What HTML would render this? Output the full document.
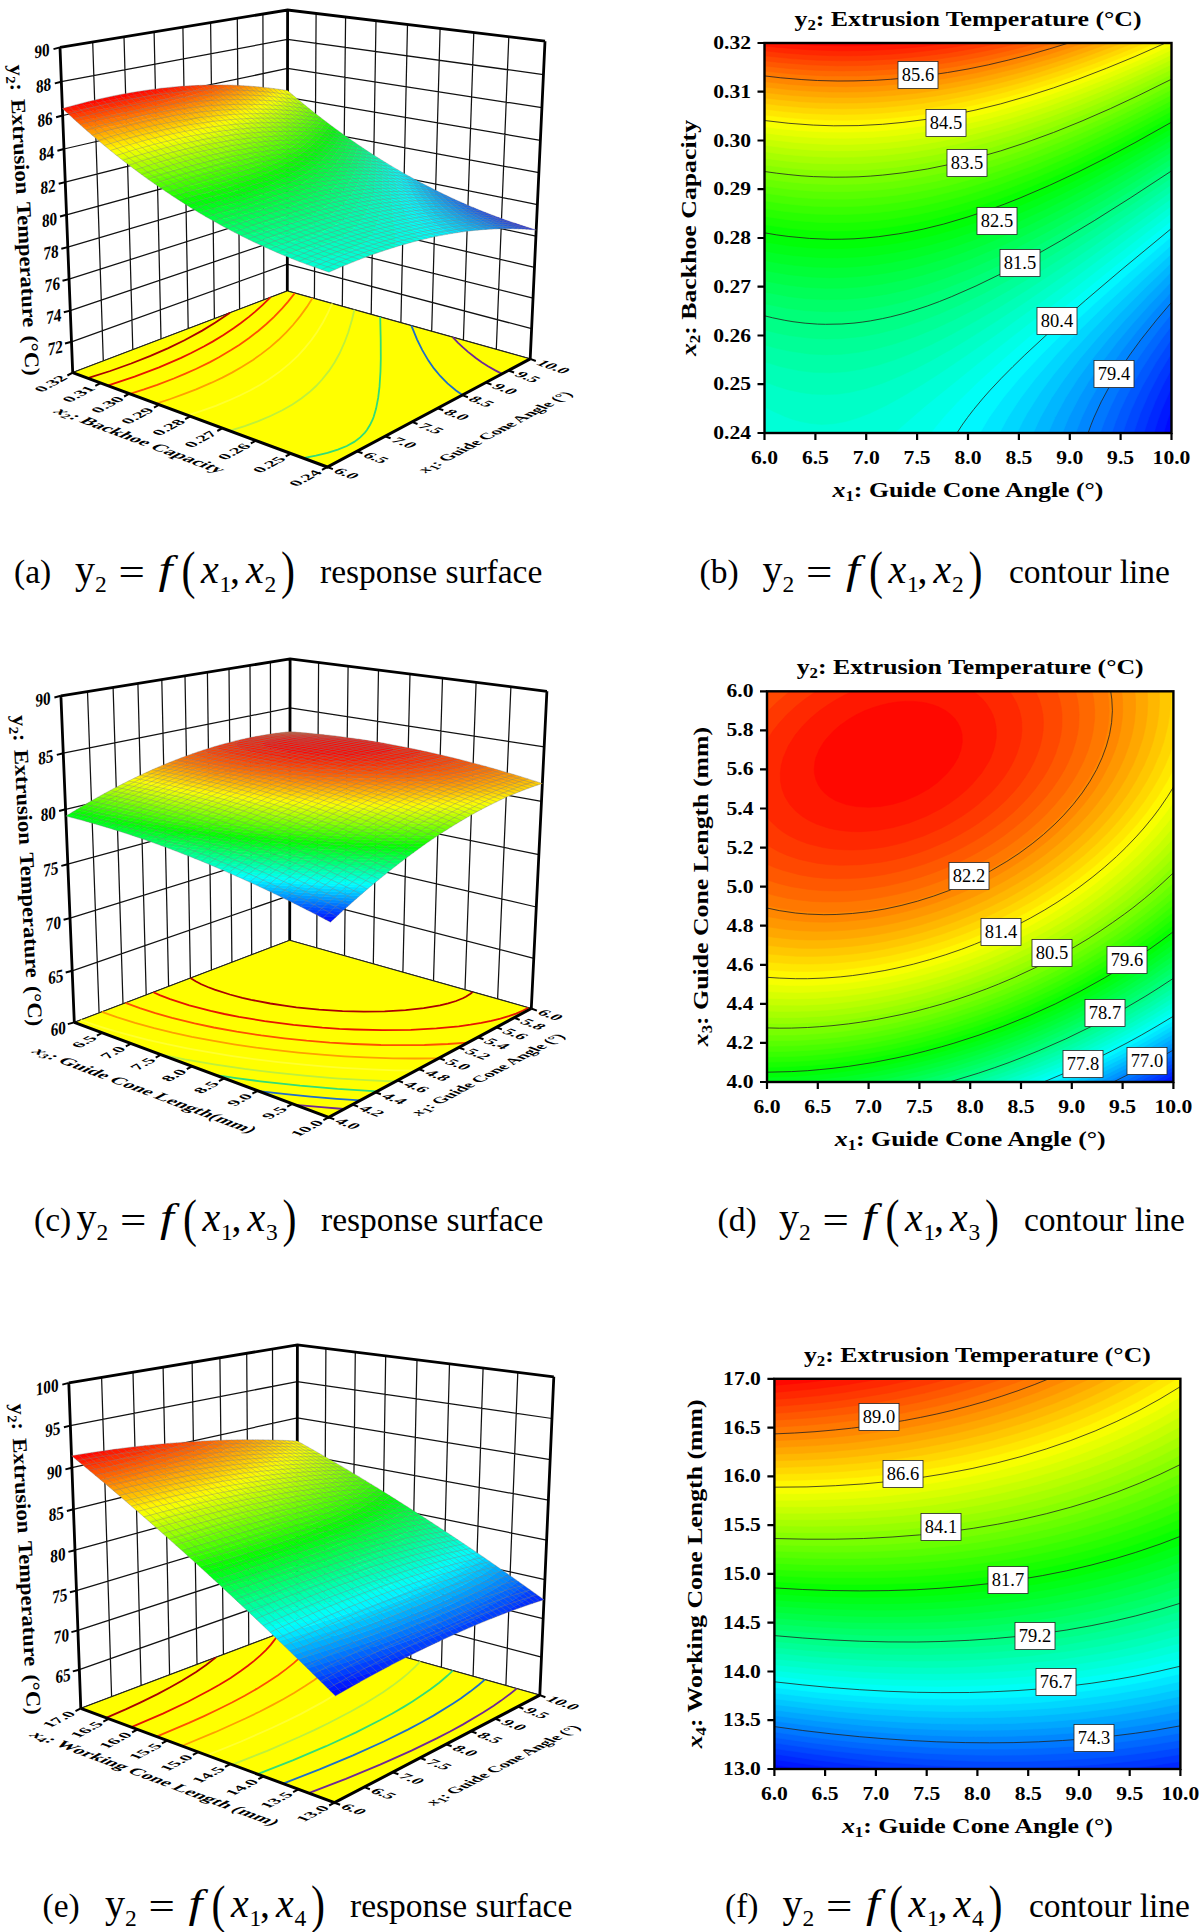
<!DOCTYPE html><html><head><meta charset="utf-8"><title>Figure</title><style>html,body{margin:0;padding:0;background:#fff}svg{display:block}text{font-family:"Liberation Serif","DejaVu Serif",serif;fill:#000}.b{font-weight:bold}.i{font-style:italic}</style></head><body>
<svg width="1200" height="1932" viewBox="0 0 1200 1932">
<rect width="1200" height="1932" fill="#fff"/>
<clipPath id="cpb"><rect x="764.5" y="43" width="407" height="390"/></clipPath><g clip-path="url(#cpb)">
<rect x="764.5" y="43" width="407" height="390" fill="#0000ff"/>
<rect x="764.5" y="43" width="407" height="390" fill="#0008ff"/>
<path d="M764.5 433l399.2 0l3.5-11.7l4.3-12l0-366.3l-407 0l0 390z" fill="#0018ff" stroke="#0018ff" stroke-width="0.6"/>
<path d="M764.5 433l389.5 0l3.6-11.7l4.2-11.7l9.7-22.3l0-344.3l-407 0l0 390z" fill="#0028ff" stroke="#0028ff" stroke-width="0.6"/>
<path d="M764.5 433l379.4 0l5.1-15.6l6.2-15.6l7.2-15.6l9.1-17.1l0-326.1l-407 0l0 390z" fill="#0038ff" stroke="#0038ff" stroke-width="0.6"/>
<path d="M764.5 433l369.1 0l6.7-19.5l8.4-19.5l10.1-19.5l12.7-21.3l0-310.2l-407 0l0 390z" fill="#0048ff" stroke="#0048ff" stroke-width="0.6"/>
<path d="M764.5 433l358.4 0l3.9-11.7l4.6-11.7l5.2-11.7l5.8-11.7l13.4-23.4l15.7-23.8l0-296l-407 0l0 390z" fill="#0058ff" stroke="#0058ff" stroke-width="0.6"/>
<path d="M764.5 433l347.3 0l4-11.7l4.7-11.7l5.4-11.7l8.2-15.6l6.7-11.7l9.9-15.6l10.8-15.6l10-13.5l0-282.9l-407 0l0 390z" fill="#0068ff" stroke="#0068ff" stroke-width="0.6"/>
<path d="M764.5 433l335.7 0l4.2-11.7l6.7-15.6l5.7-11.7l8.7-15.6l9.7-15.6l10.7-15.6l11.5-15.6l14.1-17.8l0-270.8l-407 0l0 390z" fill="#0078ff" stroke="#0078ff" stroke-width="0.6"/>
<path d="M764.5 433l323.7 0l5.9-15.6l7.2-15.6l8.5-15.6l9.5-15.6l10.5-15.6l11.4-15.6l15.5-19.5l14.8-17.5l0-259.4l-407 0l0 390z" fill="#0087ff" stroke="#0087ff" stroke-width="0.6"/>
<path d="M764.5 433l311.1 0l6.2-15.6l7.5-15.6l11.1-19.5l10.1-15.6l11.1-15.6l15.2-19.5l16.4-19.5l18.3-20.4l0-248.7l-407 0l0 390z" fill="#0097ff" stroke="#0097ff" stroke-width="0.6"/>
<path d="M764.5 433l297.8 0l6.4-15.6l10.1-19.5l9.4-15.6l13.3-19.5l14.9-19.5l16.2-19.5l17.4-19.5l21.5-22.8l0-238.5l-407 0l0 390z" fill="#00a7ff" stroke="#00a7ff" stroke-width="0.6"/>
<path d="M764.5 433l283.7 0l6.8-15.6l10.5-19.5l12.6-19.5l14.2-19.5l15.8-19.5l17.1-19.5l21.8-23.4l24.5-24.7l0-228.8l-407 0l0 390z" fill="#00b7ff" stroke="#00b7ff" stroke-width="0.6"/>
<path d="M764.5 433l268.7 0l7.2-15.6l11.1-19.5l13.2-19.5l15-19.5l16.5-19.5l21.3-23.4l26.8-27.3l27.2-26.2l0-219.5l-407 0l0 390z" fill="#00c7ff" stroke="#00c7ff" stroke-width="0.6"/>
<path d="M764.5 433l252.6 0l5.6-11.7l4.3-7.8l12.3-19.5l14.3-19.5l16.1-19.5l21.2-23.4l22.8-23.4l28.2-27.3l29.6-27.3l0-210.6l-407 0l0 390z" fill="#00d7ff" stroke="#00d7ff" stroke-width="0.6"/>
<path d="M764.5 433l234.9 0l8.4-15.6l12.8-19.5l14.9-19.5l20.3-23.4l22.3-23.4l27.9-27.3l29.5-27.3l36-32l0-202l-407 0l0 390z" fill="#00e7ff" stroke="#00e7ff" stroke-width="0.6"/>
<path d="M764.5 433l215.4 0l9.2-15.6l14-19.5l16.2-19.5l21.7-23.4l23.6-23.4l29.3-27.3l35-31.2l42.6-36.5l0-193.6l-407 0l0 390z" fill="#00f7ff" stroke="#00f7ff" stroke-width="0.6"/>
<path d="M764.5 433l193 0l10.5-15.6l15.7-19.5l17.9-19.5l23.5-23.4l29.5-27.3l31-27.3l41.4-35.1l44.5-36.8l0-185.5l-407 0l0 390z" fill="#00fff7" stroke="#00fff7" stroke-width="0.6"/>
<path d="M764.5 433l166.1 0l12.7-15.6l14.4-15.6l20-19.5l25.7-23.4l31.6-27.3l37.4-31.2l48.1-39l51-40.7l0-177.7l-407 0l0 390z" fill="#00ffe7" stroke="#00ffe7" stroke-width="0.6"/>
<path d="M764.5 433l129.7 0l31.5-27.3l53.1-42.9l79.7-62.4l113-87.3l0-170.1l-407 0l0 390z" fill="#00ffd7" stroke="#00ffd7" stroke-width="0.6"/>
<path d="M799.8 421.3l9.5 2l12.2 1.1l12.2-0.7l12.2-2.3l12.2-3.6l12.2-4.8l16.3-7.8l16.3-9l20.3-12.3l16.3-10.4l24.4-16.4l32.6-22.7l77.3-56.1l97.7-72.6l0-162.7l-407 0l0 363.8l8.1 4.2l12.2 5.4l8.2 3l6.8 1.9z" fill="#00ffc7" stroke="#00ffc7" stroke-width="0.6"/>
<path d="M812.1 394l13.5 0.6l12.2-0.6l12.2-1.7l16.2-3.8l16.3-5.3l16.3-6.7l16.3-7.6l16.3-8.5l20.3-11.5l20.4-12.3l24.4-15.5l28.5-18.8l61-42.3l85.5-61.6l0-155.4l-407 0l0 338.6l12.2 4.6l12.2 3.7l12.2 2.6l11 1.5z" fill="#00ffb7" stroke="#00ffb7" stroke-width="0.6"/>
<path d="M799 370.6l14.3 1.7l16.3 0.5l16.3-1.1l16.3-2.7l16.3-4l16.2-5.2l16.3-6.3l20.4-9l20.3-10.3l24.4-13.4l24.5-14.4l24.4-15.2l32.5-21.1l32.6-21.9l40.7-28.1l40.7-28.7l0-148.4l-407 0l0 318.8l16.3 4.9l18.2 3.9z" fill="#00ffa7" stroke="#00ffa7" stroke-width="0.6"/>
<path d="M789.6 351.1l19.7 2.8l16.3 0.8l16.2-0.5l16.3-1.9l16.3-3.1l20.3-5.5l20.4-7l20.3-8.3l20.4-9.5l24.4-12.5l28.5-16l24.4-14.5l28.5-17.8l32.6-21.1l36.6-24.5l40.7-28l0-141.5l-407 0l0 301.9l12.2 3.4l12.9 2.8z" fill="#00ff97" stroke="#00ff97" stroke-width="0.6"/>
<path d="M789.3 335.5l20 2.6l16.3 0.8l16.2-0.4l20.4-2.1l16.3-3l20.3-5.2l20.4-6.6l20.3-7.9l20.4-8.9l24.4-11.9l24.4-12.9l28.5-16.2l32.6-19.6l32.5-20.6l32.6-21.3l36.6-24.6l0-134.7l-407 0l0 286.9l12.2 3.1l12.6 2.5z" fill="#00ff87" stroke="#00ff87" stroke-width="0.6"/>
<path d="M807.9 323.8l17.7 0.9l16.2-0.3l20.4-1.9l16.3-2.7l20.3-4.7l16.3-4.7l20.3-7l20.4-8.2l20.3-9l24.5-12l20.3-10.6l28.5-16l28.5-16.8l28.5-17.5l32.5-20.8l32.6-21.4l0-128.1l-407 0l0 273.2l20.3 4.5l12.3 1.9l10.8 1.2z" fill="#00ff78" stroke="#00ff78" stroke-width="0.6"/>
<path d="M786.9 308.2l18.3 2.4l20.4 1.1l16.2-0.2l20.4-1.7l20.3-3.2l20.4-4.6l20.3-5.9l20.4-7l24.4-9.7l20.4-9l24.4-11.9l28.5-15l28.5-16l32.5-19.2l32.6-20.2l36.6-23.5l0-121.6l-407 0l0 260.7l22.4 4.5z" fill="#00ff68" stroke="#00ff68" stroke-width="0.6"/>
<path d="M788.5 296.5l16.7 2l20.4 1.1l20.3-0.4l20.3-1.8l20.4-3.2l20.4-4.5l20.3-5.7l20.3-6.8l24.5-9.4l20.3-8.8l24.4-11.5l28.5-14.6l28.5-15.6l28.5-16.4l32.6-19.6l36.6-23l0-115.3l-407 0l0 248.9l24 4.6z" fill="#00ff58" stroke="#00ff58" stroke-width="0.6"/>
<path d="M785.3 284.8l19.9 2.4l20.4 1.1l16.2-0.1l20.4-1.4l20.3-2.8l20.4-4l20.3-5.1l24.4-7.6l24.5-9l24.4-10.2l24.4-11.2l24.4-12.1l28.5-15.1l28.5-16l32.6-19.2l36.6-22.5l0-109l-407 0l0 237.9l20.8 3.9z" fill="#00ff48" stroke="#00ff48" stroke-width="0.6"/>
<path d="M811.7 277l17.9 0.7l20.4-0.6l16.2-1.3l20.4-2.8l16.3-3.1l20.3-4.9l20.4-5.9l20.3-6.9l20.4-7.7l24.4-10.3l24.4-11.3l24.4-12.1l24.5-12.9l28.4-15.8l28.5-16.5l32.6-19.7l0-102.9l-407 0l0 227.5l24.4 4.2l22.8 2.3z" fill="#00ff38" stroke="#00ff38" stroke-width="0.6"/>
<path d="M794.4 265.3l18.9 1.7l20.4 0.5l16.3-0.4l20.3-1.7l20.4-2.9l20.3-4l20.4-5l20.3-6.1l20.4-6.9l24.4-9.4l24.4-10.5l24.4-11.3l24.5-12.2l28.4-15l28.5-15.9l28.5-16.6l16.3-9.7l0-96.9l-407 0l0 217.5l16.3 3l13.6 1.8z" fill="#00ff28" stroke="#00ff28" stroke-width="0.6"/>
<path d="M818.3 257.5l19.5 0.3l20.3-0.9l16.3-1.5l20.3-2.9l20.4-4.1l16.3-3.9l20.3-5.8l20.4-6.7l20.3-7.5l20.4-8.2l24.4-10.7l24.4-11.6l24.4-12.3l28.5-15.2l28.5-15.9l28.5-16.6l0-91l-407 0l0 208l12.2 2.2l16.3 2.3l25.3 2z" fill="#00ff18" stroke="#00ff18" stroke-width="0.6"/>
<path d="M789.3 245.8l20 1.9l16.3 0.8l16.2 0l20.4-1.1l20.3-2.1l16.3-2.5l16.3-3.2l20.3-4.8l20.4-5.7l20.3-6.6l20.4-7.4l20.3-8.1l20.4-8.8l24.4-11.2l24.4-12.1l24.4-12.6l28.5-15.6l32.6-18.5l0-85.2l-407 0l0 198.9l24.8 3.9z" fill="#00ff08" stroke="#00ff08" stroke-width="0.6"/>
<path d="M799.6 238l17.8 1.2l16.3 0.4l16.3-0.3l20.3-1.4l16.3-1.9l20.4-3.3l20.3-4.2l16.3-4.1l20.3-5.9l20.4-6.7l20.3-7.4l20.4-8.2l20.3-8.7l20.4-9.3l24.4-11.9l24.4-12.5l28.5-15.3l28.5-16l0-79.5l-407 0l0 190.1l16.3 2.7l18.8 2.2z" fill="#08ff00" stroke="#08ff00" stroke-width="0.6"/>
<path d="M809.8 230.2l19.8 0.8l16.3-0.1l16.3-0.9l16.3-1.4l20.3-2.8l16.3-2.9l16.3-3.5l20.3-5.2l16.3-4.7l20.4-6.7l20.3-7.3l20.3-8.1l20.4-8.6l20.4-9.2l24.4-11.7l24.4-12.4l28.5-15.2l24.4-13.5l0-73.8l-407 0l0 181.7l24.4 3.6l20.9 1.9z" fill="#18ff00" stroke="#18ff00" stroke-width="0.6"/>
<path d="M820.1 222.4l17.7 0.3l16.2-0.4l16.3-1.1l16.3-1.7l16.3-2.4l16.3-2.9l20.3-4.5l16.3-4.3l16.3-4.7l20.3-6.6l20.4-7.3l20.3-8l20.4-8.5l20.3-9.1l44.8-21.8l24.4-12.7l28.5-15.5l0-68.2l-407 0l0 173.4l28.5 4.1l27.1 1.9z" fill="#28ff00" stroke="#28ff00" stroke-width="0.6"/>
<path d="M830.9 214.6l15-0.1l16.3-0.7l16.3-1.3l16.2-2l16.3-2.6l16.3-3.1l16.3-3.7l20.3-5.3l20.4-6.2l16.3-5.4l36.6-13.7l40.7-17.5l44.8-21.5l48.8-25.7l0-62.8l-407 0l0 165.5l16.3 2.5l16.3 1.8l16.2 1.2l17.6 0.6z" fill="#38ff00" stroke="#38ff00" stroke-width="0.6"/>
<path d="M833.3 206.8l16.7-0.2l16.2-0.8l16.3-1.5l16.3-2l16.3-2.6l16.3-3.2l32.5-7.9l32.6-9.9l36.6-13.2l36.7-15.1l40.7-18.8l32.5-16.2l28.5-15l0-57.4l-407 0l0 157.8l16.3 2.4l16.3 1.8l16.2 1.2l20 0.6z" fill="#48ff00" stroke="#48ff00" stroke-width="0.6"/>
<path d="M823.4 199l14.4 0.2l16.2-0.3l28.5-2.1l16.3-1.9l16.3-2.6l16.3-3l16.2-3.6l32.6-8.7l32.6-10.6l36.6-13.7l36.6-15.6l40.7-19.2l44.8-22.9l0-52l-407 0l0 150.2l28.5 3.8l16.3 1.3l14.1 0.7z" fill="#58ff00" stroke="#58ff00" stroke-width="0.6"/>
<path d="M814 191.2l15.6 0.5l16.3 0l28.5-1.4l16.3-1.6l16.3-2.2l28.4-5.1l28.5-6.7l32.6-9.4l32.5-11.1l36.7-14.4l24.4-10.5l28.5-13.1l24.4-11.9l28.5-14.5l0-46.8l-407 0l0 142.9l24.4 3.3l25.1 2z" fill="#68ff00" stroke="#68ff00" stroke-width="0.6"/>
<path d="M804.7 183.4l29 1.2l28.5-0.7l28.5-2.3l28.5-4.1l32.5-6.6l28.5-7.3l32.6-10l32.5-11.7l28.5-11.4l32.6-14.2l32.5-15.4l32.6-16.3l0-41.6l-407 0l0 135.8l20.4 2.8l19.8 1.8z" fill="#78ff00" stroke="#78ff00" stroke-width="0.6"/>
<path d="M795.4 175.6l26.1 1.7l28.5 0.1l28.5-1.6l28.5-3.2l28.4-4.9l28.5-6.3l32.6-9l32.5-10.6l32.6-12.2l36.6-15.3l36.7-16.8l36.6-18l0-36.5l-407 0l0 128.8l16.3 2.3l14.6 1.5z" fill="#87ff00" stroke="#87ff00" stroke-width="0.6"/>
<path d="M786.2 167.8l27.1 2.2l28.5 0.6l24.4-0.7l28.5-2.5l28.5-4l28.5-5.6l28.5-7l32.6-9.7l36.6-12.7l40.7-16.2l40.7-18.1l40.7-19.7l0-31.4l-407 0l0 122l21.7 2.8z" fill="#97ff00" stroke="#97ff00" stroke-width="0.6"/>
<path d="M835 163.9l27.2-0.5l24.4-1.8l24.4-2.9l24.4-4l24.5-5.1l28.5-7.3l28.4-8.5l28.5-9.7l32.6-12.4l28.5-11.9l32.5-14.7l32.6-15.7l0-26.4l-407 0l0 115.3l20.3 2.6l16.3 1.6l16.3 1l17.6 0.4z" fill="#a7ff00" stroke="#a7ff00" stroke-width="0.6"/>
<path d="M804.3 156.1l25.3 1.1l24.4-0.1l28.5-1.6l24.5-2.7l24.4-3.7l28.5-5.7l24.4-6.1l28.5-8.1l36.6-12.3l36.6-14l40.7-17.4l44.8-21.1l0-21.4l-407 0l0 108.7l20.3 2.7l19.5 1.7z" fill="#b7ff00" stroke="#b7ff00" stroke-width="0.6"/>
<path d="M788.6 148.3l24.7 1.9l24.5 0.7l24.4-0.5l24.4-1.7l24.4-2.7l28.5-4.6l28.5-6l24.4-6.2l20.4-5.9l20.3-6.5l20.4-7l20.3-7.6l24.4-9.7l20.4-8.6l24.4-10.9l24.4-11.5l4.1-2l0-16.5l-407 0l0 102.3l24.1 3z" fill="#c7ff00" stroke="#c7ff00" stroke-width="0.6"/>
<path d="M829 144.4l21 0l24.4-1l20.3-1.7l24.5-3.1l20.3-3.3l24.4-5l24.5-5.9l24.4-6.8l36.6-11.9l36.6-13.6l36.7-15.1l36.6-16.5l12.2-5.8l0-11.7l-407 0l0 96l32.6 3.7l31.9 1.7z" fill="#d7ff00" stroke="#d7ff00" stroke-width="0.6"/>
<path d="M798.1 136.6l23.4 1.4l24.4 0.3l20.3-0.6l24.5-1.7l20.3-2.3l24.4-3.7l24.5-4.7l24.4-5.6l28.5-7.8l28.5-8.9l32.5-11.5l32.6-12.7l32.5-13.9l32.6-15l0-6.9l-407 0l0 89.9l16.3 2l17.3 1.7z" fill="#e7ff00" stroke="#e7ff00" stroke-width="0.6"/>
<path d="M780.4 128.8l20.7 1.9l24.5 1.3l24.4 0.1l24.4-0.9l20.3-1.7l24.5-2.9l24.4-3.9l24.4-5l24.4-5.8l28.5-8l24.4-7.7l28.5-10l32.6-12.5l36.6-15.5l28.5-13l0-2.2l-407 0l0 83.8l15.9 2z" fill="#f7ff00" stroke="#f7ff00" stroke-width="0.6"/>
<path d="M803.8 124.9l21.8 1.1l20.3 0.2l20.3-0.6l20.4-1.3l20.4-2l20.3-2.7l24.4-4.2l20.4-4.2l20.3-4.9l24.4-6.6l24.5-7.5l24.4-8.2l24.4-9l24.4-9.6l24.4-10.3l27.2-12.1l-401.6 0l0 77.8l20.3 2.5l19 1.6z" fill="#fff700" stroke="#fff700" stroke-width="0.6"/>
<path d="M782.1 117.1l23.1 2l20.4 1l20.3 0.2l24.4-0.8l20.4-1.4l24.4-2.6l24.4-3.6l20.4-3.8l20.3-4.4l24.4-6.1l24.4-6.9l24.5-7.8l24.4-8.5l24.4-9.1l28.5-11.6l24.9-10.7l-391.2 0l0 72l17.6 2.1z" fill="#ffe700" stroke="#ffe700" stroke-width="0.6"/>
<path d="M804.1 113.2l17.4 0.9l20.3 0.4l20.4-0.4l20.3-1.1l20.4-1.8l20.3-2.5l20.4-3.1l20.3-3.8l20.4-4.5l20.3-5.1l20.4-5.6l24.4-7.5l20.4-6.8l24.4-8.9l24.4-9.5l26.3-10.9l-380.4 0l0 66.2l20.3 2.4l19.3 1.6z" fill="#ffd700" stroke="#ffd700" stroke-width="0.6"/>
<path d="M780.2 105.4l20.9 1.9l20.4 1.1l20.3 0.4l20.4-0.4l20.3-1l20.4-1.8l20.3-2.4l24.4-3.8l20.4-3.9l24.4-5.5l20.4-5.2l24.4-7l24.4-7.8l24.4-8.5l24.4-9.2l23.3-9.3l-369.2 0l0 60.5l15.7 1.9z" fill="#ffc700" stroke="#ffc700" stroke-width="0.6"/>
<path d="M799.2 101.5l18.2 1.1l20.4 0.5l20.3-0.2l20.4-0.9l20.3-1.5l16.3-1.8l20.3-2.8l20.4-3.4l20.3-4.1l20.4-4.7l20.3-5.2l20.4-5.8l40.7-13.2l44.2-16.5l-357.6 0l0 54.9l16.3 1.9l18.4 1.7z" fill="#ffb700" stroke="#ffb700" stroke-width="0.6"/>
<path d="M775.3 93.7l17.7 1.8l20.3 1.3l20.4 0.7l20.3 0l20.4-0.8l20.3-1.4l20.4-2l20.3-2.8l20.4-3.4l20.3-4l20.4-4.6l24.4-6.3l24.4-7l20.4-6.5l20.3-6.9l23.9-8.8l-345.4 0l0 49.4l10.8 1.3z" fill="#ffa700" stroke="#ffa700" stroke-width="0.6"/>
<path d="M790.8 89.8l18.5 1.3l20.3 0.8l16.3 0.2l20.3-0.4l16.3-0.9l20.4-1.6l16.3-1.8l20.3-2.8l20.4-3.5l20.3-4l36.6-8.8l40.7-11.8l39.7-13.5l-332.7 0l0 43.9l26.3 2.9z" fill="#ff9700" stroke="#ff9700" stroke-width="0.6"/>
<path d="M812.4 85.9l33.5 0.8l32.6-1l32.5-2.7l32.6-4.3l32.5-5.9l36.7-8.5l36.6-10.2l34.4-11.1l-319.3 0l0 38.6l24.4 2.7l23.5 1.6z" fill="#ff8700" stroke="#ff8700" stroke-width="0.6"/>
<path d="M780.3 78.1l33 2.5l16.3 0.6l20.4 0.2l32.5-1.2l16.3-1.2l20.4-2.1l36.6-5.4l36.6-7.3l36.6-9.1l40.6-12.1l-305.1 0l0 33.3l15.8 1.8z" fill="#ff7800" stroke="#ff7800" stroke-width="0.6"/>
<path d="M795.2 74.2l30.4 1.7l32.5 0.1l32.6-1.6l32.5-3.2l32.6-4.8l32.6-6.3l32.5-7.7l33.5-9.4l-289.9 0l0 28.1l30.7 3.1z" fill="#ff6800" stroke="#ff6800" stroke-width="0.6"/>
<path d="M816.1 70.3l25.7 0.6l28.5-0.5l24.4-1.4l28.5-2.9l28.5-4l28.5-5.2l28.5-6.3l29.3-7.6l-273.5 0l0 22.9l24.4 2.6l27.2 1.8z" fill="#ff5800" stroke="#ff5800" stroke-width="0.6"/>
<path d="M779.6 62.5l29.7 2.3l28.5 1l28.4-0.3l32.6-1.9l28.5-3l32.6-4.8l28.5-5.5l31.7-7.3l-255.6 0l0 17.8l15.1 1.7z" fill="#ff4800" stroke="#ff4800" stroke-width="0.6"/>
<path d="M792.2 58.6l25.2 1.6l24.4 0.6l24.4-0.4l28.5-1.5l24.5-2.3l28.4-3.7l24.5-4.2l28-5.7l-235.6 0l0 12.8l27.7 2.8z" fill="#ff3800" stroke="#ff3800" stroke-width="0.6"/>
<path d="M808 54.7l21.6 0.9l20.4 0.2l20.3-0.5l20.4-1.1l20.3-1.6l24.4-2.9l20.4-3l21.3-3.7l-212.6 0l0 7.8l20.3 2.2l23.2 1.7z" fill="#ff2800" stroke="#ff2800" stroke-width="0.6"/>
<path d="M839.5 50.8l26.7-0.3l28.5-1.4l28.5-2.7l25.8-3.4l-184.5 0l0 2.9l12.2 1.3l32.6 2.6l30.2 1z" fill="#ff1800" stroke="#ff1800" stroke-width="0.6"/>
<path d="M783.2 43l30.1 2.2l32.6 0.8l32.6-0.8l31-2.2l-126.3 0z" fill="#ff0800" stroke="#ff0800" stroke-width="0.6"/>
<path d="M1088.1 433l2.8-7.8l3.1-7.8l7.2-15.6l8.4-15.6l9.6-15.6l10.5-15.6l11.4-15.6l15.5-19.5l14.9-17.6" fill="none" stroke="#222" stroke-width="0.8"/>
<path d="M957 433l5-7.8l5.6-7.8l6-7.8l9.7-11.7l6.9-7.8l11-11.7l11.6-11.7l12-11.7l29.5-27.3l31.1-27.3l36.7-31.2l49.4-40.8" fill="none" stroke="#222" stroke-width="0.8"/>
<path d="M764.5 315.8l8.1 2l12.2 2.5l8.2 1.4l12.2 1.5l12.2 0.9l8.2 0.2l16.2-0.3l12.2-0.9l8.2-1l8.1-1.2l12.2-2.3l8.2-1.8l12.2-3.1l12.2-3.7l12.2-4l12.2-4.5l12.2-4.9l24.4-10.7l24.5-11.9l28.4-15.2l32.6-18.5l32.6-19.6l36.6-23.1l40.7-26.7" fill="none" stroke="#222" stroke-width="0.8"/>
<path d="M764.5 232.8l12.2 2.1l12.2 1.6l20.4 1.9l20.3 0.9l12.2-0.1l12.2-0.4l12.2-0.9l12.3-1.2l20.3-2.9l12.2-2.2l12.2-2.5l20.4-5l24.4-7.2l24.4-8.3l12.2-4.5l16.3-6.5l28.5-12.2l28.5-13.3l28.5-14.3l28.5-15.1l36.6-20.5" fill="none" stroke="#222" stroke-width="0.8"/>
<path d="M764.5 171.5l12.2 1.7l12.2 1.4l12.2 1.2l12.2 0.8l20.4 0.6l12.2-0.1l12.2-0.3l12.2-0.7l12.2-1l20.4-2.3l24.4-3.8l24.4-5l24.4-6.1l24.5-7l24.4-8l28.5-10.4l28.5-11.5l28.4-12.4l28.5-13.3l32.6-16.1" fill="none" stroke="#222" stroke-width="0.8"/>
<path d="M764.5 120.5l24.4 2.8l24.4 1.8l20.4 0.7l24.4-0.2l24.4-1.3l20.4-1.9l24.4-3.2l24.4-4.1l24.4-5.2l24.5-6l28.4-8.2l24.5-7.8l24.4-8.6l28.5-11l28.5-11.7l30.6-13.6" fill="none" stroke="#222" stroke-width="0.8"/>
<path d="M764.5 75.9l16.3 1.9l20.3 1.7l16.3 1l20.4 0.5l16.2-0.1l20.4-0.6l16.3-1l20.3-1.9l16.3-1.9l20.3-3l20.4-3.5l20.4-4.2l20.3-4.8l20.3-5.2l20.4-5.9l19.2-5.9" fill="none" stroke="#222" stroke-width="0.8"/>
</g>
<rect x="898" y="61.5" width="40" height="27" fill="#fff" stroke="#222" stroke-width="0.8"/>
<text x="918" y="81.2" font-size="18.5" text-anchor="middle">85.6</text>
<rect x="926" y="109.5" width="40" height="27" fill="#fff" stroke="#222" stroke-width="0.8"/>
<text x="946" y="129.2" font-size="18.5" text-anchor="middle">84.5</text>
<rect x="947" y="149.5" width="40" height="27" fill="#fff" stroke="#222" stroke-width="0.8"/>
<text x="967" y="169.2" font-size="18.5" text-anchor="middle">83.5</text>
<rect x="977" y="207.5" width="40" height="27" fill="#fff" stroke="#222" stroke-width="0.8"/>
<text x="997" y="227.2" font-size="18.5" text-anchor="middle">82.5</text>
<rect x="1000" y="249.5" width="40" height="27" fill="#fff" stroke="#222" stroke-width="0.8"/>
<text x="1020" y="269.2" font-size="18.5" text-anchor="middle">81.5</text>
<rect x="1037" y="307.5" width="40" height="27" fill="#fff" stroke="#222" stroke-width="0.8"/>
<text x="1057" y="327.2" font-size="18.5" text-anchor="middle">80.4</text>
<rect x="1094" y="360.5" width="40" height="27" fill="#fff" stroke="#222" stroke-width="0.8"/>
<text x="1114" y="380.2" font-size="18.5" text-anchor="middle">79.4</text>
<rect x="764.5" y="43" width="407" height="390" fill="none" stroke="#000" stroke-width="2.4"/>
<text class="b" transform="translate(764.5 463.5) scale(1.2 1)" font-size="18" text-anchor="middle">6.0</text>
<text class="b" transform="translate(815.4 463.5) scale(1.2 1)" font-size="18" text-anchor="middle">6.5</text>
<text class="b" transform="translate(866.2 463.5) scale(1.2 1)" font-size="18" text-anchor="middle">7.0</text>
<text class="b" transform="translate(917.1 463.5) scale(1.2 1)" font-size="18" text-anchor="middle">7.5</text>
<text class="b" transform="translate(968 463.5) scale(1.2 1)" font-size="18" text-anchor="middle">8.0</text>
<text class="b" transform="translate(1018.9 463.5) scale(1.2 1)" font-size="18" text-anchor="middle">8.5</text>
<text class="b" transform="translate(1069.8 463.5) scale(1.2 1)" font-size="18" text-anchor="middle">9.0</text>
<text class="b" transform="translate(1120.6 463.5) scale(1.2 1)" font-size="18" text-anchor="middle">9.5</text>
<text class="b" transform="translate(1171.5 463.5) scale(1.2 1)" font-size="18" text-anchor="middle">10.0</text>
<text class="b" transform="translate(751 439) scale(1.2 1)" font-size="18" text-anchor="end">0.24</text>
<text class="b" transform="translate(751 390.2) scale(1.2 1)" font-size="18" text-anchor="end">0.25</text>
<text class="b" transform="translate(751 341.5) scale(1.2 1)" font-size="18" text-anchor="end">0.26</text>
<text class="b" transform="translate(751 292.7) scale(1.2 1)" font-size="18" text-anchor="end">0.27</text>
<text class="b" transform="translate(751 244) scale(1.2 1)" font-size="18" text-anchor="end">0.28</text>
<text class="b" transform="translate(751 195.2) scale(1.2 1)" font-size="18" text-anchor="end">0.29</text>
<text class="b" transform="translate(751 146.5) scale(1.2 1)" font-size="18" text-anchor="end">0.30</text>
<text class="b" transform="translate(751 97.7) scale(1.2 1)" font-size="18" text-anchor="end">0.31</text>
<text class="b" transform="translate(751 49) scale(1.2 1)" font-size="18" text-anchor="end">0.32</text>
<path d="M764.5 433v7M815.4 433v7M866.2 433v7M917.1 433v7M968 433v7M1018.9 433v7M1069.8 433v7M1120.6 433v7M1171.5 433v7M764.5 433h-7M764.5 384.2h-7M764.5 335.5h-7M764.5 286.7h-7M764.5 238h-7M764.5 189.2h-7M764.5 140.5h-7M764.5 91.7h-7M764.5 43h-7" stroke="#000" stroke-width="2.2" fill="none"/>
<text class="b" transform="translate(968 26) scale(1.2 1)" font-size="21.5" text-anchor="middle">y<tspan font-size="14" dy="4">2</tspan><tspan dy="-4">: Extrusion Temperature (°C)</tspan></text>
<text class="b" transform="translate(968 496.5) scale(1.2 1)" font-size="21.5" text-anchor="middle"><tspan class="i">x</tspan><tspan font-size="14" dy="4">1</tspan><tspan dy="-4">: Guide Cone Angle (°)</tspan></text>
<text class="b" transform="translate(696 238) rotate(-90) scale(1.2 1)" font-size="21.5" text-anchor="middle"><tspan class="i">x</tspan><tspan font-size="14" dy="4">2</tspan><tspan dy="-4">: Backhoe Capacity</tspan></text>
<clipPath id="cpd"><rect x="767" y="691.3" width="406.4" height="390.7"/></clipPath><g clip-path="url(#cpd)">
<rect x="767" y="691.3" width="406.4" height="390.7" fill="#0000ff"/>
<rect x="767" y="691.3" width="406.4" height="390.7" fill="#0008ff"/>
<path d="M767 1082l400.6 0l5.8-3.2l0-387.5l-406.4 0l0 390.7z" fill="#0018ff" stroke="#0018ff" stroke-width="0.6"/>
<path d="M767 1082l393.5 0l12.9-7l0-383.7l-406.4 0l0 390.7z" fill="#0028ff" stroke="#0028ff" stroke-width="0.6"/>
<path d="M767 1082l386.3 0l20.1-10.9l0-379.8l-406.4 0l0 390.7z" fill="#0038ff" stroke="#0038ff" stroke-width="0.6"/>
<path d="M767 1082l379 0l27.4-14.9l0-375.8l-406.4 0l0 390.7z" fill="#0048ff" stroke="#0048ff" stroke-width="0.6"/>
<path d="M767 1082l371.5 0l34.9-18.8l0-371.9l-406.4 0l0 390.7z" fill="#0058ff" stroke="#0058ff" stroke-width="0.6"/>
<path d="M767 1082l363.9 0l22.2-11.6l20.3-11.3l0-367.8l-406.4 0l0 390.7z" fill="#0068ff" stroke="#0068ff" stroke-width="0.6"/>
<path d="M767 1082l356.1 0l25.9-13.4l24.4-13.5l0-363.8l-406.4 0l0 390.7z" fill="#0078ff" stroke="#0078ff" stroke-width="0.6"/>
<path d="M767 1082l348.1 0l29.9-15.2l28.4-15.8l0-359.7l-406.4 0l0 390.7z" fill="#0087ff" stroke="#0087ff" stroke-width="0.6"/>
<path d="M767 1082l340 0l33.9-17.1l32.5-18.1l0-355.5l-406.4 0l0 390.7z" fill="#0097ff" stroke="#0097ff" stroke-width="0.6"/>
<path d="M767 1082l331.6 0l38.2-19l36.6-20.4l0-351.3l-406.4 0l0 390.7z" fill="#00a7ff" stroke="#00a7ff" stroke-width="0.6"/>
<path d="M767 1082l323.1 0l22.3-10.6l20.4-10.4l20.3-11l20.3-11.7l0-347l-406.4 0l0 390.7z" fill="#00b7ff" stroke="#00b7ff" stroke-width="0.6"/>
<path d="M767 1082l314.3 0l25.1-11.7l22.3-11.3l22.6-12.2l22.1-12.8l0-342.7l-406.4 0l0 390.7z" fill="#00c7ff" stroke="#00c7ff" stroke-width="0.6"/>
<path d="M767 1082l305.3 0l25.6-11.7l26.7-13.3l24.4-13.2l24.4-14.2l0-338.3l-406.4 0l0 390.7z" fill="#00d7ff" stroke="#00d7ff" stroke-width="0.6"/>
<path d="M767 1082l296 0l29.1-13.1l28.5-14l28.4-15.4l24.4-14.3l0-333.9l-406.4 0l0 390.7z" fill="#00e7ff" stroke="#00e7ff" stroke-width="0.6"/>
<path d="M767 1082l286.4 0l30.6-13.4l28.8-13.9l29.4-15.7l31.2-18.3l0-329.4l-406.4 0l0 390.7z" fill="#00f7ff" stroke="#00f7ff" stroke-width="0.6"/>
<path d="M767 1082l276.5 0l36.3-15.6l32.3-15.7l29.2-15.6l32.1-18.9l0-324.9l-406.4 0l0 390.7z" fill="#00fff7" stroke="#00fff7" stroke-width="0.6"/>
<path d="M767 1082l266.2 0l37.3-15.6l33.8-16l36.1-19.2l33-19.6l0-320.3l-406.4 0l0 390.7z" fill="#00ffe7" stroke="#00ffe7" stroke-width="0.6"/>
<path d="M767 1082l255.5 0l19.9-7.8l18.6-7.8l18.9-8.6l20.3-9.7l17.7-9.1l18.9-10.3l16.3-9.4l20.3-12.4l0-315.6l-406.4 0l0 390.7z" fill="#00ffd7" stroke="#00ffd7" stroke-width="0.6"/>
<path d="M767 1082l244.4 0l19.8-7.5l20.3-8.3l20.3-8.9l22.1-10.5l18.5-9.3l20.4-11l20.3-11.8l20.3-12.6l0-310.8l-406.4 0l0 390.7z" fill="#00ffc7" stroke="#00ffc7" stroke-width="0.6"/>
<path d="M767 1082l232.7 0l23.3-8.6l24.4-9.7l20.7-9l24-11.4l20.3-10.3l20.4-11.1l20.3-11.9l20.3-12.7l0-306l-406.4 0l0 390.7z" fill="#00ffb7" stroke="#00ffb7" stroke-width="0.6"/>
<path d="M767 1082l220.5 0l23.3-8.2l24.4-9.4l24.4-10.3l24.4-11.3l23.1-11.6l21.7-11.7l20.2-11.8l24.4-15.3l0-301.1l-406.4 0l0 390.7z" fill="#00ffa7" stroke="#00ffa7" stroke-width="0.6"/>
<path d="M767 1082l207.5 0l28.2-9.5l26.5-10l26.3-11l24.4-11.2l24.4-12.2l23.1-12.5l21.6-12.7l24.4-15.5l0-296.1l-406.4 0l0 390.7z" fill="#00ff97" stroke="#00ff97" stroke-width="0.6"/>
<path d="M767 1082l193.7 0l29.8-9.6l27.5-9.9l29-11.8l24.8-11.1l25.1-12.3l27.7-14.9l24.4-14.4l24.4-15.7l0-291l-406.4 0l0 390.7z" fill="#00ff87" stroke="#00ff87" stroke-width="0.6"/>
<path d="M767 1082l178.9 0l28.4-8.5l32-11l28.9-11.3l28.5-12.4l28.4-13.7l28.5-15.3l28.4-16.8l24.4-15.9l0-285.8l-406.4 0l0 390.7z" fill="#00ff78" stroke="#00ff78" stroke-width="0.6"/>
<path d="M767 1082l162.8 0l7.9-2.1l32.5-9.5l32.5-11l32.2-12.6l26.8-11.7l30.4-14.8l28.5-15.3l27.9-16.8l24.9-16.4l0-280.5l-406.4 0l0 390.7z" fill="#00ff68" stroke="#00ff68" stroke-width="0.6"/>
<path d="M767 1082l145 0l33.8-8.7l32.5-9.9l28.5-10l32.5-13l28.4-12.8l24.4-12.1l28.5-15.5l25.9-15.7l26.9-17.9l0-275.1l-406.4 0l0 390.7z" fill="#00ff58" stroke="#00ff58" stroke-width="0.6"/>
<path d="M767 1082l124.8 0l33.7-7.7l28.9-7.9l28-8.9l29.6-10.7l28.8-11.7l26.9-12.2l29.9-15.1l27-15.2l25.9-16.1l22.9-15.6l0-269.6l-406.4 0l0 390.7z" fill="#00ff48" stroke="#00ff48" stroke-width="0.6"/>
<path d="M767 1082l100.8 0l25.2-4.7l24.4-5.5l24.4-6.3l23.3-6.9l25.4-8.5l29.5-11.1l27.4-11.5l25.3-11.9l27.5-14.3l24.4-13.9l24.4-15.3l24.4-16.8l0-264l-406.4 0l0 390.7z" fill="#00ff38" stroke="#00ff38" stroke-width="0.6"/>
<path d="M767 1082l69.7 0l19.7-2.7l29.3-5.1l31.7-6.9l28.4-7.6l28.5-8.7l24.3-8.5l28.5-11.1l27.2-11.9l24.2-11.7l25.8-13.8l23.1-13.6l24.4-15.6l21.6-15.2l0-258.3l-406.4 0l0 390.7z" fill="#00ff28" stroke="#00ff28" stroke-width="0.6"/>
<path d="M767 1082l24.4-0.7l28.4-2.1l24.4-2.8l28.5-4.4l28.4-5.6l28.5-6.8l28.4-8.1l24.4-7.9l24.4-8.9l27.8-11.3l25-11.4l24.2-12l24.6-13.6l22.9-13.8l21.8-14.3l20.3-14.6l0-252.4l-406.4 0l0 390.7z" fill="#00ff18" stroke="#00ff18" stroke-width="0.6"/>
<path d="M767 1074.2l0 3l28.4-0.9l32.6-2.7l32.5-4.3l28.4-5l28.5-6.4l28.4-7.5l28.5-8.8l28.4-10.2l24.4-9.7l28.4-12.8l24.4-12.1l24.4-13.4l24.5-14.7l23.5-15.6l21.1-15.4l0-246.4l-406.4 0l0 382.9z" fill="#00ff08" stroke="#00ff08" stroke-width="0.6"/>
<path d="M767 1070.3l0 1.9l16.3-0.3l20.3-1l28.4-2.5l32.5-4.5l28.5-5.2l28.4-6.5l28.5-7.8l28.4-9.1l24.4-8.8l26.9-10.9l25.8-11.7l24.5-12.4l24.4-13.5l24.4-14.9l20.8-13.9l23.9-17.6l0-240.3l-406.4 0l0 379z" fill="#08ff00" stroke="#08ff00" stroke-width="0.6"/>
<path d="M767 1066.4l0 0.8l12.2-0.1l32.5-1.7l28.5-2.8l28.4-4.2l28.4-5.4l26.4-6.2l28.2-7.8l26.7-8.6l28.5-10.5l24.4-10.1l28.4-13.2l23.8-12.3l20.9-11.8l25-15.5l22.7-15.7l21.4-16.1l0-233.9l-406.4 0l0 375.1z" fill="#18ff00" stroke="#18ff00" stroke-width="0.6"/>
<path d="M767 1058.6l0 3.5l24.4-0.5l16.2-0.8l20.4-1.8l32.5-4.2l28.4-5l28.5-6.4l28.4-7.6l28.5-9l28.4-10.4l24.4-10l28.4-13.1l25-12.9l23.8-13.6l24.4-15.4l24.4-17l20.3-15.7l0-227.4l-406.4 0l0 367.3z" fill="#28ff00" stroke="#28ff00" stroke-width="0.6"/>
<path d="M767 1054.7l0 2.2l16.3-0.1l20.3-0.9l28.4-2.3l32.5-4.4l28.5-5.2l28.4-6.6l28.5-7.9l28.4-9.2l24.4-9l28.5-12l24.3-11.4l28.5-15l20.6-12l24.3-15.6l22.1-15.7l22.4-17.6l0-220.7l-406.4 0l0 363.4z" fill="#38ff00" stroke="#38ff00" stroke-width="0.6"/>
<path d="M767 1050.7l0 0.9l16.3-0.1l32.5-1.6l28.4-2.9l28.5-4.2l24.3-4.8l28.8-6.8l28.1-8l28.5-9.6l25.6-9.7l27.1-11.8l24.5-11.8l24.4-13.2l23.6-14l23.7-15.7l21.4-15.6l20.7-16.7l0-213.8l-406.4 0l0 359.4z" fill="#48ff00" stroke="#48ff00" stroke-width="0.6"/>
<path d="M767 1042.9l0 3.3l28.4-0.4l32.6-2.2l16.2-1.8l19.9-2.8l28.9-5.3l28.4-6.6l28.5-7.9l28.4-9.4l26-9.8l27.3-11.8l24.2-11.7l28.2-15.2l26.3-16l22.5-15.3l21.2-16l18.9-15.6l0.5-0.5l0-206.6l-406.4 0l0 351.6z" fill="#58ff00" stroke="#58ff00" stroke-width="0.6"/>
<path d="M767 1039l0 1.7l20.3 0l20.3-0.8l28.5-2.4l32.5-4.5l28.4-5.4l28.5-6.8l28.4-8.2l24.4-8.2l28.5-11l24.4-10.6l24.3-11.9l24.4-13.3l20.6-12.3l23.5-15.7l21.2-15.6l19.2-15.6l9-7.9l0-199.2l-406.4 0l0 347.7z" fill="#68ff00" stroke="#68ff00" stroke-width="0.6"/>
<path d="M770.4 1035.1l25-0.2l24.4-1.3l24.4-2.5l28.5-4.1l24.3-4.8l28.5-6.8l26.5-7.6l26.3-8.9l24.4-9.4l24.4-10.6l24.4-11.8l24.4-13.3l20.7-12.5l23.5-15.6l21.1-15.6l19.1-15.6l13.1-11.7l0-191.5l-406.4 0l0 343.7l3.4 0.1z" fill="#78ff00" stroke="#78ff00" stroke-width="0.6"/>
<path d="M767 1027.3l0 2l16.3 0.2l20.3-0.5l28.4-2l28.5-3.6l24.4-4.1l28.4-6.3l28.5-7.7l24.3-7.7l24.4-8.9l24.4-10.1l24.4-11.4l24.4-12.7l22.6-13.2l22.1-14.2l18.4-13.1l20-15.6l13.7-11.8l12.9-11.9l0-183.4l-406.4 0l0 336z" fill="#87ff00" stroke="#87ff00" stroke-width="0.6"/>
<path d="M767.2 1023.4l24.2 0.2l24.4-1l24.4-2.1l24.3-3.3l24.4-4.3l24.4-5.5l27.6-7.4l24.4-7.9l25.2-9.2l24.4-10.2l24.4-11.6l20.3-10.6l20.3-11.8l20.4-13l22.2-15.6l18.4-14.4l16.2-14l16.3-15.4l0-175l-406.4 0l0.2 332.1z" fill="#97ff00" stroke="#97ff00" stroke-width="0.6"/>
<path d="M767 1015.6l0 1.7l16.3 0.4l16.2-0.2l28.5-1.6l28.4-3.2l24.4-4l24.4-5.1l24.4-6.2l24.3-7.3l24.4-8.5l22.8-9l26-11.7l20.3-10.2l23.6-13.3l18.9-11.7l18.5-12.6l20.3-15.2l22.5-19.1l12.5-11.7l9.7-9.7l0-166.1l-406.4 0l0 324.3z" fill="#a7ff00" stroke="#a7ff00" stroke-width="0.6"/>
<path d="M767 1007.8l0 3.3l16.3 0.5l28.4-0.6l16.3-1l16.2-1.6l24.4-3.4l26.8-5l26-6.2l24.4-7l24.4-8.2l24.4-9.4l20.3-8.9l23-11.1l21.6-11.8l20.4-12.2l20.3-13.6l20.4-15l16.2-13.3l12.2-10.9l13.6-13.1l10.8-11.3l0-156.7l-406.4 0l0 316.5z" fill="#b7ff00" stroke="#b7ff00" stroke-width="0.6"/>
<path d="M767 1003.9l0 0.9l8.1 0.3l28.5 0.1l24.4-1.3l24.3-2.6l24.4-3.7l24.4-4.9l20.3-4.9l24.4-7.1l23.9-8.1l20.8-8l20.3-8.8l21.9-10.5l21.7-11.8l19.6-11.7l18.1-11.9l20.3-14.8l16.3-13.1l16.6-14.9l15.8-15.6l12.3-13.6l0-146.6l-406.4 0l0 312.6z" fill="#c7ff00" stroke="#c7ff00" stroke-width="0.6"/>
<path d="M767 996l0 2.2l24.4 0.8l24.4-0.6l28.4-2.3l24.4-3.3l24.4-4.5l24.4-5.7l21.8-6.1l22.9-7.5l21.7-8.1l23-9.8l20.3-9.7l20.3-10.9l20.3-12l18.9-12.3l16.2-11.7l19.6-15.7l18.5-16.5l18.2-18.6l14.3-16.6l0-135.8l-406.4 0l0 304.7z" fill="#d7ff00" stroke="#d7ff00" stroke-width="0.6"/>
<path d="M779.7 992.1l19.8 0.3l20.3-0.6l20.4-1.6l20.3-2.5l20.3-3.3l20.3-4.1l24.4-6.2l20.3-6l20.3-7l20.8-8l19.9-8.7l22.1-10.9l18.5-10.1l16.3-9.7l17.3-11.4l19.2-14l21.1-17.3l19.6-18.3l16.2-17.3l9.5-11.3l6.8-8.8l0-124l-406.4 0l0 300.2l12.7 0.6z" fill="#e7ff00" stroke="#e7ff00" stroke-width="0.6"/>
<path d="M767 984.3l20.3 1.2l20.3 0.1l20.4-1l20.3-1.8l20.3-2.8l20.3-3.6l20.3-4.5l20.4-5.4l20.3-6.3l20.3-7.3l20.3-8.2l20.3-9.2l20.4-10.4l19.6-11.1l16.9-10.7l16.3-11.2l12.5-9.4l14.4-11.7l13.2-11.7l12-11.7l11-11.7l10-11.8l9.1-11.7l7.2-10.3l0-110.8l-406.4 0l0 293z" fill="#f7ff00" stroke="#f7ff00" stroke-width="0.6"/>
<path d="M767 976.5l0 0.8l8.1 0.6l24.4 0.8l20.3-0.4l24.4-1.8l20.3-2.6l20.4-3.4l20.3-4.4l20.3-5.2l16.3-4.9l20.3-6.9l20.3-8l20.3-9l20.3-10.1l16.3-8.9l17.8-10.8l17.4-11.7l15.8-11.8l14.4-11.7l13.1-11.7l15-14.9l12.2-13.6l11.5-14.5l8.3-11.7l8.6-13.6l0-95.8l-406.4 0l0 285.2z" fill="#fff700" stroke="#fff700" stroke-width="0.6"/>
<path d="M767 968.7l0 1.1l12.2 1l16.2 0.7l20.4-0.1l20.3-1.2l20.3-2.1l20.3-3l20.3-4l20.4-4.9l20.3-5.9l16.2-5.4l19.9-7.5l18.3-7.8l18.7-8.9l20-10.6l16.6-9.9l14.9-9.6l16.3-11.8l14.9-11.7l14.9-13l14.6-14.3l13.8-15.3l9.7-12.1l11.1-15.6l9.5-15.6l6.3-12.2l0-77.7l-406.4 0l0 277.4z" fill="#ffe700" stroke="#ffe700" stroke-width="0.6"/>
<path d="M767 960.9l0 1.1l24.4 1.8l20.3 0.3l20.3-0.8l20.3-1.8l16.3-2.2l20.3-3.6l20.3-4.6l20.4-5.5l16.2-5.2l19.1-6.9l19-7.8l17-7.8l18.1-9.3l16.2-9.2l16.3-10.3l14.9-10.3l15.3-11.7l13.9-11.7l12.8-11.9l12.2-12.6l12.5-14.6l11.7-15.6l7.6-11.7l6.8-11.7l5.8-11.8l5-11.7l3.4-9.6l0-52.9l-406.4 0l0 269.6z" fill="#ffd700" stroke="#ffd700" stroke-width="0.6"/>
<path d="M767 953.1l0 0.7l4.1 0.5l24.3 1.9l16.3 0.2l20.3-0.6l20.3-1.8l16.3-2.1l16.3-2.8l20.3-4.4l16.2-4.2l20.4-6.3l16.2-5.7l16.8-6.7l17.6-7.8l15.7-7.8l14.9-8.2l18.7-11.4l13.8-9.3l13.9-10.2l14.4-11.7l13-11.7l11.7-11.7l10.5-11.8l9.7-12l10.8-15.3l7.1-11.7l6.5-12.3l6.6-15.1l4-11.7l4-15.6l1.9-11.8l1-11.7l-0.1-11.7l-403.5 0l0 261.8z" fill="#ffc700" stroke="#ffc700" stroke-width="0.6"/>
<path d="M767 945.3l16.3 1.8l16.2 1.1l16.3 0.2l16.2-0.5l20.3-1.6l16.3-2.1l16.3-2.8l18.5-4l18-4.7l16.3-4.9l17-6l19.5-7.8l16.3-7.4l16.3-8.2l14-7.8l14.4-8.9l15.8-10.7l12.7-9.5l12.2-10l13-11.7l11.6-11.8l10.5-11.7l9.3-11.7l8.4-11.9l8.1-13.4l7.1-13.8l5.1-11.7l4-11.7l3.9-15.6l1.8-11.8l0.8-11.7l-0.3-11.7l-392.2 0l0 254z" fill="#ffb700" stroke="#ffb700" stroke-width="0.6"/>
<path d="M775 937.4l16.4 1.8l16.2 0.8l16.3 0l16.3-0.8l16.2-1.5l16.3-2.2l16.2-2.9l16.3-3.6l16.2-4.3l16.3-5.1l16.2-5.8l16.3-6.5l16.3-7.4l16.2-8.3l15.7-8.9l12.8-7.9l12.2-8.3l14.7-11.1l9.6-8l12.8-11.5l11.6-11.8l10.3-11.7l9.2-11.7l8.1-11.7l7-11.7l6.1-11.8l4.9-11.7l5.2-15.6l2.7-11.7l1.6-11.8l0.6-11.7l-0.5-11.7l-380.3 0l0 244.9l8 1.2z" fill="#ffa700" stroke="#ffa700" stroke-width="0.6"/>
<path d="M786.9 929.6l12.6 1.1l16.3 0.6l16.2-0.2l16.3-1l16.2-1.8l16.3-2.5l16.2-3.3l16.3-4l15.4-4.5l13.1-4.3l16.2-6.2l16.3-6.9l12.6-6l15.8-8.4l12.5-7.3l16-10.3l12.8-9.2l14.6-11.7l9.1-8.2l11.7-11.4l8.7-9.4l8.4-10.1l8.6-11.7l7.5-11.7l6.5-11.8l5.4-11.7l4.3-11.7l3.3-11.7l2.2-11.7l1.2-11.8l0-11.7l-0.7-7.8l-367.8 0l0 235.4l19.9 2.9z" fill="#ff9700" stroke="#ff9700" stroke-width="0.6"/>
<path d="M808.5 921.8l15.4 0.4l12.2-0.3l12.2-0.8l16.2-1.7l16.3-2.5l14.7-2.9l16-3.9l14-4l12.2-4.1l16.2-6l12.9-5.4l16.5-7.9l14.6-7.8l12.9-7.6l12.3-8l11-7.8l13.3-10.5l10.3-9l8.2-7.9l10-10.5l7.7-9l8.9-11.7l7.7-11.7l4.4-7.9l5.8-11.7l4.7-11.7l2.6-7.8l2.8-11.7l1.7-11.8l0.5-7.8l-0.2-11.7l-0.9-7.8l-354.6 0l0 225.2l20.3 3.4l21.2 1.9z" fill="#ff8700" stroke="#ff8700" stroke-width="0.6"/>
<path d="M791.2 910.1l12.4 1.4l16.2 0.8l12.2 0.1l16.3-0.8l15.8-1.5l12.6-1.8l12.2-2.3l16.6-3.7l14.2-3.9l13.9-4.5l16.3-6l12.2-5.2l16.2-7.7l12.2-6.5l15.6-9.2l11.7-7.8l10.7-7.8l10.8-8.7l12.2-10.9l8.1-8.1l8.1-8.9l8.4-10.3l8.3-11.7l7.1-11.8l4.7-9.1l4.4-10.4l4-11.7l2.7-11.7l1.2-7.8l0.7-11.8l-0.6-11.7l-1.2-7.8l-340.4 0l0 214.1l12.2 2.7l12 2z" fill="#ff7800" stroke="#ff7800" stroke-width="0.6"/>
<path d="M788 898.4l11.5 1.7l12.2 1.3l12.2 0.6l16.3-0.1l12.1-0.7l16.3-1.7l12.2-1.9l16.2-3.3l15-3.7l13.5-4.1l12.2-4.3l16.2-6.4l12.2-5.6l13.8-7l13.6-7.8l13.3-8.5l10-7.1l10.3-8.1l12.2-10.7l8.7-8.6l7.5-8.3l9.2-11.2l7.1-10.2l5.7-9.4l6-11.7l4.6-11.4l3.5-12l1.6-7.8l1.4-11.8l0.1-7.8l-1-11.7l-1.6-7.8l-325.1 0l0 202l8.1 2.3l12.9 2.8z" fill="#ff6800" stroke="#ff6800" stroke-width="0.6"/>
<path d="M821.7 890.6l14.4 0.3l12.2-0.3l12.2-0.9l12.2-1.5l12.2-2l12.1-2.6l12.2-3.1l12.2-3.6l12.2-4.2l12.2-4.8l12.2-5.4l12.2-6l9.1-5l12.8-7.8l11.5-7.8l10.3-7.9l9.3-7.8l8.4-7.8l7.5-7.8l6.9-7.8l6.1-7.8l7.5-11l5-8.6l3.9-7.8l3.3-7.8l3.8-11.7l1.8-7.8l1.2-7.8l0.5-11.8l-0.5-7.8l-1.2-7.8l-1.9-7.8l-308.5 0l0 188.5l12.2 3.9l12.2 3l16.2 2.6l14.1 1.3z" fill="#ff5800" stroke="#ff5800" stroke-width="0.6"/>
<path d="M800 874.9l11.7 2l12.2 1.3l12.2 0.6l12.2-0.2l12.2-0.7l12.2-1.4l12.2-2l16-3.5l12.4-3.4l12.2-3.9l12.2-4.6l12.2-5.3l12.7-6.2l11.7-6.5l8.4-5.2l11.4-7.9l10.2-7.8l9.1-7.8l8.1-7.8l7.2-7.8l6.5-7.8l8.2-11.5l4.8-8.1l4-7.8l3.3-7.9l3.8-11.6l1.6-7.8l1-7.8l0.1-11.8l-0.8-7.8l-1.7-7.8l-2.7-7.8l-288 0l-1.8 1.6l0 171.3l8.1 3.5l8.2 2.8l16.7 4.4z" fill="#ff4800" stroke="#ff4800" stroke-width="0.6"/>
<path d="M816.9 863.2l11.1 1.4l12.2 0.7l20.3-0.6l20.3-2.4l12.2-2.4l12.2-3l12.2-3.7l12.2-4.4l20.3-8.9l8.1-4.3l12.2-7.1l8.1-5.3l9.4-6.9l9.5-7.8l8.4-7.8l7.3-7.8l6.1-7.2l6.1-8.4l4.9-7.9l4.1-7.8l3.3-7.8l2.7-7.8l1.8-7.8l1.2-7.8l0.3-7.8l-0.5-7.9l-1.5-7.8l-2.4-7.8l-3.6-7.8l-245.2 0l-2.9 2.3l-11.1 9.4l-9.2 9.1l0 132.9l11.4 6.5l8.9 3.9l12.2 4.1l17.4 3.7z" fill="#ff3800" stroke="#ff3800" stroke-width="0.6"/>
<path d="M823.3 847.6l8.7 1.3l12.2 0.9l8.1 0.2l12.2-0.5l12.2-1.3l8.2-1.3l12.1-2.6l8.2-2.2l18.5-6.2l18.1-8l8.1-4.3l12-7.3l8.3-5.7l8.1-6.3l12.5-11.4l7.1-7.8l6.1-7.8l5.1-7.9l4.3-7.8l3.4-7.8l2.6-7.8l1.7-7.8l0.8-7.8l-0.2-7.8l-0.4-4l-1.7-7.8l-3-7.8l-4.4-7.8l-2.8-3.9l-193.1 0l-11.3 7.8l-9.6 7.6l-8.6 8l-7.2 7.9l-6.3 7.8l-6.3 9.5l0 77.2l4.1 4.7l6.7 6.2l5.2 4l6.4 3.9l7.9 3.9l10.3 3.9l15.7 3.9z" fill="#ff2800" stroke="#ff2800" stroke-width="0.6"/>
<path d="M828.1 828l8 1.8l8.1 1.1l8.1 0.7l8.2 0.1l16.2-1.2l16.3-2.9l16.2-4.6l17-6.7l15.6-8.1l8.1-5.1l8.6-6.3l7.6-6.5l5.4-5.2l10-11.8l7.3-11.7l1.9-3.9l2.9-7.8l1.1-3.9l1.4-7.8l0.2-7.8l-0.4-3.9l-1.3-6.7l-1.8-5.1l-2.3-4.8l-4.6-6.9l-3.4-3.9l-4.2-3.8l-5.3-4l-120.3 0l-8.5 4l-8.1 4.4l-8.1 5.1l-8.6 6l-9.3 7.8l-7.8 7.9l-6.9 8.3l-7.1 11.2l-5 11.7l-2.1 7.8l-0.9 7.8l0.2 7.9l1.5 7.8l3 7.8l4.8 7.8l5.6 6.2l6.7 5.5l6.2 3.9l8.1 3.9l11.7 3.9z" fill="#ff1800" stroke="#ff1800" stroke-width="0.6"/>
<path d="M846.1 804.6l10.3 2l12.2 0.7l12.2-0.8l12.2-2.3l12.2-3.6l12.2-5.3l11.3-6.3l9-6.6l9.6-9.1l6.2-7.8l4.5-7.8l2.9-7.8l1.4-7.8l-0.3-7.8l-0.9-3.9l-1.4-3.9l-2.1-3.9l-2.8-4l-3.8-3.9l-5.2-4l-7.2-3.8l-5-1.9l-7.4-2l-4.8-0.8l-8.1-0.8l-8.1 0l-8.2 0.6l-8.1 1.3l-8.1 1.9l-8.1 2.5l-8.2 3.1l-8.2 3.9l-8 4.8l-8.1 5.7l-6.1 5.2l-7.3 7.8l-3 3.9l-4.7 7.8l-3.2 7.8l-0.9 3.9l-0.8 7.8l0.2 3.9l1.4 5.9l2.5 5.9l2.6 3.9l3.5 3.9l4.7 3.9l6.6 3.9l10.4 3.9z" fill="#ff0800" stroke="#ff0800" stroke-width="0.6"/>
<path d="M1113.3 1082l15.4-7.7l15.3-7.9l14.4-7.8l15-8.6" fill="none" stroke="#222" stroke-width="0.8"/>
<path d="M1043.5 1082l18.7-7.8l17.6-7.8l16.4-7.8l15.9-7.9l15-7.8l14.2-7.8l15.8-9.1l16.3-9.8" fill="none" stroke="#222" stroke-width="0.8"/>
<path d="M949.4 1082l28.9-8.8l16.3-5.5l14.5-5.2l13.9-5.4l15.8-6.4l26.7-11.7l26.6-12.9l12.8-6.6l15.7-8.6l25.3-14.9l12.4-7.8l15.1-9.9" fill="none" stroke="#222" stroke-width="0.8"/>
<path d="M767 1072.2l24.4-0.6l16.2-0.9l12.2-1.1l12.2-1.2l16.3-2l24.4-3.8l24.3-4.8l14.2-3.1l14.3-3.6l16-4.3l12.4-3.6l25.1-8.1l23.7-8.6l26.9-10.9l25.8-11.7l24.5-12.4l24.4-13.5l12.2-7.3l12.2-7.6l20.8-13.9l11.7-8.4l12.2-9.2" fill="none" stroke="#222" stroke-width="0.8"/>
<path d="M767 1027.9l12.2 0.3l12.2-0.1l16.2-0.6l12.2-0.8l12.2-1l16.3-1.8l12.2-1.7l16.2-2.7l24.4-4.9l12.6-2.9l15.9-4.2l12.9-3.6l15.5-4.9l12.2-4.1l16.3-6l12.1-4.8l16.3-6.9l24.4-11.4l12.2-6.2l12.2-6.5l12.2-7l12.2-7.3l12.1-7.8l12.2-8.3l12.2-8.7l8.2-6.1l11.9-9.5l9.3-7.8l8.8-7.9l10.6-9.9" fill="none" stroke="#222" stroke-width="0.8"/>
<path d="M767 977.3l12.2 0.8l16.2 0.6l12.2 0l16.3-0.6l16.3-1.2l12.1-1.3l16.3-2.3l16.3-2.8l12.1-2.5l16.3-3.8l16.3-4.5l16.2-5l16-5.5l12.5-4.8l16.2-6.7l12.2-5.6l13.2-6.4l14.8-7.8l13.7-7.8l12.7-7.8l11.8-7.8l11.1-7.9l12.1-9.2l12.2-10l12.2-10.8l9.3-9l11-11.5l7.2-8.1l9.1-11.1l6.3-8.4l8-11.7l6-9.7" fill="none" stroke="#222" stroke-width="0.8"/>
<path d="M767 908l12.2 2.6l16.2 2.4l12.2 1.1l16.3 0.6l12.2-0.2l16.2-1l16.3-1.8l16.3-2.7l16.2-3.5l16.3-4.3l16.2-5.1l15.2-5.5l17.3-7.4l12.2-5.8l12.2-6.4l16.3-9.6l12.2-8l13.2-9.7l11.2-9.1l11.5-10.5l8.8-8.9l9.4-10.6l9.1-11.7l7.8-11.7l6.7-11.8l5.4-11.7l4.3-11.7l3.2-11.7l2-11.7l0.8-11.8l-0.6-11.7l-1.1-7.8" fill="none" stroke="#222" stroke-width="0.8"/>
</g>
<rect x="949" y="862.5" width="40" height="27" fill="#fff" stroke="#222" stroke-width="0.8"/>
<text x="969" y="882.2" font-size="18.5" text-anchor="middle">82.2</text>
<rect x="981" y="918.5" width="40" height="27" fill="#fff" stroke="#222" stroke-width="0.8"/>
<text x="1001" y="938.2" font-size="18.5" text-anchor="middle">81.4</text>
<rect x="1032" y="939.5" width="40" height="27" fill="#fff" stroke="#222" stroke-width="0.8"/>
<text x="1052" y="959.2" font-size="18.5" text-anchor="middle">80.5</text>
<rect x="1107" y="946.5" width="40" height="27" fill="#fff" stroke="#222" stroke-width="0.8"/>
<text x="1127" y="966.2" font-size="18.5" text-anchor="middle">79.6</text>
<rect x="1085" y="999.5" width="40" height="27" fill="#fff" stroke="#222" stroke-width="0.8"/>
<text x="1105" y="1019.2" font-size="18.5" text-anchor="middle">78.7</text>
<rect x="1063" y="1050.5" width="40" height="27" fill="#fff" stroke="#222" stroke-width="0.8"/>
<text x="1083" y="1070.2" font-size="18.5" text-anchor="middle">77.8</text>
<rect x="1127" y="1047.5" width="40" height="27" fill="#fff" stroke="#222" stroke-width="0.8"/>
<text x="1147" y="1067.2" font-size="18.5" text-anchor="middle">77.0</text>
<rect x="767" y="691.3" width="406.4" height="390.7" fill="none" stroke="#000" stroke-width="2.4"/>
<text class="b" transform="translate(767 1112.5) scale(1.2 1)" font-size="18" text-anchor="middle">6.0</text>
<text class="b" transform="translate(817.8 1112.5) scale(1.2 1)" font-size="18" text-anchor="middle">6.5</text>
<text class="b" transform="translate(868.6 1112.5) scale(1.2 1)" font-size="18" text-anchor="middle">7.0</text>
<text class="b" transform="translate(919.4 1112.5) scale(1.2 1)" font-size="18" text-anchor="middle">7.5</text>
<text class="b" transform="translate(970.2 1112.5) scale(1.2 1)" font-size="18" text-anchor="middle">8.0</text>
<text class="b" transform="translate(1021 1112.5) scale(1.2 1)" font-size="18" text-anchor="middle">8.5</text>
<text class="b" transform="translate(1071.8 1112.5) scale(1.2 1)" font-size="18" text-anchor="middle">9.0</text>
<text class="b" transform="translate(1122.6 1112.5) scale(1.2 1)" font-size="18" text-anchor="middle">9.5</text>
<text class="b" transform="translate(1173.4 1112.5) scale(1.2 1)" font-size="18" text-anchor="middle">10.0</text>
<text class="b" transform="translate(753.5 1088) scale(1.2 1)" font-size="18" text-anchor="end">4.0</text>
<text class="b" transform="translate(753.5 1048.9) scale(1.2 1)" font-size="18" text-anchor="end">4.2</text>
<text class="b" transform="translate(753.5 1009.9) scale(1.2 1)" font-size="18" text-anchor="end">4.4</text>
<text class="b" transform="translate(753.5 970.8) scale(1.2 1)" font-size="18" text-anchor="end">4.6</text>
<text class="b" transform="translate(753.5 931.7) scale(1.2 1)" font-size="18" text-anchor="end">4.8</text>
<text class="b" transform="translate(753.5 892.6) scale(1.2 1)" font-size="18" text-anchor="end">5.0</text>
<text class="b" transform="translate(753.5 853.6) scale(1.2 1)" font-size="18" text-anchor="end">5.2</text>
<text class="b" transform="translate(753.5 814.5) scale(1.2 1)" font-size="18" text-anchor="end">5.4</text>
<text class="b" transform="translate(753.5 775.4) scale(1.2 1)" font-size="18" text-anchor="end">5.6</text>
<text class="b" transform="translate(753.5 736.4) scale(1.2 1)" font-size="18" text-anchor="end">5.8</text>
<text class="b" transform="translate(753.5 697.3) scale(1.2 1)" font-size="18" text-anchor="end">6.0</text>
<path d="M767 1082v7M817.8 1082v7M868.6 1082v7M919.4 1082v7M970.2 1082v7M1021 1082v7M1071.8 1082v7M1122.6 1082v7M1173.4 1082v7M767 1082h-7M767 1042.9h-7M767 1003.9h-7M767 964.8h-7M767 925.7h-7M767 886.6h-7M767 847.6h-7M767 808.5h-7M767 769.4h-7M767 730.4h-7M767 691.3h-7" stroke="#000" stroke-width="2.2" fill="none"/>
<text class="b" transform="translate(970.2 674.3) scale(1.2 1)" font-size="21.5" text-anchor="middle">y<tspan font-size="14" dy="4">2</tspan><tspan dy="-4">: Extrusion Temperature (°C)</tspan></text>
<text class="b" transform="translate(970.2 1145.5) scale(1.2 1)" font-size="21.5" text-anchor="middle"><tspan class="i">x</tspan><tspan font-size="14" dy="4">1</tspan><tspan dy="-4">: Guide Cone Angle (°)</tspan></text>
<text class="b" transform="translate(708 886.6) rotate(-90) scale(1.2 1)" font-size="21.5" text-anchor="middle"><tspan class="i">x</tspan><tspan font-size="14" dy="4">3</tspan><tspan dy="-4">: Guide Cone Length (mm)</tspan></text>
<clipPath id="cpf"><rect x="774.4" y="1378.8" width="406" height="390.2"/></clipPath><g clip-path="url(#cpf)">
<rect x="774.4" y="1378.8" width="406" height="390.2" fill="#0000ff"/>
<rect x="774.4" y="1378.8" width="406" height="390.2" fill="#0008ff"/>
<path d="M776.1 1765.1l25.4 3.9l378.9 0l0-390.2l-406 0l0 386l1.7 0.3z" fill="#0018ff" stroke="#0018ff" stroke-width="0.6"/>
<path d="M812.7 1765.1l30.1 3.9l334.9 0l2.7-0.4l0-389.8l-406 0l0 380.6l38.3 5.7z" fill="#0028ff" stroke="#0028ff" stroke-width="0.6"/>
<path d="M857.9 1765.1l40.6 3.9l223.6 0l29.9-3.3l28.4-4.1l0-382.8l-406 0l0 375.2l40.6 5.9l42.9 5.2z" fill="#0038ff" stroke="#0038ff" stroke-width="0.6"/>
<path d="M925.2 1765.1l36 1.8l32.4 0.8l32.5 0l32.5-0.9l32.5-1.9l28.4-2.4l32.5-3.7l28.4-4.3l0-375.7l-406 0l0 369.8l40.6 5.7l36.5 4.4l36.6 3.6l37.1 2.8z" fill="#0048ff" stroke="#0048ff" stroke-width="0.6"/>
<path d="M973.8 1761.2l28 0.4l28.4-0.3l28.4-1l24.4-1.4l24.3-1.9l24.4-2.6l24.3-3.2l24.4-3.8l0-368.6l-406 0l0 364.3l52.8 7.2l48.7 5.2l48.7 3.6l49.2 2.1z" fill="#0058ff" stroke="#0058ff" stroke-width="0.6"/>
<path d="M927.9 1753.4l33.3 1.4l32.4 0.5l32.5-0.3l32.5-1.2l32.5-2.1l28.4-2.7l32.5-4.2l28.4-4.6l0-361.4l-406 0l0 358.8l40.6 5.6l36.5 4.2l36.6 3.3l39.8 2.7z" fill="#0068ff" stroke="#0068ff" stroke-width="0.6"/>
<path d="M897.5 1745.6l39.3 2.2l36.5 1.1l36.6 0.1l36.5-1.1l36.6-2.2l32.4-3.1l32.5-4.2l32.5-5.4l0-354.2l-406 0l0 353.3l32.5 4.5l28.4 3.3l32.5 3.3l29.7 2.4z" fill="#0078ff" stroke="#0078ff" stroke-width="0.6"/>
<path d="M933.9 1741.7l31.3 0.9l32.5 0.2l32.5-0.7l32.5-1.6l32.4-2.6l28.5-3.1l28.4-4l28.4-5l0-347l-406 0l0 347.8l40.6 5.3l40.6 4.4l40.6 3.3l37.7 2.1z" fill="#0087ff" stroke="#0087ff" stroke-width="0.6"/>
<path d="M899.1 1733.9l37.7 1.8l36.5 0.9l36.6-0.3l36.5-1.4l36.6-2.6l32.4-3.4l32.5-4.6l32.5-5.8l0-339.7l-406 0l0 342.3l32.5 4.2l32.5 3.7l28.4 2.6l31.3 2.3z" fill="#0097ff" stroke="#0097ff" stroke-width="0.6"/>
<path d="M948 1730l29.4 0.3l32.5-0.4l32.5-1.3l28.4-1.9l28.4-2.8l28.4-3.6l28.4-4.5l24.4-4.6l0-332.4l-406 0l0 336.7l44.7 5.6l44.6 4.3l44.7 3.1l39.6 1.5z" fill="#00a7ff" stroke="#00a7ff" stroke-width="0.6"/>
<path d="M902.8 1722.2l38.1 1.5l36.5 0.4l36.5-0.7l36.6-1.9l32.5-2.7l32.4-3.8l32.5-5l32.5-6.2l0-325l-406 0l0 331.2l32.5 4l32.5 3.4l32.4 2.8l31 2z" fill="#00b7ff" stroke="#00b7ff" stroke-width="0.6"/>
<path d="M872.8 1714.4l43.7 2.4l40.6 1l40.6-0.4l36.5-1.5l40.6-3.1l36.6-4.2l36.5-5.8l32.5-6.4l0-317.6l-406 0l0 325.6l48.7 5.7l49.7 4.3z" fill="#00c7ff" stroke="#00c7ff" stroke-width="0.6"/>
<path d="M910.6 1710.5l38.4 1l36.5-0.2l36.6-1.3l32.4-2.1l32.5-3.2l32.5-4.3l32.4-5.5l28.5-6l0-310.1l-406 0l0 320l36.5 4.3l32.5 3.1l32.5 2.4l34.7 1.9z" fill="#00d7ff" stroke="#00d7ff" stroke-width="0.6"/>
<path d="M875.5 1702.7l41 1.9l40.6 0.6l40.6-0.6l40.6-2.1l36.5-3.3l36.6-4.7l36.5-6.2l32.5-6.9l0-302.6l-406 0l0 314.3l52.8 5.8l48.3 3.8z" fill="#00e7ff" stroke="#00e7ff" stroke-width="0.6"/>
<path d="M930.5 1698.8l34.7 0.1l32.5-0.8l32.5-1.7l32.5-2.8l32.4-3.8l28.5-4.3l28.4-5.3l28.4-6.4l0-295l-406 0l0 308.7l40.6 4.4l40.6 3.5l36.5 2.1l38.4 1.3z" fill="#00f7ff" stroke="#00f7ff" stroke-width="0.6"/>
<path d="M881 1691l39.6 1.4l40.6 0.2l40.6-1.2l36.5-2.3l36.5-3.7l36.6-5.1l36.5-6.7l32.5-7.4l0-287.4l-406 0l0 303l52.8 5.5l53.8 3.7z" fill="#00fff7" stroke="#00fff7" stroke-width="0.6"/>
<path d="M850.5 1683.2l45.7 2.3l44.7 0.9l44.6-0.8l40.6-2.3l40.6-3.9l40.6-5.6l36.6-6.8l36.5-8.5l0-279.7l-406 0l0 297.3l36.5 3.8l39.6 3.3z" fill="#00ffe7" stroke="#00ffe7" stroke-width="0.6"/>
<path d="M892 1679.3l40.7 0.7l40.6-0.5l36.6-1.8l36.5-3l36.6-4.4l32.4-5.1l32.5-6.5l32.5-7.9l0-272l-406 0l0 291.6l32.5 3.3l28.4 2.4l28.4 1.9l28.3 1.3z" fill="#00ffd7" stroke="#00ffd7" stroke-width="0.6"/>
<path d="M854.9 1671.5l45.4 1.9l44.6 0.3l40.6-1.1l40.6-2.7l40.6-4.3l40.6-6.1l36.6-7.3l36.5-9.1l0-264.2l-406 0l0 285.8l40.6 4l39.9 2.8z" fill="#00ffc7" stroke="#00ffc7" stroke-width="0.6"/>
<path d="M827.2 1663.6l48.7 2.8l48.7 1l24.4-0.2l24.3-0.7l44.7-2.8l24.4-2.3l20.3-2.4l40.6-6.2l20.3-3.9l20.3-4.4l36.5-9.3l0-256.4l-406 0l0 280.1l52.8 4.7z" fill="#00ffb7" stroke="#00ffb7" stroke-width="0.6"/>
<path d="M863.1 1659.7l45.3 1.3l40.6-0.3l40.6-1.7l40.6-3.2l40.6-5l36.5-6.1l36.6-7.8l36.5-9.6l0-248.5l-406 0l0 274.3l44.7 4l44 2.6z" fill="#00ffa7" stroke="#00ffa7" stroke-width="0.6"/>
<path d="M830.9 1651.9l49.1 2.3l48.7 0.4l44.6-1.3l44.7-3.2l24.4-2.6l20.3-2.6l40.6-6.8l20.3-4.1l20.3-4.7l36.5-10l0-240.5l-406 0l0 268.5l28.4 2.6l28.1 2z" fill="#00ff97" stroke="#00ff97" stroke-width="0.6"/>
<path d="M881.8 1648l42.8 0.3l40.6-1.2l40.6-2.7l36.6-3.9l36.5-5.3l35.2-6.7l33.8-7.9l32.5-9.3l0-232.5l-406 0l0 262.6l52.8 4.3l28.4 1.5l26.2 0.8z" fill="#00ff87" stroke="#00ff87" stroke-width="0.6"/>
<path d="M837.8 1640.2l46.2 1.6l48.7-0.1l44.7-1.9l44.7-3.9l40.6-5.3l20.3-3.4l20.3-3.9l20.3-4.4l20.3-5l17.5-4.9l19-5.8l0-224.4l-406 0l0 256.8l32.5 2.7l30.9 1.9z" fill="#00ff78" stroke="#00ff78" stroke-width="0.6"/>
<path d="M808.6 1632.4l51.1 2.6l28.4 0.6l24.3 0l24.4-0.5l24.4-1.1l24.3-1.5l24.4-2.2l24.3-2.8l20.3-2.8l23.8-4l20.9-4l20.3-4.5l20.3-5.1l20.3-5.7l20.3-6.3l0-216.3l-406 0l0 250.9l34.2 2.7z" fill="#00ff68" stroke="#00ff68" stroke-width="0.6"/>
<path d="M851.2 1628.5l45 0.8l44.7-0.9l44.6-2.7l40.6-4.2l40.6-6.1l20.3-3.7l20.3-4.3l36.6-9.2l16.3-4.8l20.2-6.5l0-208.1l-406 0l0 245l40.6 3l36.2 1.7z" fill="#00ff58" stroke="#00ff58" stroke-width="0.6"/>
<path d="M814.7 1620.7l28.7 1.4l24.4 0.6l48.7-0.1l24.4-0.8l24.3-1.4l24.4-1.9l20.3-2.1l24.3-3.1l20.3-3.1l24.4-4.4l20.3-4.2l20.3-4.8l20.3-5.4l20.3-6l20.3-6.8l0-199.8l-406 0l0 239.1l40.3 2.8z" fill="#00ff48" stroke="#00ff48" stroke-width="0.6"/>
<path d="M787.5 1612.9l27.5 1.7l28.4 1.3l28.4 0.6l28.5-0.1l28.4-0.7l24.3-1.2l24.4-1.8l24.4-2.4l24.3-3l24.4-3.7l24.3-4.4l20.3-4.3l22.6-5.4l22.1-6l20.3-6.3l20.3-6.9l0-191.5l-406 0l0 233.1l13.1 1z" fill="#00ff38" stroke="#00ff38" stroke-width="0.6"/>
<path d="M826 1609l49.9 1.1l24.4-0.2l24.3-0.7l24.4-1.2l24.3-1.8l24.4-2.4l20.3-2.5l24.4-3.6l20.3-3.6l20.3-4.1l20.3-4.6l20.3-5.3l20.3-5.9l20.3-6.5l16.2-5.8l0-183.1l-406 0l0 227.1l51.6 3.1z" fill="#00ff28" stroke="#00ff28" stroke-width="0.6"/>
<path d="M793.3 1601.2l25.8 1.3l28.4 1l28.4 0.2l24.4-0.3l28.4-1l24.3-1.4l24.4-2.1l24.4-2.6l24.3-3.3l24.4-4.1l24.3-4.7l20.3-4.6l22.4-5.7l22.3-6.5l20.3-6.6l20.3-7.4l0-174.6l-406 0l0 221.1l18.9 1.3z" fill="#00ff18" stroke="#00ff18" stroke-width="0.6"/>
<path d="M864.3 1597.3l44.1-0.7l44.6-2.4l40.6-4l40.6-5.8l20.3-3.6l20.3-4.2l36.6-8.9l19-5.5l17.5-5.6l32.5-11.7l0-166.1l-406 0l0 215.1l44.7 2.5l45.2 0.9z" fill="#00ff08" stroke="#00ff08" stroke-width="0.6"/>
<path d="M803.5 1589.5l27.7 1l24.4 0.4l28.4-0.2l24.4-0.7l24.3-1.2l24.4-1.8l24.4-2.4l24.3-3.1l24.4-3.7l24.3-4.5l24.4-5.2l20.3-5.1l20.3-5.6l20.3-6.3l20.3-7l20.3-7.8l0-157.5l-406 0l0 209.1l29.1 1.6z" fill="#08ff00" stroke="#08ff00" stroke-width="0.6"/>
<path d="M774.4 1581.7l28.4 1.6l28.4 0.9l28.5 0.3l28.4-0.4l28.4-1.1l24.4-1.6l28.4-2.5l24.3-2.9l24.4-3.5l24.4-4.3l24.3-5l24.4-5.9l24.3-6.7l20.3-6.4l24.4-8.6l20.3-8l0-148.8l-406 0l0 202.9z" fill="#18ff00" stroke="#18ff00" stroke-width="0.6"/>
<path d="M827.3 1577.8l48.6 0l24.4-0.7l24.3-1.3l24.4-1.9l24.3-2.5l24.4-3.1l20.3-3.2l24.4-4.4l20.3-4.3l20.3-4.8l20.3-5.5l20.3-6.2l20.3-6.8l16.2-6l20.3-8.3l0-140l-406 0l0 196.9l28.4 1.4l24.5 0.7z" fill="#28ff00" stroke="#28ff00" stroke-width="0.6"/>
<path d="M783 1570l27.9 1.1l28.5 0.5l28.4-0.2l28.4-0.8l28.4-1.6l24.4-2l24.3-2.7l24.4-3.2l24.4-4l24.3-4.8l24.4-5.5l24.3-6.4l24.4-7.4l20.3-6.9l20.3-7.6l20.3-8.5l0-131.2l-406 0l0 190.7l8.6 0.5z" fill="#38ff00" stroke="#38ff00" stroke-width="0.6"/>
<path d="M774.4 1562.2l0 1.2l40.6 1.5l36.5 0.2l32.5-0.7l28.4-1.4l28.5-2.2l28.4-3.1l24.3-3.3l24.4-4l24.4-4.8l24.3-5.6l24.4-6.5l21.4-6.4l23.2-7.9l24.4-9.4l20.3-8.7l0-122.3l-406 0l0 183.4z" fill="#48ff00" stroke="#48ff00" stroke-width="0.6"/>
<path d="M803.7 1558.3l27.5 0.4l28.5-0.2l28.4-0.9l24.3-1.4l24.4-2l24.4-2.6l24.3-3.3l24.4-3.9l24.3-4.7l20.3-4.5l24.4-6.3l20.3-5.8l20.3-6.6l20.3-7.3l20.3-8.2l20.3-8.9l0-113.3l-406 0l0 178.4l29.3 1.1z" fill="#58ff00" stroke="#58ff00" stroke-width="0.6"/>
<path d="M774.4 1550.5l0 0.5l12.2 0.5l36.5 0.7l28.4-0.1l28.5-0.9l28.4-1.6l24.3-2l24.4-2.6l24.4-3.3l24.3-4l20.3-3.9l24.4-5.4l20.4-5.2l24.2-7.1l20.3-6.6l20.3-7.4l20.3-8.2l24.4-10.9l0-104.2l-406 0l0 171.7z" fill="#68ff00" stroke="#68ff00" stroke-width="0.6"/>
<path d="M774.4 1542.7l0 2l16.2 0.6l36.6 0.5l36.5-0.6l28.4-1.3l24.4-1.8l28.4-2.8l24.4-3.1l24.3-3.8l20.3-3.7l24.4-5.2l20.3-5l20.3-5.6l20.3-6.3l20.3-7l20.3-7.7l20.3-8.6l20.3-9.5l0-95l-406 0l0 163.9z" fill="#78ff00" stroke="#78ff00" stroke-width="0.6"/>
<path d="M783.8 1538.8l47.4 0.5l24.4-0.5l24.4-1l24.3-1.6l24.4-2.2l24.3-2.8l20.3-2.9l24.4-4.1l20.3-3.9l20.3-4.6l20.3-5.1l20.3-5.8l20.3-6.5l18.1-6.3l18.4-7.2l24.4-10.5l20.3-9.8l0-85.7l-406 0l0 159.7l9.4 0.3z" fill="#87ff00" stroke="#87ff00" stroke-width="0.6"/>
<path d="M774.4 1531l0 1.2l24.4 0.5l32.4 0l28.5-0.7l24.3-1.3l24.4-1.8l24.3-2.4l20.3-2.5l24.4-3.7l20.3-3.6l20.3-4.1l20.3-4.7l20.3-5.3l20.3-6l16.2-5.3l20.1-7.1l16.5-6.5l16.2-6.9l16.3-7.5l16.2-8.2l0-76.3l-406 0l0 152.2z" fill="#97ff00" stroke="#97ff00" stroke-width="0.6"/>
<path d="M774.4 1523.2l0 2.6l36.5 0.5l32.5-0.5l24.4-0.9l24.3-1.6l24.4-2.1l24.4-2.8l40.6-6.2l20.3-3.8l20.3-4.4l20.3-5l20.3-5.7l17.2-5.2l19.3-6.6l20.3-7.6l22-9.3l18.6-8.6l20.3-10.3l0-66.9l-406 0l0 144.4z" fill="#a7ff00" stroke="#a7ff00" stroke-width="0.6"/>
<path d="M774.4 1519.3l12.2 0.4l28.4 0.1l44.7-1.3l40.6-2.8l40.6-4.5l40.6-6.5l36.5-7.6l34.9-9l34.1-10.8l24.4-8.9l24.3-10.2l24.4-11.4l20.3-10.7l0-57.3l-406 0l0 140.5z" fill="#b7ff00" stroke="#b7ff00" stroke-width="0.6"/>
<path d="M774.4 1511.5l0 1.6l8.1 0.1l32.5 0l28.4-0.7l44.7-2.7l40.6-4.3l36.5-5.4l36.6-7.1l36.3-8.8l32.7-9.8l28.4-10l28.4-11.6l28.4-13.3l24.4-13.1l0-47.6l-406 0l0 132.7z" fill="#c7ff00" stroke="#c7ff00" stroke-width="0.6"/>
<path d="M774.4 1503.7l0 3l24.4 0.1l24.3-0.4l44.7-2l24.3-2l20.3-2.1l36.6-4.9l36.5-6.6l36.6-8.4l32.4-9.1l32.5-11l32.5-12.9l16.2-7.3l16.3-8l28.4-15.5l0-37.8l-406 0l0 124.9z" fill="#d7ff00" stroke="#d7ff00" stroke-width="0.6"/>
<path d="M774.4 1499.8l0 0.4l28.4 0l40.6-1.2l36.6-2.5l36.5-3.9l32.5-4.6l32.5-6l32.4-7.5l28.5-7.8l19.1-6l17.4-6l20.3-7.7l16.2-6.8l16.3-7.4l16.2-8l16.3-8.7l16.2-9.4l0-27.9l-406 0l0 121z" fill="#e7ff00" stroke="#e7ff00" stroke-width="0.6"/>
<path d="M774.4 1492l0 1.8l24.4-0.1l24.3-0.6l40.6-2.3l36.6-3.4l32.4-4.3l32.5-5.5l32.5-7l28.4-7.3l20.3-6l16.3-5.4l32.4-12.1l16.3-6.8l16-7.4l28.6-14.6l24.4-14.3l0-17.9l-406 0l0 113.2z" fill="#f7ff00" stroke="#f7ff00" stroke-width="0.6"/>
<path d="M774.4 1484.2l0 3l24.4-0.2l44.6-1.7l40.6-3.3l32.5-3.9l28.4-4.4l32.5-6.3l28.4-6.7l32.5-9.2l28.4-9.5l28.4-11l24.4-10.9l16.2-7.9l16.3-8.7l15.8-9.1l12.6-7.8l0-7.8l-406 0l0 105.4z" fill="#fff700" stroke="#fff700" stroke-width="0.6"/>
<path d="M774.4 1480.3l0 0.4l16.2-0.2l36.6-1.2l32.5-2.1l28.4-2.7l28.4-3.7l28.4-4.6l27.6-5.5l25.2-5.9l24.4-6.6l24.3-7.6l24.4-8.7l20.3-8.1l22.1-9.9l22.5-11.2l20.3-11.3l20.7-12.6l-402.3 0l0 101.5z" fill="#ffe700" stroke="#ffe700" stroke-width="0.6"/>
<path d="M774.4 1472.4l0 1.7l36.5-0.8l32.5-1.8l33.3-3l27.6-3.3l28.4-4.4l28.5-5.4l24.3-5.5l24.4-6.4l24.3-7.3l24.4-8.4l20.3-7.9l20.3-8.7l20.3-9.7l20.3-10.6l20.7-12.1l-386.1 0l0 93.6z" fill="#ffd700" stroke="#ffd700" stroke-width="0.6"/>
<path d="M774.4 1464.6l0 2.9l12.2-0.2l40.6-1.7l36.5-2.9l28.4-3.2l28.5-4.1l24.3-4.4l27.5-5.9l21.2-5.2l24.4-7l22.6-7.3l22.1-8l20.3-8.3l20.3-9.2l20.3-10.1l20.2-11.2l-369.4 0l0 85.8z" fill="#ffc700" stroke="#ffc700" stroke-width="0.6"/>
<path d="M774.4 1460.7l20.3-0.4l28.4-1.3l24.4-1.8l24.3-2.5l24.4-3l24.4-3.8l24.3-4.6l20.3-4.4l22.3-5.5l22.4-6.3l20.3-6.4l20.3-7.2l20.3-8l20.3-8.9l16.2-7.8l19.2-10l-352.1 0l0 81.9z" fill="#ffb700" stroke="#ffb700" stroke-width="0.6"/>
<path d="M774.4 1452.9l0 1.3l28.4-1l28.4-1.7l28.5-2.6l24.3-2.9l24.4-3.6l24.3-4.3l20.3-4.2l20.3-4.8l20.3-5.5l20.3-6l20.3-6.9l20.3-7.5l16.3-6.7l20.3-9.1l17.3-8.6l-334 0l0 74.1z" fill="#ffa700" stroke="#ffa700" stroke-width="0.6"/>
<path d="M774.4 1445.1l0 2.4l4.1-0.2l36.5-1.7l32.5-2.6l24.3-2.7l24.4-3.4l24.4-4.2l20.3-4l20.3-4.6l20.3-5.2l17.3-5l19.2-6.1l16.2-5.7l20.3-7.8l18.2-7.7l16.8-7.8l-315.1 0l0 66.3z" fill="#ff9700" stroke="#ff9700" stroke-width="0.6"/>
<path d="M774.4 1437.3l0 3.4l28.4-1.3l28.4-2l24.4-2.5l24.4-3.1l24.3-3.8l20.3-3.7l20.3-4.3l20.3-4.9l18.8-5.1l17.8-5.3l19-6.4l17.5-6.4l31.4-13.1l-295.3 0l0 58.5z" fill="#ff8700" stroke="#ff8700" stroke-width="0.6"/>
<path d="M774.4 1433.4l0 0.5l28.4-1.4l24.4-1.8l20.3-2.1l36.5-4.8l36.6-6.4l32.4-7.2l32.5-8.9l32.5-10.6l30.8-11.9l-274.4 0l0 54.6z" fill="#ff7800" stroke="#ff7800" stroke-width="0.6"/>
<path d="M774.4 1425.6l0 1.5l4.1-0.2l28.4-1.7l24.3-2.1l36.6-4.3l36.5-6l32.5-6.7l30.6-7.8l30.3-9.2l29-10.3l-252.3 0l0 46.8z" fill="#ff6800" stroke="#ff6800" stroke-width="0.6"/>
<path d="M774.4 1417.8l0 2.4l37.2-2.4l39.9-4.2l36.6-5.5l30.7-5.9l30.2-7.1l28.4-8l25.5-8.3l-228.5 0l0 39z" fill="#ff5800" stroke="#ff5800" stroke-width="0.6"/>
<path d="M774.4 1410l0 3.3l12.2-0.7l40.6-3.4l40.6-5.3l28.4-4.9l28.4-5.9l25.9-6.5l26.8-7.8l-202.9 0l0 31.2z" fill="#ff4800" stroke="#ff4800" stroke-width="0.6"/>
<path d="M774.4 1406.1l0 0.3l12.2-0.8l28.4-2.4l24.4-2.7l24.3-3.5l24.4-4.1l20.3-4.1l20.3-4.7l20.4-5.3l-174.7 0l0 27.3z" fill="#ff3800" stroke="#ff3800" stroke-width="0.6"/>
<path d="M774.4 1398.3l0 1.1l20.3-1.5l24.4-2.3l24.3-3l36.6-5.9l37.5-7.9l-143.1 0l0 19.5z" fill="#ff2800" stroke="#ff2800" stroke-width="0.6"/>
<path d="M774.4 1390.5l0 1.9l40.6-3.6l32.5-4.3l33.4-5.7l-106.5 0l0 11.7z" fill="#ff1800" stroke="#ff1800" stroke-width="0.6"/>
<path d="M774.4 1382.7l0 2.7l32.5-3l28.5-3.6l-61 0l0 3.9z" fill="#ff0800" stroke="#ff0800" stroke-width="0.6"/>
<path d="M774.4 1726.6l28.4 3.9l28.4 3.3l28.5 2.9l24.3 2l28.4 1.9l24.4 1.2l28.4 0.8l24.4 0.2l24.3-0.2l24.4-0.8l24.4-1.3l24.3-1.8l24.4-2.5l24.3-3l21.1-3.2l23.6-4.2" fill="none" stroke="#222" stroke-width="0.8"/>
<path d="M774.4 1681.8l28.4 3.1l28.4 2.7l28.5 2.1l28.4 1.6l28.4 1l24.4 0.3l28.4-0.1l24.3-0.8l24.4-1.2l24.4-1.8l24.3-2.4l24.4-3l24.3-3.7l20.3-3.6l22.3-4.6l22.4-5.2" fill="none" stroke="#222" stroke-width="0.8"/>
<path d="M774.4 1635.6l28.4 2.4l28.4 1.9l28.5 1.3l28.4 0.7l28.4 0.1l24.4-0.5l28.4-1.2l24.3-1.7l24.4-2.2l24.4-2.9l24.3-3.5l24.4-4.3l24.3-5l20.3-4.8l24.4-6.5l20.3-6.2" fill="none" stroke="#222" stroke-width="0.8"/>
<path d="M774.4 1587.9l28.4 1.6l28.4 1l28.5 0.4l28.4-0.3l28.4-0.9l24.4-1.5l28.4-2.4l24.3-2.7l24.4-3.4l24.4-4.1l24.3-4.8l24.4-5.7l24.3-6.5l20.3-6.2l24.4-8.3l20.3-7.8" fill="none" stroke="#222" stroke-width="0.8"/>
<path d="M774.4 1538.5l32.5 0.7l28.4 0l28.4-0.7l28.4-1.5l27.5-2.1l25.3-2.7l28.4-3.9l24.4-4.1l24.4-4.8l24.3-5.7l24.4-6.5l24.1-7.4l22.4-7.8l22.5-8.9l20.3-8.8l20.3-9.8" fill="none" stroke="#222" stroke-width="0.8"/>
<path d="M774.4 1487.2l32.5-0.3l28.4-1.2l28.4-1.8l28.4-2.7l28.5-3.6l24.3-3.9l27.2-5.2l25.6-5.8l24.4-6.4l24.3-7.4l24.4-8.4l24.3-9.5l21-9.3l11.5-5.5l12.2-6.1l20.3-11.2l20.3-12.3" fill="none" stroke="#222" stroke-width="0.8"/>
<path d="M774.4 1433.9l20.3-0.9l20.3-1.3l20.3-1.8l16.2-1.7l20.2-2.6l16.4-2.4l16.2-2.7l16.3-3.1l16.2-3.4l16.2-3.8l16.3-4.3l16.2-4.6l16.3-5.1l16.2-5.5l16.2-6l14.6-5.9" fill="none" stroke="#222" stroke-width="0.8"/>
</g>
<rect x="859" y="1403.5" width="40" height="27" fill="#fff" stroke="#222" stroke-width="0.8"/>
<text x="879" y="1423.2" font-size="18.5" text-anchor="middle">89.0</text>
<rect x="883" y="1460.5" width="40" height="27" fill="#fff" stroke="#222" stroke-width="0.8"/>
<text x="903" y="1480.2" font-size="18.5" text-anchor="middle">86.6</text>
<rect x="921" y="1513.5" width="40" height="27" fill="#fff" stroke="#222" stroke-width="0.8"/>
<text x="941" y="1533.2" font-size="18.5" text-anchor="middle">84.1</text>
<rect x="988" y="1566.5" width="40" height="27" fill="#fff" stroke="#222" stroke-width="0.8"/>
<text x="1008" y="1586.2" font-size="18.5" text-anchor="middle">81.7</text>
<rect x="1015" y="1622.5" width="40" height="27" fill="#fff" stroke="#222" stroke-width="0.8"/>
<text x="1035" y="1642.2" font-size="18.5" text-anchor="middle">79.2</text>
<rect x="1036" y="1668.5" width="40" height="27" fill="#fff" stroke="#222" stroke-width="0.8"/>
<text x="1056" y="1688.2" font-size="18.5" text-anchor="middle">76.7</text>
<rect x="1074" y="1724.5" width="40" height="27" fill="#fff" stroke="#222" stroke-width="0.8"/>
<text x="1094" y="1744.2" font-size="18.5" text-anchor="middle">74.3</text>
<rect x="774.4" y="1378.8" width="406" height="390.2" fill="none" stroke="#000" stroke-width="2.4"/>
<text class="b" transform="translate(774.4 1799.5) scale(1.2 1)" font-size="18" text-anchor="middle">6.0</text>
<text class="b" transform="translate(825.1 1799.5) scale(1.2 1)" font-size="18" text-anchor="middle">6.5</text>
<text class="b" transform="translate(875.9 1799.5) scale(1.2 1)" font-size="18" text-anchor="middle">7.0</text>
<text class="b" transform="translate(926.7 1799.5) scale(1.2 1)" font-size="18" text-anchor="middle">7.5</text>
<text class="b" transform="translate(977.4 1799.5) scale(1.2 1)" font-size="18" text-anchor="middle">8.0</text>
<text class="b" transform="translate(1028.2 1799.5) scale(1.2 1)" font-size="18" text-anchor="middle">8.5</text>
<text class="b" transform="translate(1078.9 1799.5) scale(1.2 1)" font-size="18" text-anchor="middle">9.0</text>
<text class="b" transform="translate(1129.7 1799.5) scale(1.2 1)" font-size="18" text-anchor="middle">9.5</text>
<text class="b" transform="translate(1180.4 1799.5) scale(1.2 1)" font-size="18" text-anchor="middle">10.0</text>
<text class="b" transform="translate(760.9 1775) scale(1.2 1)" font-size="18" text-anchor="end">13.0</text>
<text class="b" transform="translate(760.9 1726.2) scale(1.2 1)" font-size="18" text-anchor="end">13.5</text>
<text class="b" transform="translate(760.9 1677.5) scale(1.2 1)" font-size="18" text-anchor="end">14.0</text>
<text class="b" transform="translate(760.9 1628.7) scale(1.2 1)" font-size="18" text-anchor="end">14.5</text>
<text class="b" transform="translate(760.9 1579.9) scale(1.2 1)" font-size="18" text-anchor="end">15.0</text>
<text class="b" transform="translate(760.9 1531.1) scale(1.2 1)" font-size="18" text-anchor="end">15.5</text>
<text class="b" transform="translate(760.9 1482.3) scale(1.2 1)" font-size="18" text-anchor="end">16.0</text>
<text class="b" transform="translate(760.9 1433.6) scale(1.2 1)" font-size="18" text-anchor="end">16.5</text>
<text class="b" transform="translate(760.9 1384.8) scale(1.2 1)" font-size="18" text-anchor="end">17.0</text>
<path d="M774.4 1769v7M825.1 1769v7M875.9 1769v7M926.7 1769v7M977.4 1769v7M1028.2 1769v7M1078.9 1769v7M1129.7 1769v7M1180.4 1769v7M774.4 1769h-7M774.4 1720.2h-7M774.4 1671.5h-7M774.4 1622.7h-7M774.4 1573.9h-7M774.4 1525.1h-7M774.4 1476.3h-7M774.4 1427.6h-7M774.4 1378.8h-7" stroke="#000" stroke-width="2.2" fill="none"/>
<text class="b" transform="translate(977.4 1361.8) scale(1.2 1)" font-size="21.5" text-anchor="middle">y<tspan font-size="14" dy="4">2</tspan><tspan dy="-4">: Extrusion Temperature (°C)</tspan></text>
<text class="b" transform="translate(977.4 1832.5) scale(1.2 1)" font-size="21.5" text-anchor="middle"><tspan class="i">x</tspan><tspan font-size="14" dy="4">1</tspan><tspan dy="-4">: Guide Cone Angle (°)</tspan></text>
<text class="b" transform="translate(702 1573.9) rotate(-90) scale(1.2 1)" font-size="21.5" text-anchor="middle"><tspan class="i">x</tspan><tspan font-size="14" dy="4">4</tspan><tspan dy="-4">: Working Cone Length (mm)</tspan></text>
<path d="M103.3 361L92.7 42M132.8 349.8L124 36.8M161 339L154.1 31.9M188.2 328.7L182.9 27.2M214.4 318.7L210.6 22.6M239.6 309.1L237.3 18.3M263.9 299.9L262.9 14.1M314.4 298.6L316.1 13.5M342.3 306.4L345.6 17M371.2 314.4L376 20.7M400.9 322.8L407.5 24.5M431.7 331.3L440.1 28.5M463.4 340.2L473.8 32.5M496.3 349.4L508.8 36.7M71.5 341.8L287.3 264.1L531.6 328.7M70.3 310.6L287.3 237L533 298.2M69 279.1L287.4 209.6L534.5 267.4M67.8 247.1L287.4 182L535.9 236.2M66.5 214.8L287.4 154.1L537.4 204.6M65.2 182.1L287.4 125.8L538.9 172.7M63.9 149L287.5 97.3L540.4 140.3M62.6 115.5L287.5 68.5L541.9 107.7M61.3 81.7L287.5 39.4L543.4 74.6M72.7 372.6L287.3 291L530.2 358.9" fill="none" stroke="#111" stroke-width="1.25"/>
<path d="M72.7 372.6L327.3 467L530.2 358.9L287.3 291Z" fill="#ffff00"/>
<path d="M72.7 372.6L287.3 291L530.2 358.9" fill="none" stroke="#222" stroke-width="1"/>
<path d="M502 373.9l-7.2-3.8l-6.8-3.9l-6.3-4l-5.9-4.2l-8.1-6.4l-5-4.4l-4.6-4.4l-5.2-5.5" fill="none" stroke="#6e2896" stroke-width="1.8"/>
<path d="M462.5 395l-6.5-4.5l-8.5-7.1l-7.3-7.4l-6.3-7.6l-5.5-7.8l-6.1-10.5l-5.2-10.5l-5.7-13.9" fill="none" stroke="#1e6ec8" stroke-width="1.8"/>
<path d="M303.2 458.1l12.7-2.5l11.6-2.8l10.3-3.2l9-3.6l7.4-4.1l6-4.5l4.7-4.8l2-2.6l3.2-5.2l2.6-5.3l1-2.7l2.4-8.2l2.1-10.9l1.3-10.8l1-15.7l0.3-12.6l-0.1-19.3l-0.5-22.4" fill="none" stroke="#32dc78" stroke-width="1.8"/>
<path d="M229.6 430.8l15.1-4.7l13.7-5l12.6-5.3l11.3-5.5l10.1-5.8l8.9-6l7.9-6.2l6.9-6.3l6-6.5l6.9-8.6l5.7-8.7l4.8-8.7l4.9-10.8l3.9-10.5l3.7-12.4l2.4-10" fill="none" stroke="#bef03c" stroke-width="1.8"/>
<path d="M187.8 415.3l14.4-4.7l13.5-4.8l12.5-5.1l11.6-5.2l10.7-5.3l9.8-5.5l9-5.7l10.8-7.6l9.4-7.8l8.3-7.8l7.2-7.9l6.4-7.9l5.5-7.8l6-9.7l5-9.6l4.3-9.4" fill="none" stroke="#ffff30" stroke-width="1.8"/>
<path d="M156.2 403.6l14.1-4.6l13.3-4.8l12.5-4.8l15.5-6.7l10.8-5.1l10-5.2l9.3-5.3l11.3-7.2l7.8-5.5l9.4-7.3l8.4-7.3l7.6-7.4l6.8-7.4l7.4-9.1l6.5-9l5.7-8.9" fill="none" stroke="#ffa000" stroke-width="1.8"/>
<path d="M130.1 393.9l13.9-4.5l13.2-4.6l16.6-6.3l11.6-4.9l11-4.9l13.6-6.6l9.4-5.1l11.7-6.9l8.1-5.2l9.9-6.9l9.1-7l8.2-7l7.4-6.9l8.4-8.7l5.9-6.8l6.7-8.5" fill="none" stroke="#ff5000" stroke-width="1.8"/>
<path d="M107.7 385.6l26.9-8.9l24.5-9.3l22-9.5l10.1-4.9l12.6-6.5l8.8-4.9l10.9-6.7l10.1-6.7l7-5l8.6-6.6l6-5l7.5-6.7l7.7-7.5" fill="none" stroke="#e61400" stroke-width="1.8"/>
<path d="M87.8 378.2l22.5-7.2l20.9-7.5l19.3-7.6l17.8-7.8l16.2-7.9l17.7-9.6l13.2-8l14.6-9.8" fill="none" stroke="#aa0000" stroke-width="1.8"/>
<path d="M60 47.4L287.6 10L545 41.1M72.7 372.6L60 47.4M287.3 291L287.6 10M530.2 358.9L545 41.1" fill="none" stroke="#000" stroke-width="2.8" stroke-linejoin="miter"/>
<path d="M72.7 372.6L327.3 467L530.2 358.9" fill="none" stroke="#000" stroke-width="3" stroke-linejoin="miter"/>
<clipPath id="sca"><path d="M62.4 108.5l17.7 16.2l15 13.1l15.3 12.7l15.4 12.2l15.7 11.8l15.9 11.3l16.2 10.9l16.4 10.5l16.8 10l17 9.5l17.3 9.1l17.6 8.5l18 8.1l18.3 7.5l18.7 7l15.3 5.3l12.4-5.4l15.2-6.2l14.8-5.6l14.4-5l11.3-3.6l13.8-3.9l13.5-3.5l13.2-2.9l12.8-2.4l12.5-1.9l12.2-1.4l12-1l11.6-0.6l13.6-0.1l11 0.3l12.9 1l-14-4.4l-17.3-5.8l-16.9-6.3l-16.7-6.8l-16.4-7.2l-16.1-7.7l-15.9-8l-15.6-8.5l-15.3-8.9l-15.2-9.4l-14.9-9.7l-14.7-10.1l-14.5-10.5l-14.4-10.9l-14.1-11.2l-16.7-14.1l-14.5-2.1l-12.3-1.4l-12.6-1l-12.9-0.7l-15.7-0.4l-13.5 0.2l-13.7 0.5l-14 0.9l-14.2 1.4l-14.6 1.8l-14.8 2.3l-12.1 2.1l-15.4 3.1l-15.7 3.6l-16.1 4.1l-13 3.6z"/></clipPath>
<g stroke-width="0.6" stroke-linejoin="round" fill-rule="evenodd" clip-path="url(#sca)"><path d="M530.4 229.1l1.3 0.5l4.5 0.4l-22.3-7.1l16.5 6.2z" fill="#0009ff" stroke="#0009ff"/><path d="M523.8 228.1l3.2 1.2l4.7 0.3l-34-12.4l12.6 5.7l13.5 5.2z" fill="#001bff" stroke="#001bff"/><path d="M516.5 227l5.5 2l5 0.3l-14.1-5.3l-15.2-6.8l-13.2-5.1l15.9 8.2l16.1 6.7z" fill="#002eff" stroke="#002eff"/><path d="M508.7 225.7l8.2 3.1l5.1 0.2l-8.5-3.2l-10.6-4.4l-9.6-4.5l-8.8-4.8l-11.4-4.7l8.8 5.5l8.8 4.8l9.8 4.6l8.2 3.4z" fill="#0040ff" stroke="#0040ff"/><path d="M507.9 227.4l3.5 1.3l5.5 0.1l-11.2-4.3l-10.2-4.5l-11.5-5.9l-10.9-6.7l-10.2-4.3l10.1 7l10.3 6.1l11.9 5.9l12.7 5.3z" fill="#0052ff" stroke="#0052ff"/><path d="M498 225.7l7.7 3l5.7 0l-11.1-4.4l-12.4-5.7l-13-7.3l-12-8.2l-9.3-4.2l10.6 8.3l9.6 6.3l11 6.1l13.2 6.1z" fill="#0064ff" stroke="#0064ff"/><path d="M494.5 226.8l5 2l6.2-0.1l-13.6-5.6l-14.1-7.1l-12-7.5l-7-5.2l-5.4-4.4l-8.5-4l10.5 9.3l6.9 5.2l5.7 3.9l13.1 7.4l13.2 6.1z" fill="#0076ff" stroke="#0076ff"/><path d="M489.4 227.6l3.6 1.4l6.5-0.2l-15.8-6.9l-13.4-7.3l-5.9-3.9l-7.2-5.2l-6.3-5.2l-5.8-5.4l-7.9-3.8l5.7 6.1l5.8 5.4l6.4 5.3l5.4 4l8 5.1l6.6 3.8l14.3 6.8z" fill="#0089ff" stroke="#0089ff"/><path d="M482.5 228l3.4 1.4l7.1-0.4l-8.1-3.4l-7.5-3.6l-13-7.5l-7.5-5.3l-6.7-5.3l-7.3-6.7l-5.7-6.1l-7.4-3.8l5.4 6.7l5.1 5.5l5.8 5.6l6.5 5.4l7.4 5.3l6.2 3.9l6.8 3.8l9.5 4.5z" fill="#009bff" stroke="#009bff"/><path d="M473.8 228l4.5 2.1l7.6-0.7l-7.9-3.5l-7.3-3.6l-6.6-3.9l-7.9-5.2l-7-5.4l-7.5-6.9l-6.5-6.9l-5.4-6.7l-7-3.6l5 7.1l5.6 7.1l5.2 5.6l6 5.7l6.8 5.5l7.7 5.4l6.6 3.8l8.1 4.1z" fill="#00adff" stroke="#00adff"/><path d="M468.8 230.4l1.1 0.5l8.4-0.8l-7.8-3.7l-9.2-5l-6.2-4l-7.3-5.5l-6.3-5.5l-6.8-7.1l-5.9-7.1l-6-8.5l-6.6-3.5l5.2 8.8l5 7.2l5.9 7.3l7 7.2l6.5 5.7l7.7 5.5l6.5 4l8.8 4.5z" fill="#00bfff" stroke="#00bfff"/><path d="M455.4 229.5l5.1 2.7l9.4-1.3l-7.6-3.7l-8.8-5.3l-5.9-4.1l-6.8-5.6l-7.2-7.2l-6.1-7.3l-6.1-8.7l-5.2-8.8l-6.3-3.5l4.3 9l5.1 8.9l5.1 7.5l4.8 6l5.5 6l6.5 5.8l7.7 5.6l6.5 4z" fill="#00d1ff" stroke="#00d1ff"/><path d="M448.5 233.1l1.2 0.7l10.8-1.6l-7.3-3.9l-6.3-4.1l-7.4-5.7l-6.3-5.9l-6.5-7.5l-6.4-9l-5.3-9l-5.1-10.4l-6-3.4l4.1 10.5l4.9 10.7l4.4 7.8l5.2 7.8l5.1 6.2l6 6.1l7.3 5.9l7.6 4.8z" fill="#00e4ff" stroke="#00e4ff"/><path d="M436.1 235.7l0.8 0.6l12.8-2.5l-6.8-4.1l-5.8-4.3l-6.6-6l-5.6-6.2l-5.7-7.8l-5.5-9.4l-5.1-10.7l-4.7-12l-5.8-3.3l3.5 12l3.9 10.9l4 9.7l4.3 8.2l5.2 8.3l5.3 6.4l4.8 4.8l7 5.4z" fill="#00f6ff" stroke="#00f6ff"/><path d="M419.9 239.1l0.8 0.8l16.2-3.6l-6-4.5l-5-4.7l-4.3-4.8l-4.8-6.5l-5.7-9.9l-4.4-9.8l-4.6-12.6l-4-13.5l-5.6-3.3l3.1 15l3.1 13l2.9 10.2l3 8.8l3 7.1l3.7 7.1l3.4 5.3l5.2 5.9z" fill="#00fff6" stroke="#00fff6"/><path d="M328.1 271.9l0.9 0.3l0.9-0.4l-1.8 0.1zM395.6 246l0 0.9l25.1-7l-3.2-3.3l-4-5.2l-3.2-5.3l-3.5-7.1l-3.5-8.9l-3.7-12l-3.3-13.2l-3.8-18.2l-5.3-3.2l5.8 52.8l2.6 29.7z" fill="#00ffe4" stroke="#00ffe4"/><path d="M299.5 261.6l28.6 10.3l1.8-0.1l17.6-7.6l15-5.9l17.6-6.4l15.5-5l-0.4-7.8l-1.5-16.5l-6.5-59.1l-5.2-3.2l0.4 15.6l-0.1 12.9l-0.8 12.3l-1.3 9.9l-2 8.7l-2 5.8l-2.9 5.8l-4 5.8l-4.1 4.1l-5.4 4l-6.7 3.7l-8.5 3.4l-6.6 2l-11.3 2.8l-12.9 2.4l-14.3 2.1z" fill="#00ffd1" stroke="#00ffd1"/><path d="M280.6 254l18.9 7.6l14.3-2.1l16.9-3.3l10.7-2.9l6.2-2.1l5.5-2.3l4.6-2.4l4.1-2.6l4.9-4l4.8-5.7l3.4-5.8l2.9-7.3l2.2-8.7l1.4-9.9l0.8-11l0.2-14.3l-0.4-16.9l-5-3.1l-0.7 12.8l-1.4 12.3l-2.1 11.7l-2.3 8l-2.7 6.7l-3.5 6.9l-4.9 6.7l-5.1 5.3l-6.5 5.2l-6.1 3.6l-7.1 3.5l-8.3 3.3l-9.6 3.1l-10.9 2.8l-12 2.6l-13.2 2.3z" fill="#00ffbf" stroke="#00ffbf"/><path d="M265.6 247.5l15 6.5l17.3-3.2l18.8-4.5l12.5-4.1l5.4-2.3l7.1-3.5l4.2-2.4l5.3-3.8l7.1-6.5l4.2-5.4l4-6.8l3.5-8.2l2.8-9.3l2.1-11.7l1.4-12.3l0.7-12.8l-4.9-3.1l-1.4 11.3l-1.8 9.5l-2.7 9.9l-2.8 7.6l-4.5 9l-4.3 6.4l-5.5 6.5l-5.6 5l-6.7 4.9l-6.1 3.6l-9.4 4.6l-8.2 3.2l-9.3 3l-10.3 2.9l-15.3 3.5l-12.6 2.5z" fill="#00ffad" stroke="#00ffad"/><path d="M252.8 241.5l12.8 6l20.5-4.2l17.7-4.7l14.9-5.1l12-5.7l9.6-6l7.5-6.3l5.8-6.4l4.5-6.4l4.2-7.8l3.5-8.8l2.5-8.7l2.2-10.8l1.6-12.5l-4.7-3.1l-2 10l-2.5 9.2l-3.4 9.5l-3.5 7.4l-4.5 7.4l-4.8 6.2l-5.9 6.1l-7.3 6.1l-7.2 4.7l-6.1 3.5l-7 3.3l-10.6 4.3l-9 3l-13.5 3.8l-11.1 2.7l-16.2 3.3z" fill="#00ff9b" stroke="#00ff9b"/><path d="M241.6 236l11.2 5.5l20-4.2l17.6-4.6l15-5l12.5-5.5l6.5-3.4l5.6-3.5l8.1-6l6.4-6.2l5.2-6.2l4.9-7.4l4.3-8.5l3.7-9.6l2.6-9.3l2.2-11.1l-4.5-3l-2.7 9.7l-3.2 9.1l-3.1 6.9l-4.6 8.2l-5.1 7.2l-5.2 6l-6.4 5.9l-7.7 5.9l-7.4 4.6l-8.5 4.4l-9.8 4.3l-8.3 3.1l-12.3 3.9l-10.1 2.8l-14.9 3.5l-12 2.5z" fill="#00ff89" stroke="#00ff89"/><path d="M231.4 230.8l10.2 5.2l19.6-4.2l17.4-4.6l17.9-5.9l12.5-5.4l6.5-3.3l5.8-3.4l6.8-4.6l7.2-5.9l6.9-7.2l5.5-7.2l5-8.3l3.8-8.1l3.7-10.2l2.7-9.7l-4.5-3l-3.2 9.6l-3.3 7.6l-4.2 7.9l-5.3 8l-5.8 7l-5.8 5.8l-7 5.7l-8.2 5.7l-7.8 4.4l-8.9 4.4l-10 4.1l-8.4 3l-12.4 3.9l-10.1 2.7l-26.6 6z" fill="#00ff76" stroke="#00ff76"/><path d="M222.2 225.9l9.2 4.9l23.1-5.1l16.8-4.6l17.6-5.9l12.4-5.2l12.4-6.6l8.6-5.6l7.2-5.8l7.1-6.9l4.9-5.8l4.8-6.9l4.5-7.9l3.9-8.9l3.7-10.6l-4.3-3l-3.4 8.3l-4.2 8.6l-4.8 7.7l-5 6.7l-6.1 6.8l-7.5 6.7l-7.4 5.6l-6.9 4.4l-7.8 4.3l-8.9 4.3l-7.4 3.1l-10.8 4l-12.1 3.8l-13.3 3.6l-26.3 6z" fill="#00ff64" stroke="#00ff64"/><path d="M213.6 221.1l8.6 4.8l19.1-4.2l20.5-5.4l14.9-4.8l15.4-6.1l12.9-6.4l9.1-5.5l7.6-5.6l7.7-6.7l6.4-6.8l5.9-7.8l4.8-7.7l4.2-8.6l3.4-8.3l-4.3-2.9l-4.3 9.2l-4.3 7.4l-5.2 7.5l-5.5 6.5l-6.6 6.6l-6.6 5.5l-7.6 5.4l-8.8 5.4l-8.2 4.2l-9.1 4.1l-18.5 7l-22 6.4l-14.2 3.5l-15.3 3.3z" fill="#00ff52" stroke="#00ff52"/><path d="M205.5 216.5l8.1 4.6l22.6-5l16.8-4.5l17.8-5.7l15.2-6l12.9-6.2l9.2-5.4l7.8-5.4l6.7-5.5l6.9-6.6l5.6-6.5l5.4-7.6l5-8.4l4.3-9.2l-4.1-2.9l-4.2 8l-4.6 7.2l-5.6 7.3l-5.7 6.4l-6.9 6.4l-6.7 5.4l-7.7 5.3l-9 5.3l-8.1 4.1l-9.1 4l-10 4l-11.1 3.8l-12.2 3.7l-13.3 3.6l-26 5.8z" fill="#00ff40" stroke="#00ff40"/><path d="M198 212l7.5 4.5l22.5-5l19.9-5.3l14.8-4.7l15.4-5.9l13.3-6.1l9.4-5.2l8.3-5.3l7.1-5.3l7.2-6.5l6.1-6.3l5.9-7.4l5.5-8.3l4.8-9l-4-2.9l-5.3 8.9l-5.1 7.1l-5.2 6.1l-6.2 6.3l-7.2 6.2l-7.1 5.3l-8 5.2l-9.3 5.1l-8.3 4l-9.3 4l-10.2 3.9l-11.2 3.7l-12.2 3.6l-13.3 3.6l-25.8 5.7z" fill="#00ff2e" stroke="#00ff2e"/><path d="M190.8 207.7l7.2 4.3l22.3-4.9l20-5.2l17.5-5.6l15.3-5.8l13.2-6l9.5-5.1l8.3-5.2l8.6-6.3l7.2-6.2l6.2-6.3l5.2-6.1l5.1-7.1l5.3-8.9l-4-2.9l-5 7.8l-5.3 6.9l-5.4 6l-7.5 7.2l-7.6 6.1l-7.4 5.1l-8.3 5.1l-9.6 5l-8.5 4l-9.4 3.8l-10.3 3.8l-11.3 3.7l-22.1 6.2l-29.2 6.6z" fill="#00ff1b" stroke="#00ff1b"/><path d="M184 203.5l6.8 4.2l22.3-4.9l19.9-5.2l17.7-5.4l15.4-5.7l13.5-5.9l9.8-5l8.5-5.1l9-6.1l6.4-5.1l6.7-6.1l7.4-8.1l5.3-6.9l5-7.8l-3.8-2.8l-4.7 6.7l-6.4 7.7l-6.7 6.9l-6.9 6l-7.9 6l-7.6 5l-8.7 5l-9.7 4.9l-18.3 7.7l-21.7 7.4l-22.2 6l-29.1 6.6z" fill="#00ff09" stroke="#00ff09"/><path d="M177.6 199.3l6.4 4.2l22.2-4.9l19.9-5.1l17.8-5.4l15.6-5.5l13.7-5.8l10-4.9l10.5-6l7.6-5l7.9-6l6.9-6l6.7-6.9l6.4-7.7l4.7-6.7l-3.8-2.8l-5.7 7.5l-6 6.7l-6 5.8l-8.3 6.8l-6.8 4.9l-9.3 5.9l-8.9 4.9l-9.9 4.8l-18.5 7.5l-22 7.3l-22.2 6l-28.9 6.4z" fill="#09ff00" stroke="#09ff00"/><path d="M171.4 195.3l6.2 4l22-4.8l19.9-5l17.9-5.3l15.8-5.5l13.8-5.6l10.2-4.8l10.8-5.9l9.3-5.9l6.8-4.9l8.3-6.8l6-5.8l6-6.7l5.7-7.5l-3.7-2.8l-5.2 6.4l-6.2 6.6l-6.1 5.7l-8.4 6.7l-6.9 4.8l-9.3 5.8l-8.9 4.8l-10 4.7l-18.3 7.4l-21.7 7.2l-25.2 6.8l-28.8 6.4z" fill="#1bff00" stroke="#1bff00"/><path d="M165.4 191.3l6 4l21.9-4.8l20-5l17.9-5.2l18.4-6.3l13.7-5.6l10.2-4.7l10.8-5.7l9.3-5.8l6.9-4.8l8.4-6.7l6.1-5.7l6.2-6.6l5.2-6.4l-3.6-2.8l-5.5 6.4l-5.5 5.5l-6.3 5.6l-8.4 6.5l-6.9 4.8l-9.5 5.6l-10.7 5.7l-10.2 4.6l-18.6 7.3l-21.8 7.1l-25.2 6.7l-28.8 6.3z" fill="#2eff00" stroke="#2eff00"/><path d="M159.7 187.4l5.7 3.9l18.4-3.9l20.3-4.9l18.2-5.1l16.4-5.3l16.8-6.3l12.5-5.6l9.3-4.7l8.3-4.7l8.8-5.7l7.7-5.6l7.7-6.6l7.5-7.3l5.5-6.4l-3.6-2.7l-6.7 7.1l-5.8 5.4l-6.6 5.5l-9 6.5l-8.8 5.6l-8.3 4.6l-9.3 4.6l-10.3 4.6l-18.8 7.2l-21.9 6.9l-25.3 6.6l-28.7 6.3z" fill="#40ff00" stroke="#40ff00"/><path d="M154.1 183.5l5.6 3.9l21.8-4.7l19.9-4.8l18.1-5.1l16.1-5.2l16.6-6.3l10.6-4.5l11.2-5.6l8.3-4.6l8.8-5.6l9-6.5l6.6-5.5l5.8-5.4l6.7-7.1l-3.5-2.7l-6 6.1l-7 6.2l-6.9 5.4l-7.8 5.5l-7.3 4.5l-9.8 5.5l-11.2 5.4l-10.5 4.5l-19 7.1l-22.1 6.8l-25.3 6.5l-28.7 6.2z" fill="#52ff00" stroke="#52ff00"/><path d="M148.8 179.8l5.3 3.7l18.3-3.8l20.3-4.8l21.2-5.8l16.3-5.1l16.8-6.2l10.6-4.4l11.5-5.5l8.5-4.5l9-5.5l8-5.5l8.1-6.3l7-6.2l6-6.1l-3.4-2.8l-6.3 6.1l-8.3 7l-7.2 5.3l-8.2 5.4l-9.3 5.4l-8.7 4.4l-9.6 4.5l-10.6 4.4l-19.2 7l-22.1 6.7l-25.4 6.4l-28.6 6.2z" fill="#64ff00" stroke="#64ff00"/><path d="M143.6 176l5.2 3.8l18.2-3.8l20.3-4.8l21.3-5.7l18.9-5.9l14.4-5.2l10.8-4.4l9.8-4.5l10.5-5.3l9.3-5.4l8.2-5.4l7.2-5.3l8.3-7l6.3-6.1l-3.4-2.7l-6.5 6l-7.4 6l-7.3 5.3l-8.2 5.2l-7.7 4.4l-10.3 5.3l-11.6 5.3l-10.7 4.3l-19.3 6.9l-22.3 6.6l-25.4 6.4l-28.6 6z" fill="#76ff00" stroke="#76ff00"/><path d="M138.6 172.3l5 3.7l18.2-3.7l20.3-4.7l21.3-5.6l16.5-5l17.1-6l10.9-4.3l11.8-5.3l8.8-4.4l9.5-5.3l8.4-5.3l8.6-6.1l7.4-6l6.5-6l-3.3-2.6l-7.7 6.7l-6.7 5.1l-7.5 5.1l-8.4 5.2l-9.5 5.2l-10.6 5.2l-9.9 4.3l-10.8 4.3l-19.6 6.7l-22.4 6.6l-25.4 6.2l-28.5 6z" fill="#89ff00" stroke="#89ff00"/><path d="M133.7 168.7l4.9 3.6l18.2-3.7l20.2-4.6l21.4-5.6l16.5-4.9l17.3-5.9l11-4.2l10.1-4.3l10.8-5.2l9.7-5.2l8.6-5.2l8.8-6l6.7-5.1l7.7-6.7l-3.3-2.7l-7.9 6.6l-8.1 5.9l-7.8 5l-8.8 5.1l-9.8 5.2l-9.1 4.2l-21 8.5l-19.7 6.6l-22.4 6.5l-25.5 6.2l-28.5 5.9z" fill="#9bff00" stroke="#9bff00"/><path d="M129 165.1l4.7 3.6l18.2-3.7l20.2-4.5l21.5-5.5l16.5-4.9l17.4-5.8l11.2-4.2l12.1-5.1l9.1-4.2l9.8-5.2l8.8-5.1l7.8-5l8.1-5.9l7.9-6.6l-3.2-2.7l-7.1 5.7l-8.1 5.8l-7.8 5l-8.8 5l-9.8 5.1l-11 5l-21.2 8.3l-19.8 6.5l-22.6 6.4l-25.5 6.1l-28.4 5.9z" fill="#adff00" stroke="#adff00"/><path d="M124.4 161.6l4.6 3.5l14.6-2.9l23.7-5.2l18.6-4.7l19.6-5.6l17.5-5.7l13.4-4.9l10.1-4.2l11-5l9.8-5.1l8.8-5l7.8-5l8.1-5.8l7.1-5.7l-3.2-2.6l-7.2 5.6l-8.3 5.7l-8 4.9l-9 5l-10 4.9l-9.2 4.2l-12.1 4.9l-11.2 4.1l-20 6.4l-22.6 6.3l-25.5 6l-28.4 5.9z" fill="#bfff00" stroke="#bfff00"/><path d="M119.9 158l4.5 3.6l14.5-2.9l20.5-4.4l21.9-5.4l19.6-5.5l17.6-5.6l21.8-8.2l11.4-4.9l10.1-5l9.1-5l9.5-5.7l8.3-5.7l7.2-5.6l-3.1-2.6l-7.4 5.5l-8.5 5.6l-8.2 4.8l-9.1 4.9l-8.4 4.1l-11 4.9l-10.2 4l-13.4 4.9l-20.1 6.3l-22.7 6.2l-25.6 6l-28.3 5.7z" fill="#d1ff00" stroke="#d1ff00"/><path d="M115.5 154.6l4.4 3.4l14.5-2.8l23.8-5.1l18.6-4.6l19.7-5.4l17.7-5.5l13.7-4.8l10.3-4.1l19.8-9l9.3-4.8l9.6-5.7l8.5-5.6l7.4-5.5l-3-2.6l-7.7 5.4l-8.6 5.5l-8.3 4.8l-9.3 4.8l-10.3 4.8l-11.4 4.8l-21.8 8l-20.2 6.3l-22.8 6.1l-25.6 5.9l-28.3 5.7z" fill="#e4ff00" stroke="#e4ff00"/><path d="M111.2 151.1l4.3 3.5l14.5-2.9l20.5-4.3l21.9-5.2l19.8-5.3l17.8-5.5l11.5-4l12.7-4.8l11.4-4.8l10.3-4.8l9.3-4.8l8.3-4.8l8.6-5.5l7.7-5.4l-2.3-2l-1.4-0.2l-14.7 9.6l-9.8 5.5l-9.4 4.7l-19.9 8.7l-21.7 7.9l-22.6 6.9l-22.9 6l-25.6 5.9l-28.3 5.6z" fill="#f6ff00" stroke="#f6ff00"/><path d="M107 147.7l4.2 3.4l10.9-2.1l24.1-5l21.9-5.1l19.9-5.3l17.9-5.4l22.3-7.8l11.8-4.7l10.6-4.8l9.5-4.7l8.7-4.7l8.9-5.5l8.4-5.7l-5.5-0.8l-7.3 4.6l-9.3 5.4l-17 8.5l-20.6 8.6l-22.1 7.7l-20.4 6.1l-23 6l-25.6 5.7l-28.3 5.6z" fill="#fff600" stroke="#fff600"/><path d="M102.9 144.3l4.1 3.4l7.3-1.4l24.4-4.9l22.2-5l20.2-5.2l18.3-5.3l25-8.5l20.9-8.6l9.8-4.7l8.9-4.6l9.3-5.4l7.3-4.6l-5.8-0.9l-15.5 8.9l-17.6 8.4l-21.1 8.5l-22.7 7.6l-20.8 6l-23.3 5.8l-26 5.7l-24.9 4.8z" fill="#ffe400" stroke="#ffe400"/><path d="M98.9 141l4 3.3l3.7-0.7l24.6-4.8l22.6-5l20.5-5.1l18.6-5.2l23.4-7.6l21.8-8.4l10.4-4.6l9.3-4.6l9.8-5.3l7.2-4.4l-6.1-0.7l-17.2 9.1l-18.8 8.4l-20.1 7.5l-21.1 6.8l-21.2 5.8l-20.6 5.1l-22.5 4.9l-28.3 5.5z" fill="#ffd100" stroke="#ffd100"/><path d="M94.9 137.6l4 3.4l24.9-4.8l22.8-4.9l20.9-5l19-5.2l23.9-7.4l22.3-8.3l18.8-8.4l17.2-9.1l-6.5-0.7l-17.2 8.6l-17.6 7.4l-20.7 7.5l-21.5 6.6l-21.6 5.8l-20.9 5l-22.9 4.8l-24.9 4.7z" fill="#ffbf00" stroke="#ffbf00"/><path d="M91.1 134.3l3.8 3.3l21.5-4l23.2-4.8l21.2-5l19.2-5l24.4-7.4l21-7.4l19.6-8.2l17.2-8.6l-6.9-0.7l-16.9 8l-18.4 7.3l-21.5 7.4l-22.2 6.5l-19.4 5l-21.2 4.9l-19.7 4.1l-24.9 4.6z" fill="#ffad00" stroke="#ffad00"/><path d="M87.3 131.1l3.8 3.2l41.4-8l18.6-4.2l19.8-5l22.9-6.5l22.1-7.3l20.8-8.1l18.6-8.7l-7.3-0.6l-16.4 7.3l-19.1 7.2l-19.9 6.5l-22.7 6.5l-19.6 4.9l-18.4 4.1l-19.7 4.1l-24.9 4.6z" fill="#ff9b00" stroke="#ff9b00"/><path d="M83.6 127.8l3.7 3.3l41.4-8l35.8-8.3l23.3-6.4l22.6-7.2l19.5-7.3l18.1-8l-7.9-0.4l-17.2 7l-18.1 6.5l-18.1 5.7l-23.1 6.3l-20 4.9l-18.6 4l-41.4 7.9z" fill="#ff8900" stroke="#ff8900"/><path d="M80 124.6l3.6 3.2l38.2-7.2l33.4-7.5l24.1-6.3l23.4-7.1l18.3-6.4l19.1-7.8l-8.6-0.4l-15.7 6.1l-18.7 6.3l-18.8 5.6l-23.8 6.3l-36.4 8.1l-38.1 7.1z" fill="#ff7600" stroke="#ff7600"/><path d="M76.4 121.4l3.6 3.2l34.8-6.5l31.1-6.7l24.8-6.2l21.9-6.3l21.3-7l17.6-6.8l-9.5-0.2l-15.4 5.6l-15.1 4.9l-16.7 4.8l-15.6 4.1l-19.8 4.7l-18.4 4l-44.6 8.4z" fill="#ff6400" stroke="#ff6400"/><path d="M72.9 118.2l3.5 3.2l31.5-5.8l28.5-5.9l22.8-5.4l23-6.2l20.2-6.2l19.6-7l-10.7 0.1l-14.3 4.7l-13.5 4.2l-14.6 4l-18.6 4.8l-36 7.9l-41.4 7.6z" fill="#ff5200" stroke="#ff5200"/><path d="M69.4 115.1l3.5 3.1l28.2-5l25.7-5.2l23.5-5.3l21.1-5.4l21.3-6.2l18.6-6.1l-12.3 0.3l-28.4 8.4l-29.4 7.3l-33.7 7.2l-38.1 6.9z" fill="#ff4000" stroke="#ff4000"/><path d="M66 111.9l3.4 3.2l41.4-7.6l24.6-5.2l22.3-5.3l22.6-6l18.7-5.7l-15 0.8l-26.9 7.3l-28 6.6l-28.2 5.7l-34.9 6.2z" fill="#ff2e00" stroke="#ff2e00"/><path d="M62.7 108.8l3.3 3.1l31.5-5.6l22.5-4.4l23.5-5.2l21.3-5.2l19.2-5.4l-19.9 1.8l-23.9 5.9l-23.5 5.1l-25.9 5l-28.1 4.9z" fill="#ff1b00" stroke="#ff1b00"/><path d="M62.4 108.5l0.3 0.3l17.8-3l33.1-6.3l26.6-5.7l23.9-5.9l-26.4 3.6l-24.3 4.4l-25.1 5.6l-25.9 7z" fill="#ff0900" stroke="#ff0900"/></g>
<path d="M62.4 108.5L75.4 104.9L88.3 101.5L100.9 98.6L113.4 95.9L125.6 93.5L137.7 91.5L149.5 89.7L161.2 88.2L172.7 87L184 86.1L195.1 85.5L206 85.1L216.8 84.9L227.4 85L237.8 85.4L248.1 86L258.2 86.8L268.1 87.8L277.9 89.1L287.5 90.5M62.4 108.5L74.2 119.4L86.1 130L98.2 140.4L110.4 150.5L122.7 160.3L135.2 169.8L147.8 179.1L160.6 188L173.6 196.7L186.7 205.1L200 213.3L213.5 221.1L227.2 228.6L241.1 235.8L255.2 242.7L269.5 249.2L284 255.5L298.7 261.4L313.7 266.9L329 272.2M68.2 114L81.3 110.3L94.1 106.9L106.8 103.9L119.2 101.2L131.4 98.8L143.5 96.7L155.3 94.9L167 93.4L178.4 92.1L189.7 91.2L200.8 90.5L211.7 90L222.5 89.9L233.1 89.9L243.5 90.3L253.7 90.8L263.8 91.6L273.7 92.6L283.4 93.8L293 95.3M68.9 106.6L80.7 117.5L92.6 128L104.7 138.4L116.9 148.4L129.2 158.2L141.7 167.7L154.3 176.9L167.1 185.8L180 194.5L193.1 202.8L206.4 210.9L219.9 218.6L233.6 226.1L247.4 233.3L261.5 240.1L275.8 246.6L290.3 252.8L305 258.7L320 264.2L335.2 269.4M74.2 119.4L87.2 115.6L100 112.2L112.7 109.2L125.1 106.4L137.3 104L149.3 101.8L161.1 100L172.8 98.4L184.2 97.2L195.5 96.2L206.6 95.4L217.5 95L228.2 94.8L238.8 94.8L249.1 95.1L259.4 95.6L269.4 96.3L279.3 97.3L289 98.5L298.6 99.9M75.4 104.9L87.2 115.6L99.1 126.2L111.2 136.4L123.3 146.4L135.6 156.2L148.1 165.6L160.7 174.8L173.5 183.7L186.4 192.3L199.5 200.6L212.8 208.6L226.3 216.3L239.9 223.7L253.8 230.8L267.8 237.6L282.1 244.1L296.5 250.3L311.3 256.1L326.2 261.6L341.4 266.8M80.1 124.7L93.1 120.9L106 117.5L118.6 114.4L131 111.6L143.2 109.1L155.2 106.9L167 105L178.6 103.4L190 102.1L201.3 101.1L212.4 100.3L223.2 99.8L233.9 99.6L244.5 99.6L254.8 99.8L265 100.3L275.1 101L284.9 102L294.7 103.2L304.2 104.6M81.9 103.2L93.6 113.9L105.5 124.4L117.6 134.6L129.7 144.5L142 154.2L154.5 163.6L167.1 172.7L179.8 181.6L192.8 190.1L205.8 198.4L219.1 206.4L232.5 214.1L246.2 221.5L260 228.5L274 235.3L288.3 241.7L302.7 247.8L317.4 253.6L332.3 259.1L347.5 264.2M86.1 130L99.1 126.2L111.9 122.7L124.5 119.5L136.9 116.7L149.1 114.1L161.1 111.9L172.9 110L184.5 108.4L195.9 107L207.1 105.9L218.2 105.1L229 104.6L239.7 104.3L250.2 104.3L260.6 104.5L270.8 105L280.8 105.7L290.6 106.6L300.3 107.7L309.8 109.1M88.3 101.5L100 112.2L111.9 122.7L123.9 132.9L136.1 142.8L148.4 152.4L160.8 161.7L173.4 170.8L186.1 179.6L199 188.1L212.1 196.4L225.3 204.3L238.8 211.9L252.4 219.3L266.2 226.3L280.2 233L294.4 239.4L308.9 245.5L323.5 251.3L338.4 256.7L353.6 261.8M92.1 135.2L105.1 131.3L117.9 127.8L130.5 124.6L142.9 121.7L155 119.1L167 116.9L178.8 114.9L190.4 113.2L201.8 111.8L213 110.7L224 109.9L234.9 109.3L245.5 109L256 109L266.4 109.2L276.5 109.6L286.5 110.3L296.3 111.1L306 112.3L315.5 113.6M94.6 100L106.4 110.7L118.2 121.1L130.2 131.2L142.4 141L154.6 150.6L167.1 159.9L179.6 169L192.4 177.7L205.2 186.2L218.3 194.4L231.5 202.3L244.9 209.9L258.5 217.2L272.3 224.2L286.3 230.9L300.5 237.2L314.9 243.3L329.6 249L344.4 254.4L359.6 259.4M98.2 140.4L111.2 136.4L123.9 132.9L136.5 129.6L148.9 126.7L161 124.1L173 121.7L184.7 119.7L196.3 118L207.7 116.6L218.9 115.5L229.9 114.6L240.7 114L251.4 113.7L261.8 113.6L272.1 113.7L282.3 114.1L292.3 114.8L302.1 115.6L311.7 116.7L321.2 118M100.9 98.6L112.7 109.2L124.5 119.5L136.5 129.6L148.6 139.4L160.9 149L173.3 158.2L185.8 167.2L198.5 175.9L211.4 184.4L224.5 192.5L237.7 200.4L251 207.9L264.6 215.2L278.4 222.1L292.4 228.8L306.5 235.1L320.9 241.1L335.6 246.8L350.4 252.1L365.5 257.2M104.2 145.4L117.2 141.5L130 137.8L142.5 134.5L154.9 131.6L167 128.9L179 126.6L190.7 124.5L202.3 122.8L213.6 121.3L224.8 120.1L235.8 119.2L246.6 118.6L257.2 118.2L267.7 118.1L278 118.2L288.1 118.6L298 119.2L307.8 120.1L317.5 121.1L326.9 122.4M107.2 97.2L118.9 107.8L130.7 118.1L142.7 128.1L154.8 137.9L167.1 147.4L179.4 156.6L192 165.5L204.7 174.2L217.5 182.6L230.5 190.7L243.7 198.5L257.1 206L270.7 213.3L284.4 220.2L298.4 226.8L312.5 233.1L326.9 239.1L341.5 244.7L356.3 250L371.4 255M110.4 150.5L123.3 146.4L136.1 142.8L148.6 139.4L161 136.4L173.1 133.7L185 131.3L196.7 129.2L208.3 127.4L219.6 126L230.8 124.7L241.7 123.8L252.5 123.1L263.1 122.7L273.6 122.6L283.8 122.7L293.9 123L303.9 123.6L313.6 124.4L323.2 125.5L332.7 126.7M113.4 95.9L125.1 106.4L136.9 116.7L148.9 126.7L161 136.4L173.2 145.9L185.6 155L198.1 163.9L210.8 172.6L223.6 180.9L236.6 189L249.8 196.8L263.1 204.3L276.6 211.4L290.4 218.3L304.3 224.9L318.4 231.1L332.8 237.1L347.4 242.7L362.2 248L377.2 252.9M116.5 155.4L129.5 151.3L142.2 147.6L154.7 144.2L167 141.2L179.2 138.4L191.1 136L202.8 133.9L214.3 132.1L225.6 130.5L236.8 129.3L247.7 128.3L258.5 127.6L269.1 127.2L279.5 127L289.7 127.1L299.8 127.4L309.7 127.9L319.4 128.7L329 129.7L338.5 131M119.5 94.7L131.2 105.2L143 115.4L155 125.3L167 135L179.3 144.4L191.6 153.6L204.1 162.4L216.8 171L229.6 179.3L242.6 187.4L255.7 195.1L269.1 202.6L282.6 209.7L296.3 216.5L310.2 223.1L324.3 229.3L338.6 235.2L353.2 240.8L367.9 246L383 251M122.7 160.3L135.6 156.2L148.4 152.4L160.9 149L173.2 145.9L185.3 143.1L197.2 140.6L208.9 138.5L220.4 136.6L231.7 135L242.8 133.7L253.7 132.7L264.5 132L275 131.5L285.4 131.3L295.7 131.4L305.7 131.7L315.6 132.2L325.3 133L334.9 133.9L344.3 135.1M125.6 93.5L137.3 104L149.1 114.1L161 124.1L173.1 133.7L185.3 143.1L197.6 152.2L210.1 161L222.7 169.6L235.5 177.8L248.5 185.8L261.6 193.5L275 200.9L288.5 208L302.1 214.9L316 221.4L330.1 227.6L344.4 233.4L358.9 239L373.7 244.2L388.7 249.1M128.9 165.1L141.9 160.9L154.6 157.1L167.1 153.6L179.3 150.5L191.4 147.7L203.3 145.2L215 143L226.5 141.1L237.8 139.5L248.9 138.2L259.8 137.1L270.5 136.4L281 135.9L291.4 135.6L301.6 135.6L311.6 135.9L321.5 136.4L331.2 137.1L340.7 138.1L350.1 139.3M131.7 92.5L143.3 102.9L155.1 113L167 122.9L179.1 132.5L191.2 141.8L203.6 150.9L216 159.7L228.7 168.2L241.4 176.4L254.4 184.4L267.5 192L280.8 199.4L294.3 206.5L307.9 213.3L321.8 219.7L335.9 225.9L350.1 231.7L364.6 237.2L379.4 242.4L394.3 247.3M135.2 169.8L148.1 165.6L160.8 161.7L173.3 158.2L185.6 155L197.6 152.2L209.5 149.6L221.1 147.4L232.6 145.5L243.9 143.8L254.9 142.5L265.8 141.4L276.5 140.6L287.1 140.1L297.4 139.8L307.6 139.8L317.6 140.1L327.5 140.5L337.1 141.2L346.6 142.2L356 143.3M137.7 91.5L149.3 101.8L161.1 111.9L173 121.7L185 131.3L197.2 140.6L209.5 149.6L221.9 158.4L234.5 166.9L247.3 175.1L260.2 183L273.3 190.6L286.6 198L300 205L313.7 211.7L327.5 218.2L341.6 224.3L355.8 230.1L370.3 235.6L385 240.8L399.9 245.6M141.5 174.5L154.4 170.2L167.1 166.3L179.5 162.8L191.8 159.5L203.8 156.6L215.7 154L227.3 151.8L238.8 149.8L250 148.1L261.1 146.8L272 145.7L282.6 144.8L293.1 144.3L303.5 144L313.6 143.9L323.6 144.1L333.4 144.6L343.1 145.3L352.6 146.2L361.9 147.3M143.6 90.6L155.2 100.9L167 110.9L178.9 120.7L190.9 130.2L203 139.5L215.3 148.5L227.8 157.2L240.4 165.6L253.1 173.8L266 181.7L279.1 189.3L292.3 196.6L305.8 203.6L319.4 210.3L333.2 216.7L347.2 222.8L361.4 228.6L375.9 234.1L390.6 239.2L405.5 244M147.8 179.1L160.7 174.8L173.4 170.8L185.8 167.2L198.1 163.9L210.1 161L221.9 158.4L233.6 156.1L245 154.1L256.2 152.4L267.2 151L278.1 149.8L288.8 149L299.3 148.4L309.6 148.1L319.7 148L329.7 148.2L339.5 148.6L349.1 149.3L358.5 150.2L367.8 151.3M149.5 89.7L161.1 100L172.9 110L184.7 119.7L196.7 129.2L208.9 138.5L221.1 147.4L233.6 156.1L246.1 164.5L258.8 172.6L271.7 180.5L284.8 188L298 195.3L311.4 202.3L325 209L338.8 215.3L352.8 221.4L367 227.2L381.4 232.6L396.1 237.7L410.9 242.5M154.2 183.6L167.1 179.2L179.7 175.3L192.2 171.6L204.4 168.3L216.4 165.3L228.2 162.7L239.8 160.3L251.2 158.3L262.4 156.5L273.5 155.1L284.3 153.9L294.9 153.1L305.4 152.4L315.7 152.1L325.8 152L335.7 152.1L345.5 152.5L355.1 153.2L364.5 154L373.8 155.1M155.4 88.9L167 99.2L178.7 109.1L190.5 118.9L202.5 128.3L214.6 137.5L226.9 146.4L239.3 155L251.8 163.4L264.5 171.5L277.4 179.3L290.4 186.9L303.7 194.1L317 201L330.6 207.7L344.4 214L358.4 220.1L372.5 225.8L386.9 231.2L401.5 236.3L416.4 241M160.6 188L173.5 183.7L186.1 179.6L198.5 175.9L210.8 172.6L222.7 169.6L234.5 166.9L246.1 164.5L257.5 162.4L268.7 160.7L279.7 159.2L290.5 158L301.1 157.1L311.6 156.4L321.8 156L331.9 155.9L341.8 156L351.6 156.4L361.2 157L370.6 157.9L379.8 158.9M161.2 88.2L172.8 98.4L184.5 108.4L196.3 118L208.3 127.4L220.4 136.6L232.6 145.5L245 154.1L257.5 162.4L270.2 170.5L283 178.3L296.1 185.8L309.2 193L322.6 199.9L336.2 206.5L349.9 212.8L363.8 218.8L378 224.5L392.4 229.9L406.9 235L421.8 239.7M167.1 192.4L179.9 188L192.6 183.9L205 180.2L217.1 176.8L229.1 173.7L240.9 171L252.5 168.6L263.8 166.5L275 164.7L286 163.2L296.8 161.9L307.4 161L317.8 160.3L328 159.9L338.1 159.8L348 159.9L357.7 160.2L367.3 160.8L376.7 161.6L385.9 162.7M167 87.6L178.5 97.8L190.2 107.7L202 117.3L214 126.7L226 135.8L238.3 144.6L250.6 153.2L263.1 161.5L275.8 169.5L288.6 177.3L301.6 184.7L314.8 191.9L328.1 198.8L341.6 205.4L355.4 211.7L369.3 217.7L383.4 223.3L397.7 228.7L412.3 233.7L427.1 238.4M173.6 196.7L186.4 192.3L199 188.1L211.4 184.4L223.6 180.9L235.5 177.8L247.3 175.1L258.8 172.6L270.2 170.5L281.3 168.6L292.3 167.1L303.1 165.8L313.7 164.9L324 164.2L334.3 163.7L344.3 163.6L354.2 163.6L363.9 164L373.4 164.5L382.8 165.3L392 166.4M172.7 87L184.2 97.2L195.9 107L207.7 116.6L219.6 126L231.7 135L243.9 143.8L256.2 152.4L268.7 160.7L281.3 168.6L294.1 176.4L307.1 183.8L320.3 190.9L333.6 197.8L347.1 204.4L360.8 210.6L374.7 216.6L388.8 222.2L403.1 227.5L417.6 232.6L432.4 237.2M180.1 201L192.9 196.4L205.5 192.3L217.9 188.5L230.1 185L242 181.9L253.7 179.1L265.3 176.6L276.6 174.4L287.7 172.5L298.7 171L309.4 169.7L320 168.7L330.3 168L340.5 167.5L350.6 167.3L360.4 167.3L370.1 167.6L379.6 168.2L388.9 169L398.1 170M178.3 86.5L189.9 96.6L201.5 106.4L213.3 116L225.2 125.3L237.3 134.4L249.4 143.1L261.8 151.6L274.2 159.9L286.8 167.8L299.6 175.5L312.6 182.9L325.7 190L339 196.9L352.5 203.4L366.1 209.6L380 215.6L394.1 221.2L408.4 226.5L422.9 231.5L437.6 236.1M186.7 205.1L199.5 200.6L212.1 196.4L224.5 192.5L236.6 189L248.5 185.8L260.2 183L271.7 180.5L283 178.3L294.1 176.4L305.1 174.8L315.8 173.4L326.3 172.4L336.7 171.7L346.8 171.2L356.8 170.9L366.7 171L376.3 171.3L385.8 171.8L395.1 172.5L404.2 173.5M184 86.1L195.5 96.2L207.1 105.9L218.9 115.5L230.8 124.7L242.8 133.7L254.9 142.5L267.2 151L279.7 159.2L292.3 167.1L305.1 174.8L318 182.1L331.1 189.2L344.4 196L357.8 202.5L371.5 208.7L385.3 214.6L399.3 220.2L413.6 225.5L428.1 230.5L442.7 235.1M193.4 209.2L206.1 204.6L218.7 200.4L231 196.5L243.2 192.9L255.1 189.7L266.8 186.8L278.2 184.3L289.5 182L300.6 180.1L311.5 178.5L322.2 177.1L332.7 176.1L343 175.3L353.2 174.8L363.2 174.5L373 174.5L382.6 174.8L392 175.3L401.3 176L410.4 177M189.6 85.8L201 95.8L212.7 105.5L224.4 115L236.3 124.2L248.3 133.2L260.4 141.9L272.7 150.4L285.1 158.5L297.7 166.4L310.4 174.1L323.4 181.4L336.4 188.5L349.7 195.2L363.1 201.7L376.7 207.9L390.5 213.8L404.5 219.3L418.8 224.6L433.2 229.6L447.9 234.2M200 213.3L212.8 208.6L225.3 204.3L237.7 200.4L249.8 196.8L261.6 193.5L273.3 190.6L284.8 188L296.1 185.8L307.1 183.8L318 182.1L328.7 180.8L339.2 179.7L349.5 178.9L359.6 178.3L369.5 178.1L379.3 178L388.9 178.3L398.3 178.8L407.6 179.5L416.7 180.4M195.1 85.5L206.6 95.4L218.2 105.1L229.9 114.6L241.7 123.8L253.7 132.7L265.8 141.4L278.1 149.8L290.5 158L303.1 165.8L315.8 173.4L328.7 180.8L341.7 187.8L354.9 194.5L368.3 201L381.9 207.1L395.7 213L409.7 218.5L423.9 223.8L438.3 228.7L452.9 233.3M206.8 217.2L219.5 212.5L232 208.2L244.3 204.2L256.4 200.5L268.3 197.3L279.9 194.3L291.4 191.7L302.6 189.4L313.7 187.4L324.5 185.7L335.2 184.3L345.6 183.2L355.9 182.4L366 181.8L375.9 181.5L385.7 181.5L395.2 181.7L404.6 182.1L413.9 182.8L422.9 183.8M200.6 85.2L212 95.2L223.6 104.8L235.3 114.3L247.2 123.4L259.1 132.3L271.2 141L283.5 149.4L295.8 157.5L308.4 165.3L321.1 172.9L333.9 180.2L347 187.2L360.2 193.9L373.5 200.3L387.1 206.5L400.9 212.3L414.8 217.8L429 223L443.4 227.9L458 232.5M213.5 221.1L226.3 216.3L238.8 211.9L251 207.9L263.1 204.3L275 200.9L286.6 198L298 195.3L309.2 193L320.3 190.9L331.1 189.2L341.7 187.8L352.2 186.7L362.4 185.8L372.5 185.2L382.4 184.9L392.1 184.8L401.6 185L411 185.5L420.2 186.1L429.3 187M206 85.1L217.5 95L229 104.6L240.7 114L252.5 123.1L264.5 132L276.5 140.6L288.8 149L301.1 157.1L313.7 164.9L326.3 172.4L339.2 179.7L352.2 186.7L365.3 193.3L378.7 199.7L392.2 205.9L405.9 211.7L419.9 217.2L434 222.4L448.4 227.2L462.9 231.8M220.3 224.9L233.1 220.1L245.5 215.6L257.8 211.6L269.9 207.9L281.7 204.5L293.3 201.5L304.7 198.8L315.9 196.5L326.9 194.4L337.7 192.7L348.3 191.2L358.7 190L368.9 189.1L379 188.5L388.9 188.2L398.6 188.1L408.1 188.3L417.4 188.7L426.6 189.4L435.6 190.3M211.4 85L222.9 94.8L234.4 104.4L246.1 113.8L257.9 122.9L269.8 131.7L281.8 140.3L294 148.7L306.4 156.7L318.9 164.5L331.5 172L344.3 179.2L357.3 186.2L370.5 192.9L383.8 199.2L397.3 205.3L411 211.1L424.9 216.6L439 221.8L453.3 226.6L467.9 231.2M227.2 228.6L239.9 223.7L252.4 219.3L264.6 215.2L276.6 211.4L288.5 208L300 205L311.4 202.3L322.6 199.9L333.6 197.8L344.4 196L354.9 194.5L365.3 193.3L375.5 192.4L385.6 191.8L395.4 191.4L405.1 191.3L414.5 191.5L423.9 191.9L433 192.5L442 193.4M216.8 84.9L228.2 94.8L239.7 104.3L251.4 113.7L263.1 122.7L275 131.5L287.1 140.1L299.3 148.4L311.6 156.4L324 164.2L336.7 171.7L349.5 178.9L362.4 185.8L375.5 192.4L388.8 198.8L402.3 204.9L416 210.6L429.9 216.1L443.9 221.2L458.2 226.1L472.7 230.6M234.1 232.2L246.8 227.3L259.3 222.8L271.5 218.7L283.5 214.9L295.3 211.5L306.8 208.4L318.2 205.7L329.4 203.2L340.3 201.1L351.1 199.3L361.6 197.8L372 196.6L382.2 195.6L392.2 195L402 194.6L411.6 194.5L421.1 194.6L430.4 195L439.5 195.6L448.4 196.5M222.1 84.9L233.5 94.7L245 104.3L256.6 113.6L268.4 122.6L280.3 131.4L292.3 139.9L304.4 148.2L316.7 156.2L329.2 163.9L341.8 171.4L354.5 178.6L367.5 185.5L380.6 192.1L393.8 198.4L407.3 204.5L420.9 210.2L434.8 215.6L448.8 220.8L463.1 225.6L477.6 230.1M241.1 235.8L253.8 230.8L266.2 226.3L278.4 222.1L290.4 218.3L302.1 214.9L313.7 211.7L325 209L336.2 206.5L347.1 204.4L357.8 202.5L368.3 201L378.7 199.7L388.8 198.8L398.8 198.1L408.6 197.7L418.2 197.6L427.6 197.7L436.9 198L446 198.6L454.9 199.5M227.4 85L238.8 94.8L250.2 104.3L261.8 113.6L273.6 122.6L285.4 131.3L297.4 139.8L309.6 148.1L321.8 156L334.3 163.7L346.8 171.2L359.6 178.3L372.5 185.2L385.6 191.8L398.8 198.1L412.2 204.1L425.8 209.9L439.7 215.3L453.7 220.4L467.9 225.2L482.3 229.7M248.1 239.2L260.8 234.3L273.2 229.7L285.4 225.5L297.3 221.6L309.1 218.1L320.6 215L331.9 212.2L343 209.7L353.9 207.5L364.6 205.7L375.1 204.1L385.4 202.8L395.6 201.9L405.5 201.2L415.3 200.7L424.8 200.6L434.2 200.7L443.5 201L452.5 201.6L461.4 202.4M232.6 85.2L244 94.9L255.4 104.4L267 113.6L278.7 122.6L290.6 131.3L302.5 139.8L314.7 148L326.9 155.9L339.3 163.6L351.9 171L364.6 178.2L377.5 185L390.5 191.6L403.7 197.9L417.1 203.9L430.7 209.6L444.5 215L458.5 220.1L472.7 224.9L487.1 229.4M255.2 242.7L267.8 237.6L280.2 233L292.4 228.8L304.3 224.9L316 221.4L327.5 218.2L338.8 215.3L349.9 212.8L360.8 210.6L371.5 208.7L381.9 207.1L392.2 205.9L402.3 204.9L412.2 204.1L422 203.7L431.5 203.5L440.9 203.6L450.1 203.9L459.1 204.5L468 205.3M237.8 85.4L249.1 95.1L260.6 104.5L272.1 113.7L283.8 122.7L295.7 131.4L307.6 139.8L319.7 148L331.9 155.9L344.3 163.6L356.8 170.9L369.5 178.1L382.4 184.9L395.4 191.4L408.6 197.7L422 203.7L435.5 209.4L449.3 214.8L463.2 219.8L477.4 224.6L491.8 229.1M262.3 246L274.9 240.9L287.3 236.3L299.4 232L311.3 228.1L323 224.5L334.5 221.3L345.8 218.4L356.8 215.9L367.7 213.6L378.3 211.7L388.8 210.1L399.1 208.8L409.1 207.8L419 207L428.7 206.6L438.2 206.4L447.6 206.4L456.8 206.7L465.8 207.3L474.6 208.1M243 85.6L254.3 95.3L265.7 104.7L277.2 113.9L288.9 122.8L300.7 131.5L312.6 139.9L324.7 148.1L336.9 155.9L349.3 163.6L361.8 170.9L374.4 178L387.3 184.8L400.2 191.4L413.4 197.6L426.8 203.6L440.3 209.2L454 214.6L467.9 219.7L482.1 224.4L496.4 228.9M269.5 249.2L282.1 244.1L294.4 239.4L306.5 235.1L318.4 231.1L330.1 227.6L341.6 224.3L352.8 221.4L363.8 218.8L374.7 216.6L385.3 214.6L395.7 213L405.9 211.7L416 210.6L425.8 209.9L435.5 209.4L445 209.2L454.3 209.2L463.5 209.5L472.4 210L481.3 210.8M248.1 86L259.4 95.6L270.8 105L282.3 114.1L293.9 123L305.7 131.7L317.6 140.1L329.7 148.2L341.8 156L354.2 163.6L366.7 171L379.3 178L392.1 184.8L405.1 191.3L418.2 197.6L431.5 203.5L445 209.2L458.7 214.5L472.6 219.6L486.7 224.3L501 228.7M276.7 252.4L289.3 247.2L301.6 242.5L313.7 238.1L325.6 234.2L337.2 230.5L348.7 227.2L359.9 224.3L370.9 221.7L381.7 219.4L392.3 217.5L402.7 215.8L412.9 214.5L422.9 213.4L432.7 212.6L442.4 212.1L451.8 211.9L461.1 211.9L470.2 212.2L479.2 212.7L488 213.5M253.1 86.3L264.4 95.9L275.8 105.3L287.3 114.4L298.9 123.3L310.7 131.9L322.6 140.3L334.6 148.4L346.7 156.2L359 163.8L371.5 171.1L384.1 178.1L396.9 184.9L409.8 191.4L422.9 197.6L436.2 203.5L449.7 209.1L463.4 214.5L477.2 219.5L491.3 224.2L505.5 228.7M284 255.5L296.5 250.3L308.9 245.5L320.9 241.1L332.8 237.1L344.4 233.4L355.8 230.1L367 227.2L378 224.5L388.8 222.2L399.3 220.2L409.7 218.5L419.9 217.2L429.9 216.1L439.7 215.3L449.3 214.8L458.7 214.5L468 214.5L477 214.8L486 215.3L494.7 216M258.2 86.8L269.4 96.3L280.8 105.7L292.3 114.8L303.9 123.6L315.6 132.2L327.5 140.5L339.5 148.6L351.6 156.4L363.9 164L376.3 171.3L388.9 178.3L401.6 185L414.5 191.5L427.6 197.7L440.9 203.6L454.3 209.2L468 214.5L481.8 219.5L495.8 224.3L510.1 228.7M291.3 258.5L303.9 253.2L316.2 248.4L328.2 244L340 239.9L351.6 236.2L363 232.9L374.2 229.9L385.1 227.3L395.9 224.9L406.4 222.9L416.8 221.2L426.9 219.8L436.9 218.7L446.6 217.9L456.2 217.3L465.6 217.1L474.8 217.1L483.9 217.3L492.8 217.8L501.5 218.6M263.1 87.3L274.4 96.8L285.7 106.1L297.2 115.2L308.8 124L320.5 132.5L332.3 140.9L344.3 148.9L356.4 156.7L368.7 164.2L381.1 171.5L393.6 178.5L406.3 185.2L419.2 191.7L432.3 197.8L445.5 203.7L458.9 209.3L472.5 214.6L486.3 219.6L500.3 224.3L514.5 228.7M298.7 261.4L311.3 256.1L323.5 251.3L335.6 246.8L347.4 242.7L358.9 239L370.3 235.6L381.4 232.6L392.4 229.9L403.1 227.5L413.6 225.5L423.9 223.8L434 222.4L443.9 221.2L453.7 220.4L463.2 219.8L472.6 219.6L481.8 219.5L490.8 219.8L499.7 220.3L508.3 221M268.1 87.8L279.3 97.3L290.6 106.6L302.1 115.6L313.6 124.4L325.3 133L337.1 141.2L349.1 149.3L361.2 157L373.4 164.5L385.8 171.8L398.3 178.8L411 185.5L423.9 191.9L436.9 198L450.1 203.9L463.5 209.5L477 214.8L490.8 219.8L504.8 224.5L518.9 228.9M306.2 264.2L318.7 258.9L330.9 254L343 249.5L354.7 245.4L366.3 241.6L377.6 238.2L388.7 235.2L399.6 232.5L410.3 230.1L420.8 228L431.1 226.3L441.2 224.8L451.1 223.7L460.8 222.8L470.3 222.3L479.6 222L488.8 221.9L497.8 222.2L506.6 222.6L515.2 223.4M273 88.4L284.2 97.9L295.5 107.1L306.9 116.2L318.4 124.9L330.1 133.4L341.9 141.7L353.8 149.7L365.9 157.4L378.1 164.9L390.5 172.1L403 179.1L415.6 185.8L428.5 192.2L441.5 198.3L454.6 204.2L468 209.7L481.5 215L495.3 220L509.2 224.7L523.3 229M313.7 266.9L326.2 261.6L338.4 256.7L350.4 252.1L362.2 248L373.7 244.2L385 240.8L396.1 237.7L406.9 235L417.6 232.6L428.1 230.5L438.3 228.7L448.4 227.2L458.2 226.1L467.9 225.2L477.4 224.6L486.7 224.3L495.8 224.3L504.8 224.5L513.6 224.9L522.2 225.6M277.9 89.1L289 98.5L300.3 107.7L311.7 116.7L323.2 125.5L334.9 133.9L346.6 142.2L358.5 150.2L370.6 157.9L382.8 165.3L395.1 172.5L407.6 179.5L420.2 186.1L433 192.5L446 198.6L459.1 204.5L472.4 210L486 215.3L499.7 220.3L513.6 224.9L527.7 229.3M321.3 269.6L333.8 264.2L346 259.3L357.9 254.7L369.6 250.5L381.1 246.7L392.4 243.2L403.5 240.1L414.3 237.4L424.9 234.9L435.4 232.8L445.6 231L455.6 229.6L465.4 228.4L475.1 227.5L484.5 226.9L493.8 226.6L502.9 226.5L511.8 226.7L520.6 227.2L529.2 227.9M282.7 89.8L293.8 99.2L305.1 108.4L316.5 117.4L328 126.1L339.6 134.5L351.3 142.7L363.2 150.7L375.2 158.4L387.4 165.8L399.7 173L412.1 179.9L424.8 186.6L437.5 192.9L450.5 199L463.6 204.9L476.9 210.4L490.3 215.6L504 220.6L517.9 225.3L531.9 229.6M329 272.2L341.4 266.8L353.6 261.8L365.5 257.2L377.2 252.9L388.7 249.1L399.9 245.6L410.9 242.5L421.8 239.7L432.4 237.2L442.7 235.1L452.9 233.3L462.9 231.8L472.7 230.6L482.3 229.7L491.8 229.1L501 228.7L510.1 228.7L518.9 228.9L527.7 229.3L536.2 230M287.5 90.5L298.6 99.9L309.8 109.1L321.2 118L332.7 126.7L344.3 135.1L356 143.3L367.8 151.3L379.8 158.9L392 166.4L404.2 173.5L416.7 180.4L429.3 187L442 193.4L454.9 199.5L468 205.3L481.3 210.8L494.7 216L508.3 221L522.2 225.6L536.2 230" fill="none" stroke="#808080" stroke-opacity="0.7" stroke-width="0.55"/>
<text class="b" transform="translate(62.8 352.5) skewY(-12) scale(0.82 1)" font-size="18.5" text-anchor="end">72</text>
<text class="b" transform="translate(61.4 321) skewY(-12) scale(0.82 1)" font-size="18.5" text-anchor="end">74</text>
<text class="b" transform="translate(60 289.2) skewY(-12) scale(0.82 1)" font-size="18.5" text-anchor="end">76</text>
<text class="b" transform="translate(58.6 256.9) skewY(-12) scale(0.82 1)" font-size="18.5" text-anchor="end">78</text>
<text class="b" transform="translate(57.1 224.3) skewY(-12) scale(0.82 1)" font-size="18.5" text-anchor="end">80</text>
<text class="b" transform="translate(55.7 191.3) skewY(-12) scale(0.82 1)" font-size="18.5" text-anchor="end">82</text>
<text class="b" transform="translate(54.2 157.9) skewY(-12) scale(0.82 1)" font-size="18.5" text-anchor="end">84</text>
<text class="b" transform="translate(52.7 124.1) skewY(-12) scale(0.82 1)" font-size="18.5" text-anchor="end">86</text>
<text class="b" transform="translate(51.2 90) skewY(-12) scale(0.82 1)" font-size="18.5" text-anchor="end">88</text>
<text class="b" transform="translate(49.7 55.4) skewY(-12) scale(0.82 1)" font-size="18.5" text-anchor="end">90</text>
<text class="b" transform="matrix(0.838 -0.447 0.750 0.278 68.5 378.3)" font-size="18" text-anchor="end">0.32</text>
<text class="b" transform="matrix(0.838 -0.447 0.750 0.278 96.4 388.6)" font-size="18" text-anchor="end">0.31</text>
<text class="b" transform="matrix(0.838 -0.447 0.750 0.278 125.2 399.3)" font-size="18" text-anchor="end">0.30</text>
<text class="b" transform="matrix(0.838 -0.447 0.750 0.278 155.1 410.4)" font-size="18" text-anchor="end">0.29</text>
<text class="b" transform="matrix(0.838 -0.447 0.750 0.278 186.2 421.9)" font-size="18" text-anchor="end">0.28</text>
<text class="b" transform="matrix(0.838 -0.447 0.750 0.278 218.4 433.8)" font-size="18" text-anchor="end">0.27</text>
<text class="b" transform="matrix(0.838 -0.447 0.750 0.278 251.9 446.2)" font-size="18" text-anchor="end">0.26</text>
<text class="b" transform="matrix(0.838 -0.447 0.750 0.278 286.8 459.2)" font-size="18" text-anchor="end">0.25</text>
<text class="b" transform="matrix(0.838 -0.447 0.750 0.278 323.1 472.6)" font-size="18" text-anchor="end">0.24</text>
<text class="b" transform="matrix(0.891 0.330 -0.706 0.376 332.2 472)" font-size="18" text-anchor="start">6.0</text>
<text class="b" transform="matrix(0.891 0.330 -0.706 0.376 361.7 456.3)" font-size="18" text-anchor="start">6.5</text>
<text class="b" transform="matrix(0.891 0.330 -0.706 0.376 389.9 441.3)" font-size="18" text-anchor="start">7.0</text>
<text class="b" transform="matrix(0.891 0.330 -0.706 0.376 416.8 426.9)" font-size="18" text-anchor="start">7.5</text>
<text class="b" transform="matrix(0.891 0.330 -0.706 0.376 442.6 413.2)" font-size="18" text-anchor="start">8.0</text>
<text class="b" transform="matrix(0.891 0.330 -0.706 0.376 467.2 400.1)" font-size="18" text-anchor="start">8.5</text>
<text class="b" transform="matrix(0.891 0.330 -0.706 0.376 490.8 387.5)" font-size="18" text-anchor="start">9.0</text>
<text class="b" transform="matrix(0.891 0.330 -0.706 0.376 513.4 375.5)" font-size="18" text-anchor="start">9.5</text>
<text class="b" transform="matrix(0.891 0.330 -0.706 0.376 535.1 363.9)" font-size="18" text-anchor="start">10.0</text>
<path d="M71.5 341.8l-6.5 1.7M70.3 310.6l-6.5 1.7M69 279.1l-6.5 1.7M67.8 247.1l-6.5 1.7M66.5 214.8l-6.5 1.7M65.2 182.1l-6.5 1.7M63.9 149l-6.5 1.7M62.6 115.5l-6.5 1.7M61.3 81.7l-6.5 1.7M60 47.4l-6.5 1.7M72.7 372.6L67.4 375.5M100.6 383L95.3 385.8M129.4 393.7L124.1 396.5M159.3 404.7L154 407.6M190.4 416.3L185.1 419.1M222.6 428.2L217.3 431M256.1 440.6L250.8 443.4M291 453.5L285.7 456.4M327.3 467L322 469.8M327.3 467L332.9 469.1M356.8 451.3L362.5 453.3M385 436.2L390.6 438.3M411.9 421.9L417.5 424M437.7 408.2L443.3 410.3M462.3 395.1L467.9 397.2M485.9 382.5L491.5 384.6M508.5 370.5L514.1 372.5M530.2 358.9L535.8 361" stroke="#000" stroke-width="2" fill="none"/>
<text class="b" transform="matrix(0.938 0.348 -0.750 0.400 135.4 442.9)" font-size="19.2" text-anchor="middle"><tspan class="i">x</tspan><tspan font-size="13" dy="3">2</tspan><tspan dy="-3">: Backhoe Capacity</tspan></text>
<text class="b" transform="matrix(0.883 -0.470 0.938 0.348 499.7 433.9)" font-size="15.8" text-anchor="middle"><tspan class="i">x</tspan><tspan font-size="13" dy="3">1</tspan><tspan dy="-3">: Guide Cone Angle (°)</tspan></text>
<text class="b" transform="translate(9.5 65) rotate(87) scale(1.1 1)" font-size="20.5" word-spacing="2.5" text-anchor="start">y<tspan font-size="13.5" dy="4">2</tspan><tspan dy="-4">: Extrusion Temperature (°C)</tspan></text>
<path d="M99.1 1013L87.5 691.6M123 1003.9L113.1 687.4M146.2 995L137.9 683.4M168.6 986.5L161.8 679.6M190.4 978.2L185 675.9M211.4 970.1L207.4 672.2M231.9 962.3L229 668.8M251.7 954.8L250 665.4M271 947.4L270.4 662.1M316.7 947.9L318.6 662.5M344.5 955.8L348.1 666.2M373.3 963.9L378.5 670M402.9 972.3L410 674M433.5 980.9L442.5 678.1M465 989.8L476.1 682.3M497.6 999L510.9 686.7M72.2 970.8L289.7 895.4L533.8 958.3M70.1 918.1L289.8 849.8L536.3 907M67.8 864.2L289.9 803.3L538.9 854.7M65.6 809.3L290 756.1L541.5 801.3M63.3 753.2L290 707.9L544.2 746.9M74.3 1022.4L289.7 940.3L531.3 1008.5" fill="none" stroke="#111" stroke-width="1.25"/>
<path d="M74.3 1022.4L328.7 1117.3L531.3 1008.5L289.7 940.3Z" fill="#ffff00"/>
<path d="M74.3 1022.4L289.7 940.3L531.3 1008.5" fill="none" stroke="#222" stroke-width="1"/>
<path d="M295.4 1104.8l25.8 2.4l22.8 1.8" fill="none" stroke="#6e2896" stroke-width="1.8"/>
<path d="M258.6 1091.1l27.3 3.1l24.6 2.4l26.2 2.2l23.4 1.6" fill="none" stroke="#1e6ec8" stroke-width="1.8"/>
<path d="M216 1075.2l20.3 3l24 3.1l39.8 4.4l37.3 3.2l39.7 2.4" fill="none" stroke="#32dc78" stroke-width="1.8"/>
<path d="M160.4 1054.5l24.4 4.8l29.2 5l30.7 4.6l28.1 3.5l31.6 3.3l31.2 2.6l30.6 1.9l29.2 1.3" fill="none" stroke="#bef03c" stroke-width="1.8"/>
<path d="M80.7 1020l15.2 5.3l16.3 5l17.3 4.9l18.2 4.6l19.3 4.4l20.3 4.1l21.3 3.9l22.2 3.6l23.2 3.3l24.3 3l25.2 2.6l19.7 1.7l20.2 1.5l27.9 1.5l23.7 0.9l20.5 0.4" fill="none" stroke="#ffff30" stroke-width="1.8"/>
<path d="M101.9 1011.9l14.8 5.3l18.3 5.7l19.1 5.2l18.4 4.5l19.4 4.2l20.5 3.9l21.5 3.6l22.5 3.4l17.6 2.2l24.4 2.7l23.2 2.1l22.6 1.6l21.3 1.1l27.5 0.9l22.3 0.2l23.3-0.2" fill="none" stroke="#ffa000" stroke-width="1.8"/>
<path d="M125.5 1002.9l14.3 5.3l15.5 5l16.7 4.7l22.5 5.5l19.3 4.1l23 4.2l24.5 3.7l23 2.9l22.3 2.4l23.2 1.9l23.9 1.4l27.2 1l22.5 0.2l21.1-0.2l23.4-1l19.7-1.3" fill="none" stroke="#ff5000" stroke-width="1.8"/>
<path d="M153.3 992.3l6.4 2.8l10.4 4l19.2 6.2l21.3 5.6l13.8 3.1l14.5 2.8l25.7 4.3l28.9 3.8l28.8 2.7l17.1 1.2l15.1 0.7l27.7 0.7l28.6-0.4l25.6-1.4l22.4-2.1l11.7-1.6l10.8-1.8l9.9-2l9.2-2.3l8.3-2.4l7.4-2.6l6.5-2.9l5.7-3" fill="none" stroke="#e61400" stroke-width="1.8"/>
<path d="M190.4 978.1l5.2 3.2l5.7 3l6.4 2.7l6.9 2.7l15.2 4.8l12.5 3.3l8.9 2l19.1 3.7l14.1 2.2l11.9 1.6l22.8 2.3l23.4 1.5l21.4 0.5l20.8-0.2l20.9-1.2l18.1-2l16.3-2.8l8.2-2l7.9-2.4l6.7-2.7l3-1.5l4.7-3l2.1-1.8" fill="none" stroke="#aa0000" stroke-width="1.8"/>
<path d="M60.9 695.8L290.1 658.9L546.9 691.3M74.3 1022.4L60.9 695.8M289.7 940.3L290.1 658.9M531.3 1008.5L546.9 691.3" fill="none" stroke="#000" stroke-width="2.8" stroke-linejoin="miter"/>
<path d="M74.3 1022.4L328.7 1117.3L531.3 1008.5" fill="none" stroke="#000" stroke-width="3" stroke-linejoin="miter"/>
<clipPath id="scc"><path d="M65.9 816.1l17.2 4.5l14.6 4.1l14.9 4.5l15.2 4.8l15.5 5.2l15.8 5.6l16.1 6l16.4 6.4l16.7 6.8l17 7.3l17.3 7.6l17.7 8.1l18 8.6l18.3 9.1l18.7 9.5l15.2 8l12.6-11.6l15.3-13.7l15-12.8l14.7-12l11.5-9l14.1-10.6l13.7-9.9l13.5-9.1l13.1-8.3l12.9-7.7l12.5-7l14.7-7.6l11.9-5.6l11.7-4.9l11.4-4.4l13.3-4.5l-14.2-4.6l-17.5-5.3l-17.2-5l-17-4.7l-16.6-4.4l-16.5-4l-16.1-3.7l-15.9-3.3l-15.7-3.1l-15.4-2.8l-15.2-2.5l-14.9-2.2l-14.7-1.9l-14.5-1.6l-14.2-1.4l-16.8-1.3l-14.6 1.6l-12.3 1.9l-12.7 2.3l-12.8 2.9l-15.8 4l-13.4 4l-13.7 4.5l-13.9 5.1l-14.2 5.6l-14.5 6.2l-14.7 6.8l-12 5.9l-15.3 8l-15.5 8.5l-15.9 9.3l-12.8 7.8z"/></clipPath>
<g stroke-width="0.6" stroke-linejoin="round" fill-rule="evenodd" clip-path="url(#scc)"><path d="M324.5 919l6 3.2l2.8-2.7l-8.8-0.5z" fill="#0009ff" stroke="#0009ff"/><path d="M318.5 915.8l6 3.2l3.2 0.2l5.6 0.3l2.9-2.6l-17.7-1.1z" fill="#001bff" stroke="#001bff"/><path d="M312.4 912.6l6.1 3.2l9.9 0.6l7.8 0.5l2.8-2.6l-26.6-1.7z" fill="#002eff" stroke="#002eff"/><path d="M306.1 909.4l6.3 3.2l9.9 0.7l16.7 1l2.9-2.7l-35.8-2.2z" fill="#0040ff" stroke="#0040ff"/><path d="M299.8 906.2l6.3 3.2l19 1.3l16.8 0.9l2.9-2.6l-45-2.8z" fill="#0052ff" stroke="#0052ff"/><path d="M293.3 903l6.5 3.2l20.1 1.4l24.9 1.4l2.9-2.6l-54.4-3.4z" fill="#0064ff" stroke="#0064ff"/><path d="M286.8 899.7l6.5 3.3l26.5 1.8l27.9 1.6l3-2.7l-63.9-4z" fill="#0076ff" stroke="#0076ff"/><path d="M280.1 896.5l6.7 3.2l30.5 2.1l33.4 1.9l2.9-2.6l-33.4-1.8l-40.1-2.8z" fill="#0089ff" stroke="#0089ff"/><path d="M273.2 893.2l6.9 3.3l34.7 2.4l38.8 2.2l3-2.6l-42.2-2.4l-41.2-2.9z" fill="#009bff" stroke="#009bff"/><path d="M266.2 889.8l7 3.4l41.2 2.9l42.2 2.4l3.1-2.7l-44.4-2.4l-49.1-3.6z" fill="#00adff" stroke="#00adff"/><path d="M259.1 886.5l7.1 3.3l43.7 3.2l49.8 2.8l3-2.6l-51.5-2.8l-52.1-3.9z" fill="#00bfff" stroke="#00bfff"/><path d="M251.8 883.1l7.3 3.4l52.1 3.9l51.5 2.8l3.1-2.7l-60.6-3.3l-53.4-4.1z" fill="#00d1ff" stroke="#00d1ff"/><path d="M244.2 879.6l7.6 3.5l53.4 4.1l60.6 3.3l3.2-2.7l-61.3-3.2l-30.7-2.2l-32.8-2.8z" fill="#00e4ff" stroke="#00e4ff"/><path d="M236.5 876.2l7.7 3.4l32.8 2.8l30.7 2.2l61.3 3.2l3.1-2.6l-33.6-1.6l-37.6-2.2l-31.2-2.3l-33.2-2.9z" fill="#00f6ff" stroke="#00f6ff"/><path d="M228.4 872.6l8.1 3.6l33.2 2.9l31.2 2.3l37.6 2.2l33.6 1.6l3.2-2.7l-33.7-1.5l-37.7-2.2l-41-3.1l-34.5-3.1z" fill="#00fff6" stroke="#00fff6"/><path d="M220.1 869l8.3 3.6l34.5 3.1l41 3.1l37.7 2.2l33.7 1.5l3.3-2.7l-42.8-1.9l-38.9-2.4l-40.8-3.1l-36-3.4z" fill="#00ffe4" stroke="#00ffe4"/><path d="M211.5 865.4l8.6 3.6l36 3.4l40.5 3.1l39.2 2.4l42.8 1.9l3.2-2.7l-43.3-1.8l-38.8-2.3l-41.8-3.2l-46.4-4.4z" fill="#00ffd1" stroke="#00ffd1"/><path d="M202.4 861.6l9.1 3.8l38 3.6l40.2 3.3l47.3 2.9l44.8 1.9l3.4-2.7l-44.9-1.8l-47.7-2.9l-44.8-3.6l-45.4-4.5z" fill="#00ffbf" stroke="#00ffbf"/><path d="M192.9 857.8l9.5 3.8l45.4 4.5l44.8 3.6l47.7 2.9l44.9 1.8l3.3-2.7l-54.4-2.2l-48.5-3.1l-44.2-3.6l-48.5-5z" fill="#00ffad" stroke="#00ffad"/><path d="M182.9 853.8l10 4l48.5 5l44.2 3.6l48.5 3.1l54.4 2.2l3.5-2.7l-55.5-2.2l-48.7-3l-52.7-4.4l-52.2-5.6z" fill="#00ff9b" stroke="#00ff9b"/><path d="M172.1 849.6l10.8 4.2l47.6 5.2l48.3 4.1l57.2 3.7l56 2.2l3.4-2.7l-56.7-2.2l-58.6-3.7l-55.6-4.8l-52.4-6z" fill="#00ff89" stroke="#00ff89"/><path d="M160.3 845.3l11.8 4.3l52.4 6l52.5 4.6l57 3.7l56.9 2.3l4.5 0.1l3.5-2.8l-31.5-0.9l-30.1-1.4l-31.6-1.8l-30.3-2.1l-29-2.4l-31.4-3.1l-27.1-3l-27.6-3.5z" fill="#00ff76" stroke="#00ff76"/><path d="M147.3 840.6l13 4.7l2.5 0.3l51.3 6.1l56.4 5.2l61.1 4l52.7 2.2l14.6 0.4l3.6-2.7l-33.3-1l-33.8-1.5l-30.3-1.7l-31.3-2.2l-33.5-2.9l-31.8-3.2l-30-3.5l-31.2-4.2z" fill="#00ff64" stroke="#00ff64"/><path d="M132.3 835.5l15 5.1l10.8 1.5l50.4 6.2l55.5 5.3l60.3 4.2l60.9 2.5l17.3 0.5l3.7-2.8l-35.4-0.9l-35.2-1.6l-38.2-2.2l-31.1-2.3l-36.5-3.3l-35.1-3.7l-29.3-3.7l-33.1-4.8z" fill="#00ff52" stroke="#00ff52"/><path d="M113.7 829.5l18.6 6l17.3 2.6l49.2 6.3l54.2 5.5l54.3 4.1l31.6 1.7l32.9 1.4l34.4 0.9l3.7-2.8l-37.6-0.9l-35.3-1.5l-37.6-2.2l-43-3.2l-36.7-3.5l-38.7-4.4l-35.7-4.9l-31.6-5.1z" fill="#00ff40" stroke="#00ff40"/><path d="M84.1 820.9l29.6 8.6l13 2.2l26.3 4l28 3.8l53.8 5.9l33.7 3l30.9 2.2l32.3 1.9l32.1 1.5l46.1 1.2l3.8-2.7l-40.3-1l-48.7-2.1l-43.6-2.8l-44.5-3.8l-39.6-4.2l-42.2-5.5l-38.9-6.1l-31.8-6.1z" fill="#00ff2e" stroke="#00ff2e"/><path d="M65.9 816.1l18.2 4.8l5.2 1.1l23.2 4.4l25 4.2l47 6.5l52.1 5.7l32.9 2.9l31.8 2.3l28.7 1.6l35.3 1.6l48.4 1.3l3.9-2.9l-42.7-0.9l-46.6-2l-45.6-2.8l-43.6-3.7l-51.2-5.5l-43.2-5.9l-38.8-6.6l-19.3-3.8l-17.9-4l-2.8 1.7z" fill="#00ff1b" stroke="#00ff1b"/><path d="M69.1 814.1l-0.4 0.3l8.8 2l21.8 4.5l20.2 3.8l25.2 4.1l43.2 5.9l52.2 5.6l32.4 2.8l30.1 2.1l31 1.8l33 1.4l51 1.2l3.9-2.8l-45.5-0.9l-43.2-1.7l-46.6-2.9l-42.6-3.5l-52.2-5.5l-43.2-5.9l-38.7-6.5l-19.3-3.8l-17.8-4l-3.3 2z" fill="#00ff09" stroke="#00ff09"/><path d="M75.5 810.2l-3.1 1.9l24.1 5.3l30 5.5l25.5 4.1l23.2 3.2l28.8 3.5l30.6 3.3l28.9 2.6l32.6 2.4l30.6 1.8l32.6 1.5l32.9 1l29.3 0.5l4.1-2.9l-46.4-0.8l-45.1-1.7l-49.1-3l-46.9-3.9l-46.8-5.1l-39.5-5.4l-35.4-5.8l-22.5-4.4l-17.7-4l-0.7 0.4z" fill="#09ff00" stroke="#09ff00"/><path d="M78.7 808.3l-2.5 1.5l2.8 0.7l27.6 5.8l30.6 5.5l25.9 3.9l27.8 3.7l51.7 5.5l32.7 2.8l29.5 2l30.9 1.8l33.1 1.3l56.8 1.1l4.1-2.8l-46.6-0.7l-47.9-1.8l-46.6-2.8l-44.5-3.6l-41.4-4.3l-41.8-5.4l-23.6-3.7l-20.5-3.6l-19.1-3.7l-17.7-4l-1.3 0.8z" fill="#1bff00" stroke="#1bff00"/><path d="M81.9 806.4l-1.9 1.1l11.6 2.7l25.2 5l27.6 4.8l22.3 3.3l27.8 3.6l51.8 5.5l30.9 2.6l31.3 2.1l35.6 1.9l27.8 1.1l29.5 0.7l28.3 0.3l4.3-3l-47.6-0.5l-48.4-1.7l-49.3-2.9l-43.3-3.5l-39-4l-39.8-5.1l-25.6-3.9l-20.5-3.6l-19-3.8l-17.6-3.9l-2 1.2z" fill="#2eff00" stroke="#2eff00"/><path d="M85.1 804.5l-1.2 0.7l23.8 5.2l22.9 4.3l24.8 4l22.7 3.3l28.3 3.5l50.4 5l30.7 2.4l30.4 2l35.7 1.7l27.9 0.9l52.5 0.6l4.4-2.9l-43.9-0.3l-47.3-1.5l-46.1-2.4l-43.2-3.2l-39.4-3.9l-40.5-4.9l-22.5-3.2l-24.5-4.1l-22.6-4.2l-20.6-4.6l-2.7 1.6z" fill="#40ff00" stroke="#40ff00"/><path d="M88.3 802.6l-0.5 0.3l8.6 2l21.5 4.4l23.4 4.2l21.5 3.4l47.3 6.1l52.8 5.2l28.4 2.1l35 2.2l28 1.2l32.5 1l51.6 0.5l4.5-3l-41.7-0.1l-46.4-1.2l-44.8-2.2l-47.9-3.5l-52.4-5.1l-43.1-5.6l-38.4-6.3l-18.9-3.7l-17.4-3.9l-3.6 2z" fill="#52ff00" stroke="#52ff00"/><path d="M94.6 799l-2.7 1.6l5.6 1.3l24.3 5.1l30.3 5.3l25.8 3.8l23.7 3l29.3 3.3l27.8 2.6l31.6 2.4l29.7 1.9l34.8 1.6l32.3 0.9l29.8 0.4l26 0l4.7-3l-45.4 0l-47.1-1.2l-46.1-2.2l-49.7-3.7l-41.6-4l-39.7-5l-22-3.2l-20.6-3.5l-22.1-4.3l-17.3-3.9l-1.4 0.8z" fill="#64ff00" stroke="#64ff00"/><path d="M97.7 797.3l-1.7 0.9l17.3 3.9l22.1 4.3l27.8 4.6l26.3 3.7l24.1 2.9l25.5 2.7l31.2 2.8l28.8 2l30 1.8l34.3 1.4l31.4 0.8l52.8 0.1l4.9-3.1l-43.3 0.2l-45.8-0.9l-45.4-2l-48.1-3.3l-44.1-4.1l-36.3-4.3l-26-3.7l-24-4l-19.1-3.6l-20.2-4.5l-2.5 1.4z" fill="#76ff00" stroke="#76ff00"/><path d="M100.8 795.5l-0.6 0.4l5.5 1.3l24 5l23.3 4.2l25.1 3.8l47.7 5.8l26 2.6l27.4 2.3l31.7 2.1l27.5 1.4l33.1 1.2l30.5 0.6l50.5-0.1l5.2-3.2l-41.9 0.5l-44.5-0.7l-49.1-2l-43.6-2.8l-48.8-4.4l-24.5-2.7l-23.1-3.1l-21.7-3.2l-20.2-3.4l-18.7-3.7l-17.2-3.9l-3.6 2z" fill="#89ff00" stroke="#89ff00"/><path d="M107 792.1l-2.6 1.4l8.4 2l24.3 5l30.4 5.1l26 3.7l23.9 2.9l29.6 3l26.9 2.4l28.5 2l35.8 1.9l33.1 1.2l30.3 0.6l27.9 0l28.2-0.4l5.3-3.2l-47.9 0.7l-44.2-0.7l-49.5-1.9l-43.3-2.8l-44.2-4l-41.5-4.9l-20.8-2.9l-23.9-4l-21.9-4.2l-17-3.8l-1.8 0.9z" fill="#9bff00" stroke="#9bff00"/><path d="M110.1 790.5l-1.3 0.7l23.1 5l22.4 4.2l24.6 3.9l26.5 3.5l24.3 2.8l25.8 2.5l27.2 2.2l28.8 1.9l35 1.7l32.2 1l29.4 0.5l27.1-0.1l27.8-0.6l5.7-3.3l-41.2 0.9l-49-0.3l-47.7-1.7l-43.9-2.6l-40.3-3.4l-41-4.5l-26.2-3.5l-24.2-3.9l-22-4.2l-19.9-4.4l-3.2 1.7z" fill="#adff00" stroke="#adff00"/><path d="M115.2 789.2l18 4l18.8 3.6l20.3 3.4l25.6 3.6l23.6 2.9l25.1 2.6l26.5 2.4l27.8 2l29.9 1.6l31.6 1.2l30.6 0.7l27.9 0.2l47.8-1l6.1-3.4l-42.1 1.2l-40.7 0l-46.4-1.2l-45.3-2.3l-27.4-2l-26.4-2.3l-24.8-2.7l-23.3-2.8l-25.3-3.7l-20-3.4l-18.4-3.6l-16.8-3.9l-4.6 2.5l1.9 0.4z" fill="#bfff00" stroke="#bfff00"/><path d="M119.3 785.6l-1.4 0.7l25.8 5.7l22.6 4.1l24.7 3.7l26.7 3.5l28.4 3l26.8 2.4l27.4 2l29.9 1.6l31.4 1.3l30.4 0.6l31.8 0.1l27.3-0.5l23.7-0.8l6.7-3.6l-20.6 1l-23.6 0.6l-43.4 0.2l-48.8-1.2l-45.8-2.4l-44.1-3.4l-41-4.4l-26.1-3.5l-24.1-3.8l-21.8-4.1l-19.6-4.5l-3.3 1.7z" fill="#d1ff00" stroke="#d1ff00"/><path d="M126.8 784.9l18.4 4.1l18.8 3.5l20.5 3.3l22.1 3l23.5 2.8l26.5 2.7l25.2 2.1l28.2 1.9l34.3 1.7l27.4 0.8l33.1 0.5l26.3-0.2l24.1-0.5l26.3-1.2l7.3-3.8l-19.3 1.1l-22.2 0.9l-42.3 0.6l-45.8-0.7l-44.5-1.9l-28.3-1.9l-26.7-2.1l-25.1-2.5l-23.6-2.8l-22-3l-23.6-3.8l-21.4-4.2l-16.5-3.9l-4.9 2.5l4.2 1z" fill="#e4ff00" stroke="#e4ff00"/><path d="M128.4 781l-0.9 0.4l5.3 1.4l26.2 5.5l23.1 3.9l25.2 3.6l23.2 2.8l29.2 3l28.2 2.2l29 1.9l33 1.5l32.1 0.8l28.8 0.2l30.6-0.4l22.7-0.8l24.7-1.4l8.3-4.1l-20 1.5l-20.9 1.1l-41.7 0.9l-49.1-0.4l-50.2-2l-46.6-3.3l-41.4-4.1l-30-3.9l-23.9-3.8l-21.6-4.1l-19.2-4.4l-4.1 2z" fill="#f6ff00" stroke="#f6ff00"/><path d="M134.4 778.1l-1.9 0.9l25.1 5.6l25.7 4.6l24.8 3.6l27 3.3l29.2 2.8l31.4 2.5l28.6 1.6l33.3 1.4l29.9 0.6l33.4 0l29.7-0.7l26.5-1.3l20-1.5l10.1-4.7l-19.1 1.9l-19.1 1.4l-21 1l-23.3 0.6l-25.5 0.2l-28.3-0.3l-48.6-1.7l-48.9-3.3l-41.5-4l-29.9-3.9l-23.8-3.7l-21.5-4.1l-19-4.5l-3.3 1.7z" fill="#fff600" stroke="#fff600"/><path d="M141.3 777.3l18.3 4.2l21.8 4l24.2 3.7l26.3 3.4l28.6 2.9l26.3 2.2l27.9 1.8l33 1.5l30.6 0.8l34 0.1l30.1-0.6l26.6-1.2l19.1-1.4l19.1-1.9l14.6-6.1l-16.8 2.6l-16.3 1.7l-19.3 1.6l-24.4 1.3l-23 0.6l-25.3 0.2l-25.6-0.2l-25.7-0.7l-25.6-1.1l-32.6-2.1l-29.3-2.5l-27.2-2.9l-23.8-3l-23.7-3.8l-21.3-4.1l-18.7-4.4l-5.5 2.5l3.6 0.9z" fill="#ffe400" stroke="#ffe400"/><path d="M143.3 773.8l18.6 4.5l21.3 4.1l27.3 4.3l26.3 3.2l32.9 3.3l31.2 2.4l28.7 1.5l31.5 1.2l28.8 0.4l32.1-0.2l28.3-0.9l29.6-1.8l21.2-2.1l20.7-3l20.6-7.2l-4.9-1.6l-11.7 3.4l-18.4 3.5l-22.8 2.9l-22.6 1.8l-25.8 1.3l-23.3 0.6l-25.8 0.1l-26.3-0.4l-26.5-0.9l-28.2-1.4l-27-2l-25.3-2.2l-31-3.6l-27.9-4.1l-24.8-4.5l-21.3-5.1l-5.5 2.5z" fill="#ffd100" stroke="#ffd100"/><path d="M149.2 771.1l-0.4 0.2l2.5 0.6l13.2 3.2l20.7 4.2l23.3 3.7l29.5 3.8l28.3 2.9l30.6 2.5l28.9 1.6l32.5 1.2l28.8 0.5l25.8-0.1l28.7-0.8l25.2-1.4l21.9-1.9l18.7-2.5l18.4-3.5l11.7-3.4l-9.2-2.9l-6.4 2.1l-7.7 2l-19 3.3l-23.7 2.7l-23.3 1.7l-21.2 0.9l-23.7 0.5l-25.7 0l-22.5-0.5l-24.3-0.8l-26.8-1.5l-44.9-3.6l-31-3.5l-27.8-4l-24.6-4.6l-20.9-5.1l-5.6 2.5z" fill="#ffbf00" stroke="#ffbf00"/><path d="M155 768.5l15.1 4l20.5 4.1l23.2 3.8l25.6 3.3l28 2.9l26.7 2.2l28.3 1.7l32.7 1.2l28.8 0.5l28.4-0.2l25.6-0.7l24.7-1.4l21.3-2l18.2-2.5l14.8-3l11.4-3.4l-9.6-3l-6.2 2.1l-7.6 2l-18.8 3.4l-23.7 2.6l-23.6 1.6l-39.3 1.1l-26.2 0l-21.9-0.4l-24.3-0.9l-23.7-1.4l-24.9-1.8l-21.9-2l-30.2-3.6l-23.8-3.6l-23.8-4.7l-17.7-4.5l-6.1 2.6z" fill="#ffad00" stroke="#ffad00"/><path d="M162.3 766.3l16.5 4.1l17.5 3.6l23 3.7l21.7 2.8l25.7 2.8l27.7 2.2l27.7 1.7l29.8 1.2l28.2 0.5l25.5-0.1l22.8-0.7l25-1.3l21.4-1.9l18.1-2.5l14.7-2.9l11.1-3.5l-10.2-3.1l-8.2 2.9l-13.8 3l-17.3 2.5l-20.9 2l-19.3 1.2l-25.6 0.8l-27.5 0.1l-22.6-0.3l-29.8-1.1l-27.6-1.7l-25.5-2.1l-26.3-2.8l-22.4-3l-22.4-3.7l-16.9-3.6l-14.6-4l-6.7 2.8l1.2 0.4z" fill="#ff9b00" stroke="#ff9b00"/><path d="M172.9 764.6l14.8 3.7l17.7 3.5l19.7 3.1l25.5 3.3l23.9 2.4l29.5 2.3l26.9 1.4l23.7 0.8l27.9 0.4l24.6-0.3l21.9-0.7l23.8-1.5l16.4-1.7l17.3-2.5l13.8-3l8.2-2.9l-10.8-3.1l-7.8 2.8l-13.5 3.1l-13.5 2l-20.3 2.1l-19 1.2l-23.9 0.8l-23.2 0.2l-26.6-0.4l-24.7-1l-27.5-1.6l-25.3-2.1l-24.8-2.6l-23.1-3.2l-18.8-3.3l-16.6-3.6l-14.1-4l-7.2 2.9l5.1 1.5z" fill="#ff8900" stroke="#ff8900"/><path d="M186.4 763.6l13.5 3.1l18.1 3.4l20.3 3l22.2 2.7l24.3 2.2l22.6 1.7l26.4 1.3l23.1 0.7l27.1 0.3l21.8-0.4l22.8-0.9l18.4-1.3l19.5-2.1l12.9-2.2l10.5-2.5l7.8-2.8l-11.6-3.3l-7.4 2.9l-10.1 2.5l-12.8 2.1l-15.4 1.8l-17.9 1.3l-20.6 0.9l-22.8 0.3l-21.8-0.1l-29.9-1l-27.4-1.5l-25.1-2.1l-23-2.5l-24.1-3.4l-18.2-3.3l-15.7-3.8l-10.9-3.5l-8 3.1l11.4 3.4z" fill="#ff7600" stroke="#ff7600"/><path d="M209.3 764.3l15.3 2.9l16.7 2.5l18.1 2.3l19.5 2l21.1 1.7l22.6 1.3l20.9 0.8l24.5 0.5l22.5-0.1l16.8-0.4l19.9-1l17.3-1.4l14.7-1.9l12.2-2.2l9.5-2.6l5.2-2.2l-12.8-3.5l-2.9 1.6l-3.7 1.4l-4.6 1.3l-8.1 1.8l-17.1 2.5l-16.8 1.5l-19.6 1l-22.7 0.5l-26.5-0.2l-23.2-0.8l-20.9-1.1l-21.2-1.6l-22.3-2.3l-18.8-2.4l-19.2-3.1l-14-3l-12-3.3l-7.8-2.9l-8.9 3.2l10.9 3.5l15.4 3.7z" fill="#ff6400" stroke="#ff6400"/><path d="M208.3 759.3l14.5 3.2l15.4 2.7l17.1 2.4l18.7 2.1l20.3 1.8l21.9 1.5l20 0.9l22.1 0.6l19.5 0.1l22.7-0.5l15-0.7l17.4-1.4l14.8-1.8l11.9-2.2l9-2.7l4.7-2.3l-14.4-3.7l-3.8 2.4l-8.4 2.7l-11.7 2.3l-10.7 1.3l-17 1.5l-14.7 0.7l-16.7 0.4l-19 0l-23.2-0.6l-27.4-1.4l-24.7-2.1l-22.2-2.5l-19.6-3l-17-3.5l-13.1-3.8l-4.2-1.8l-3.1-1.6l-10.5 3.6l7.8 2.9l8.6 2.5zM287.6 731.9l7.1 0.1l-4.7-0.3l-2.4 0.2z" fill="#ff5200" stroke="#ff5200"/><path d="M219 756.5l11.9 2.8l15.1 2.7l13.4 2l18.4 2.1l20 1.8l20.6 1.4l38.5 1.3l19 0l16.7-0.4l14.7-0.7l17-1.5l10.7-1.3l11.7-2.3l8.4-2.7l3.8-2.4l-16.9-4.1l-1.3 1.8l-2.6 1.6l-3.8 1.4l-4.7 1.3l-12.1 2.1l-15.5 1.6l-19 1l-18.5 0.4l-25-0.3l-19.8-0.9l-21.4-1.4l-17.8-1.7l-15.9-1.9l-15.9-2.6l-13.8-2.9l-9.1-2.7l-6.8-3.2l-2.2-1.7l-0.7-1l-13.7 4.2l6.7 3.2l9.9 3zM275.4 733.3l33.8-0.1l-14.5-1.2l-5.5 0l-2.9 0l-10.9 1.3z" fill="#ff4000" stroke="#ff4000"/><path d="M237.8 755.4l10.9 2.2l12.6 2.1l17.5 2.2l15 1.5l30.4 2.1l35.8 0.9l17.6-0.2l15.3-0.6l13.3-1l11.3-1.2l9.4-1.6l7.4-1.8l5.2-2.2l2-1.7l0.5-0.9l-21.9-4.9l0.7 1.1l0 1l-0.4 0.9l-2.1 1.7l-3.5 1.4l-7.5 1.8l-9.9 1.5l-12.1 1.1l-25.7 0.9l-19.4-0.2l-24.3-1l-23.3-1.9l-21.1-2.6l-17.7-3.3l-11.3-3.4l-3.4-1.6l-2.2-1.8l-0.6-0.8l-0.1-1.1l0.4-0.9l0.9-0.9l4.7-2.2l7.2-1.8l9.1-1.4l11-1.1l12.7-0.7l14.9-0.3l31.6 0.5l-19.5-2l-11.9-0.1l-23.3 0.4l-8.4 1.3l-12.6 2.2l-12.8 2.7l-24.1 6.4l0.7 1l1.6 1.4l3.7 2l5.8 2.2l9.9 2.7z" fill="#ff2e00" stroke="#ff2e00"/><path d="M252.1 752.3l10.1 2.1l9.3 1.6l24.9 3l29.5 2l29.8 0.7l25-0.7l12.9-0.9l10.7-1.4l8.3-1.7l4.1-1.3l2.8-1.5l1-0.9l0.3-1.5l-0.7-1.5l-11.9-2.5l-24.8-4.7l-27.3-4.3l-27.4-3.6l-26.1-0.6l-20.4 0.4l-16.6 1.1l-13.4 1.6l-10 2.3l-3.5 1.4l-2.1 1.7l-0.4 0.9l0.1 1.1l0.6 0.8l2.2 1.8l3.4 1.6l9.6 3zM276 749.9l-7.2-1.9l-2.2-0.9l-2.8-1.5l-1-1.2l0-1.1l0.8-0.8l1.3-0.8l6.4-2l9.3-1.3l12-0.9l14.9-0.4l13.6 0.1l16.9 0.8l15.1 1.2l13.5 1.6l11.9 2.1l7.6 1.9l5.7 2.5l1.3 1.2l0.3 1l-0.6 0.9l-1 0.8l-1.6 0.8l-4.4 1.3l-5.9 1l-16.1 1.4l-16 0.4l-20.8-0.4l-19.3-1.3l-16.6-1.8l-15.1-2.7z" fill="#ff1b00" stroke="#ff1b00"/><path d="M274.6 749.6l16.5 3l16.6 1.8l19.3 1.3l20.8 0.4l16-0.4l16.1-1.4l5.9-1l4.4-1.3l1.6-0.8l1-0.8l0.6-0.9l-0.3-1l-1.3-1.2l-5.7-2.5l-7.6-1.9l-11.9-2.1l-13.5-1.6l-15.1-1.2l-16.9-0.8l-13.6-0.1l-14.9 0.4l-11.7 0.8l-9.6 1.4l-4.7 1.2l-2.3 1.1l-1.5 1.3l0 1.1l1 1.2l3 1.6l7.8 2.4z" fill="#ff0900" stroke="#ff0900"/></g>
<path d="M65.9 816.1L78.7 808.3L91.4 800.8L103.9 793.8L116.2 787.2L128.4 781L140.3 775.2L152.1 769.8L163.7 764.8L175.1 760.2L186.4 755.9L197.5 752L208.4 748.4L219.2 745.2L229.7 742.3L240.2 739.7L250.4 737.5L260.6 735.6L270.5 734L280.3 732.7L290 731.7M65.9 816.1L77.3 819.1L88.9 822.2L100.7 825.6L112.6 829.2L124.8 833L137.1 837.1L149.6 841.4L162.3 846L175.2 850.8L188.3 855.9L201.6 861.2L215 866.9L228.7 872.8L242.6 878.9L256.7 885.4L271.1 892.1L285.6 899.2L300.3 906.5L315.3 914.2L330.5 922.2M71.6 817.6L84.4 809.6L97.1 802.1L109.6 795L121.9 788.4L134.1 782.1L146 776.3L157.8 770.8L169.4 765.7L180.8 761L192.1 756.7L203.1 752.7L214 749.1L224.8 745.9L235.4 742.9L245.8 740.3L256.1 738.1L266.2 736.1L276.1 734.5L285.9 733.1L295.6 732.1M72.3 812.2L83.8 815L95.4 818.1L107.1 821.4L119.1 824.9L131.2 828.7L143.6 832.7L156.1 836.9L168.7 841.4L181.6 846.1L194.7 851.1L208 856.3L221.5 861.9L235.1 867.7L249 873.7L263.1 880.1L277.4 886.7L291.9 893.7L306.7 900.9L321.6 908.4L336.8 916.3M77.3 819.1L90.2 811.1L102.9 803.5L115.4 796.3L127.7 789.6L139.8 783.3L151.7 777.3L163.5 771.8L175.1 766.7L186.5 761.9L197.8 757.6L208.8 753.5L219.7 749.9L230.5 746.6L241 743.6L251.4 741L261.7 738.7L271.8 736.7L281.7 735L291.5 733.6L301.1 732.5M78.7 808.3L90.2 811.1L101.8 814.1L113.6 817.3L125.5 820.7L137.6 824.4L150 828.3L162.5 832.5L175.1 836.9L188 841.5L201.1 846.4L214.3 851.6L227.8 857L241.5 862.7L255.3 868.7L269.4 874.9L283.7 881.5L298.2 888.3L312.9 895.4L327.9 902.8L343.1 910.6M83.1 820.6L96 812.5L108.6 804.9L121.1 797.6L133.4 790.8L145.6 784.5L157.5 778.5L169.3 772.9L180.8 767.7L192.3 762.9L203.5 758.5L214.6 754.4L225.4 750.7L236.2 747.3L246.7 744.3L257.1 741.6L267.4 739.3L277.5 737.2L287.4 735.5L297.2 734.1L306.8 733M85.1 804.5L96.5 807.2L108.1 810.1L119.9 813.3L131.9 816.7L144 820.2L156.3 824.1L168.8 828.2L181.5 832.5L194.3 837L207.4 841.8L220.7 846.9L234.1 852.2L247.8 857.8L261.6 863.7L275.7 869.9L290 876.3L304.5 883L319.2 890.1L334.1 897.4L349.2 905M88.9 822.2L101.8 814.1L114.5 806.3L127 799L139.3 792.2L151.4 785.7L163.3 779.7L175.1 774L186.6 768.8L198 763.9L209.3 759.4L220.3 755.3L231.2 751.6L241.9 748.1L252.5 745.1L262.9 742.4L273.1 740L283.2 737.9L293.1 736.1L302.8 734.7L312.4 733.5M91.4 800.8L102.9 803.5L114.5 806.3L126.2 809.4L138.2 812.7L150.3 816.2L162.6 820L175.1 824L187.8 828.2L200.6 832.7L213.7 837.4L226.9 842.4L240.4 847.6L254 853.1L267.9 858.9L281.9 865L296.2 871.3L310.6 877.9L325.3 884.8L340.2 892.1L355.4 899.6M94.8 823.9L107.6 815.6L120.3 807.8L132.8 800.5L145.1 793.5L157.2 787L169.2 780.9L180.9 775.2L192.5 769.9L203.9 765L215.1 760.4L226.1 756.3L237 752.5L247.7 749L258.3 745.9L268.6 743.1L278.9 740.7L288.9 738.6L298.8 736.8L308.6 735.3L318.2 734.1M97.7 797.3L109.1 799.8L120.7 802.6L132.5 805.6L144.4 808.8L156.6 812.3L168.9 816L181.3 819.9L194 824L206.9 828.4L219.9 833.1L233.1 838L246.6 843.1L260.2 848.5L274 854.2L288.1 860.2L302.3 866.4L316.8 872.9L331.4 879.8L346.3 886.9L361.4 894.3M100.7 825.6L113.6 817.3L126.2 809.4L138.7 802L151 795L163.1 788.4L175 782.2L186.8 776.4L198.4 771.1L209.7 766.1L220.9 761.5L232 757.3L242.9 753.4L253.5 749.9L264.1 746.7L274.4 743.9L284.7 741.4L294.7 739.3L304.6 737.4L314.3 735.9L323.9 734.7M103.9 793.8L115.4 796.3L127 799L138.7 802L150.7 805.1L162.8 808.5L175.1 812.1L187.5 815.9L200.2 820L213 824.3L226.1 828.9L239.3 833.7L252.7 838.7L266.3 844.1L280.2 849.7L294.2 855.5L308.4 861.7L322.8 868.1L337.5 874.8L352.4 881.8L367.4 889.1M106.6 827.4L119.5 819L132.2 811L144.7 803.5L157 796.4L169.1 789.8L181 783.6L192.7 777.7L204.3 772.3L215.6 767.3L226.8 762.6L237.9 758.3L248.7 754.4L259.4 750.9L269.9 747.7L280.3 744.8L290.5 742.3L300.5 740.1L310.4 738.2L320.1 736.6L329.7 735.3M110.1 790.5L121.5 792.9L133.1 795.5L144.9 798.4L156.8 801.5L168.9 804.8L181.2 808.3L193.7 812.1L206.3 816.1L219.2 820.3L232.2 824.8L245.4 829.5L258.8 834.5L272.4 839.7L286.2 845.2L300.2 851L314.4 857L328.9 863.4L343.5 870L358.3 876.9L373.4 884.1M112.6 829.2L125.5 820.7L138.2 812.7L150.7 805.1L162.9 798L175 791.3L186.9 785L198.7 779.1L210.2 773.6L221.6 768.5L232.8 763.8L243.8 759.4L254.6 755.5L265.3 751.9L275.8 748.6L286.2 745.7L296.4 743.1L306.4 740.9L316.2 738.9L325.9 737.3L335.5 736M116.2 787.2L127.7 789.6L139.3 792.2L151 795L162.9 798L175 801.2L187.3 804.7L199.8 808.3L212.4 812.2L225.2 816.4L238.3 820.8L251.5 825.4L264.9 830.3L278.5 835.5L292.2 840.9L306.2 846.6L320.4 852.5L334.8 858.8L349.4 865.3L364.3 872.1L379.3 879.2M118.7 831.1L131.6 822.5L144.2 814.4L156.7 806.8L169 799.6L181.1 792.8L193 786.4L204.7 780.5L216.2 774.9L227.6 769.7L238.8 765L249.8 760.6L260.6 756.6L271.3 752.9L281.8 749.6L292.1 746.6L302.3 744L312.3 741.7L322.1 739.8L331.8 738.1L341.3 736.8M122.3 784.1L133.8 786.4L145.3 788.9L157.1 791.6L169 794.6L181.1 797.7L193.4 801.1L205.8 804.7L218.5 808.5L231.3 812.6L244.3 816.9L257.5 821.5L270.9 826.3L284.4 831.4L298.2 836.7L312.2 842.3L326.4 848.2L340.7 854.3L355.3 860.7L370.1 867.4L385.2 874.4M124.8 833L137.6 824.4L150.3 816.2L162.8 808.5L175 801.2L187.1 794.3L199 787.9L210.7 781.9L222.3 776.3L233.6 771.1L244.8 766.2L255.8 761.8L266.6 757.7L277.3 754L287.7 750.6L298.1 747.6L308.2 745L318.2 742.6L328 740.6L337.7 738.9L347.2 737.5M128.4 781L139.8 783.3L151.4 785.7L163.1 788.4L175 791.3L187.1 794.3L199.4 797.7L211.8 801.2L224.5 805L237.3 809L250.3 813.2L263.4 817.7L276.8 822.4L290.4 827.4L304.1 832.6L318.1 838.1L332.2 843.9L346.6 849.9L361.2 856.3L376 862.9L391 869.8M130.9 835L143.8 826.3L156.4 818.1L168.9 810.3L181.2 802.9L193.2 796L205.1 789.5L216.8 783.4L228.4 777.7L239.7 772.4L250.9 767.5L261.8 763L272.6 758.9L283.3 755.1L293.8 751.7L304.1 748.7L314.2 746L324.2 743.6L334 741.5L343.6 739.8L353.2 738.4M134.4 778.1L145.8 780.3L157.4 782.6L169.1 785.2L181 788.1L193.1 791.1L205.4 794.3L217.8 797.8L230.4 801.5L243.2 805.4L256.2 809.6L269.3 814L282.7 818.6L296.3 823.5L310 828.7L323.9 834.1L338.1 839.8L352.4 845.7L367 852L381.7 858.5L396.7 865.3M137.1 837.1L150 828.3L162.6 820L175.1 812.1L187.3 804.7L199.4 797.7L211.3 791.1L223 784.9L234.5 779.2L245.8 773.9L257 768.9L267.9 764.3L278.7 760.2L289.4 756.3L299.8 752.9L310.1 749.8L320.2 747L330.2 744.6L340 742.5L349.6 740.7L359.1 739.2M140.3 775.2L151.7 777.3L163.3 779.7L175 782.2L186.9 785L199 787.9L211.3 791.1L223.7 794.5L236.3 798.1L249.1 802L262.1 806L275.2 810.4L288.6 814.9L302.1 819.8L315.8 824.8L329.7 830.2L343.9 835.8L358.2 841.6L372.7 847.8L387.5 854.2L402.4 860.9M143.3 839.2L156.2 830.4L168.8 821.9L181.3 814L193.5 806.5L205.6 799.4L217.5 792.8L229.1 786.5L240.7 780.7L252 775.3L263.1 770.3L274.1 765.7L284.9 761.5L295.5 757.6L305.9 754.1L316.2 750.9L326.3 748.1L336.2 745.6L346 743.5L355.6 741.6L365.1 740.1M146.2 772.5L157.6 774.5L169.2 776.8L180.9 779.3L192.8 782L204.9 784.8L217.1 788L229.6 791.3L242.2 794.8L254.9 798.6L267.9 802.6L281 806.9L294.4 811.4L307.9 816.1L321.6 821.1L335.5 826.3L349.6 831.9L363.9 837.6L378.4 843.7L393.1 850L408.1 856.6M149.6 841.4L162.5 832.5L175.1 824L187.5 815.9L199.8 808.3L211.8 801.2L223.7 794.5L235.4 788.2L246.9 782.3L258.2 776.9L269.3 771.8L280.2 767.1L291 762.8L301.6 758.9L312 755.3L322.3 752.1L332.4 749.2L342.3 746.7L352.1 744.5L361.7 742.6L371.2 741.1M152.1 769.8L163.5 771.8L175.1 774L186.8 776.4L198.7 779.1L210.7 781.9L223 784.9L235.4 788.2L248 791.7L260.7 795.4L273.7 799.3L286.8 803.5L300.1 807.9L313.6 812.6L327.3 817.5L341.2 822.6L355.3 828.1L369.6 833.8L384.1 839.7L398.8 846L413.7 852.5M155.9 843.7L168.8 834.6L181.4 826L193.8 817.9L206.1 810.3L218.1 803L230 796.3L241.6 789.9L253.1 784L264.4 778.4L275.5 773.3L286.5 768.6L297.2 764.2L307.8 760.2L318.2 756.6L328.5 753.3L338.5 750.4L348.5 747.8L358.2 745.6L367.8 743.7L377.2 742.1M157.9 767.3L169.3 769.2L180.9 771.4L192.6 773.7L204.5 776.3L216.5 779L228.7 782L241.1 785.2L253.7 788.6L266.5 792.3L279.4 796.1L292.5 800.2L305.8 804.6L319.3 809.1L333 814L346.8 819.1L360.9 824.4L375.2 830L389.6 835.9L404.3 842L419.2 848.4M162.3 846L175.1 836.9L187.8 828.2L200.2 820L212.4 812.2L224.5 805L236.3 798.1L248 791.7L259.4 785.7L270.7 780.1L281.8 774.9L292.7 770.1L303.5 765.7L314 761.6L324.4 757.9L334.7 754.6L344.7 751.7L354.6 749L364.4 746.7L373.9 744.8L383.4 743.1M163.7 764.8L175.1 766.7L186.6 768.8L198.4 771.1L210.2 773.6L222.3 776.3L234.5 779.2L246.9 782.3L259.4 785.7L272.2 789.2L285.1 793L298.2 797.1L311.5 801.3L324.9 805.8L338.6 810.6L352.4 815.6L366.5 820.9L380.7 826.4L395.2 832.2L409.8 838.2L424.7 844.5M168.7 848.4L181.6 839.1L194.2 830.4L206.6 822.1L218.8 814.3L230.8 806.9L242.7 800L254.3 793.5L265.8 787.4L277 781.8L288.1 776.5L299 771.6L309.8 767.2L320.3 763.1L330.7 759.3L340.9 756L351 752.9L360.8 750.3L370.6 747.9L380.1 745.9L389.5 744.2M169.4 762.4L180.8 764.3L192.4 766.3L204.1 768.5L215.9 771L228 773.6L240.2 776.5L252.5 779.5L265.1 782.8L277.8 786.3L290.7 790L303.8 794L317.1 798.2L330.5 802.6L344.2 807.3L358 812.2L372 817.4L386.3 822.9L400.7 828.6L415.3 834.5L430.1 840.8M175.2 850.8L188 841.5L200.6 832.7L213 824.3L225.2 816.4L237.3 809L249.1 802L260.7 795.4L272.2 789.2L283.4 783.5L294.5 778.2L305.4 773.3L316.1 768.7L326.6 764.6L337 760.8L347.2 757.3L357.2 754.3L367.1 751.6L376.8 749.2L386.3 747.1L395.7 745.4M175.1 760.2L186.5 761.9L198 763.9L209.7 766.1L221.6 768.5L233.6 771.1L245.8 773.9L258.2 776.9L270.7 780.1L283.4 783.5L296.3 787.2L309.4 791.1L322.6 795.2L336.1 799.5L349.7 804.1L363.5 809L377.5 814.1L391.7 819.4L406.1 825.1L420.7 830.9L435.5 837.1M181.7 853.3L194.5 843.9L207.1 835L219.5 826.6L231.7 818.6L243.7 811L255.5 804L267.2 797.3L278.6 791.1L289.8 785.3L300.9 779.9L311.8 774.9L322.5 770.3L333 766.1L343.4 762.3L353.5 758.8L363.5 755.7L373.4 752.9L383.1 750.5L392.6 748.4L401.9 746.6M180.8 758L192.2 759.7L203.7 761.6L215.4 763.8L227.2 766.1L239.2 768.6L251.4 771.3L263.8 774.3L276.3 777.4L289 780.8L301.9 784.4L314.9 788.2L328.1 792.3L341.6 796.5L355.2 801.1L369 805.8L383 810.9L397.1 816.1L411.5 821.7L426.1 827.5L440.9 833.5M188.3 855.9L201.1 846.4L213.7 837.4L226.1 828.9L238.3 820.8L250.3 813.2L262.1 806L273.7 799.3L285.1 793L296.3 787.2L307.4 781.7L318.2 776.7L328.9 772L339.4 767.7L349.7 763.8L359.9 760.3L369.9 757.1L379.7 754.3L389.4 751.8L398.9 749.6L408.2 747.8M186.4 755.9L197.8 757.6L209.3 759.4L220.9 761.5L232.8 763.8L244.8 766.2L257 768.9L269.3 771.8L281.8 774.9L294.5 778.2L307.4 781.7L320.4 785.5L333.6 789.4L347 793.7L360.6 798.1L374.4 802.8L388.3 807.8L402.5 813L416.9 818.4L431.4 824.1L446.2 830.1M194.9 858.5L207.7 849L220.3 839.9L232.7 831.2L244.8 823.1L256.8 815.4L268.6 808.2L280.2 801.4L291.6 795L302.8 789.1L313.9 783.6L324.7 778.4L335.4 773.7L345.9 769.4L356.2 765.4L366.3 761.8L376.3 758.6L386.1 755.7L395.7 753.2L405.2 751L414.5 749.1M192 753.9L203.3 755.5L214.8 757.3L226.5 759.3L238.3 761.6L250.3 764L262.5 766.6L274.8 769.4L287.3 772.4L300 775.7L312.8 779.1L325.8 782.8L339 786.7L352.4 790.9L366 795.3L379.7 799.9L393.7 804.8L407.8 809.9L422.2 815.3L436.7 820.9L451.4 826.8M201.6 861.2L214.3 851.6L226.9 842.4L239.3 833.7L251.5 825.4L263.4 817.7L275.2 810.4L286.8 803.5L298.2 797.1L309.4 791.1L320.4 785.5L331.2 780.3L341.9 775.5L352.3 771.1L362.6 767.1L372.8 763.4L382.7 760.1L392.5 757.2L402.1 754.6L411.6 752.4L420.9 750.5M197.5 752L208.8 753.5L220.3 755.3L232 757.3L243.8 759.4L255.8 761.8L267.9 764.3L280.2 767.1L292.7 770.1L305.4 773.3L318.2 776.7L331.2 780.3L344.4 784.1L357.8 788.2L371.3 792.5L385.1 797.1L399 801.9L413.1 806.9L427.4 812.2L441.9 817.8L456.6 823.6M208.3 864L221.1 854.2L233.6 845L246 836.2L258.1 827.9L270.1 820L281.9 812.6L293.4 805.7L304.8 799.2L316 793.1L327 787.4L337.8 782.2L348.4 777.3L358.9 772.9L369.2 768.8L379.3 765.1L389.2 761.7L399 758.7L408.6 756.1L418 753.8L427.3 751.8M203 750.1L214.3 751.7L225.8 753.4L237.4 755.3L249.2 757.4L261.2 759.7L273.4 762.2L285.7 764.9L298.1 767.8L310.8 770.9L323.6 774.3L336.6 777.8L349.7 781.6L363.1 785.6L376.6 789.9L390.3 794.4L404.2 799.1L418.3 804L432.6 809.3L447.1 814.7L461.8 820.5M215 866.9L227.8 857L240.4 847.6L252.7 838.7L264.9 830.3L276.8 822.4L288.6 814.9L300.1 807.9L311.5 801.3L322.6 795.2L333.6 789.4L344.4 784.1L355 779.2L365.5 774.7L375.7 770.5L385.8 766.8L395.7 763.4L405.5 760.3L415 757.6L424.5 755.3L433.7 753.3M208.4 748.4L219.7 749.9L231.2 751.6L242.9 753.4L254.6 755.5L266.6 757.7L278.7 760.2L291 762.8L303.5 765.7L316.1 768.7L328.9 772L341.9 775.5L355 779.2L368.4 783.1L381.9 787.3L395.6 791.7L409.4 796.4L423.5 801.3L437.8 806.4L452.2 811.8L466.9 817.5M221.9 869.8L234.6 859.8L247.2 850.3L259.5 841.4L271.6 832.9L283.6 824.9L295.3 817.3L306.8 810.2L318.2 803.6L329.3 797.3L340.3 791.5L351.1 786.1L361.7 781.1L372.1 776.6L382.3 772.4L392.4 768.5L402.3 765.1L412 762L421.6 759.2L431 756.8L440.2 754.8M213.8 746.7L225.1 748.2L236.6 749.8L248.2 751.6L260 753.6L272 755.8L284.1 758.2L296.3 760.8L308.8 763.6L321.4 766.6L334.2 769.8L347.1 773.2L360.3 776.9L373.6 780.8L387.1 784.9L400.7 789.2L414.6 793.8L428.6 798.6L442.9 803.7L457.3 809L471.9 814.6M228.7 872.8L241.5 862.7L254 853.1L266.3 844.1L278.5 835.5L290.4 827.4L302.1 819.8L313.6 812.6L324.9 805.8L336.1 799.5L347 793.7L357.8 788.2L368.4 783.1L378.8 778.5L389 774.2L399 770.3L408.9 766.8L418.6 763.7L428.1 760.9L437.5 758.4L446.7 756.3M219.2 745.2L230.5 746.6L241.9 748.1L253.5 749.9L265.3 751.9L277.3 754L289.4 756.3L301.6 758.9L314 761.6L326.6 764.6L339.4 767.7L352.3 771.1L365.5 774.7L378.8 778.5L392.2 782.5L405.9 786.8L419.7 791.3L433.7 796.1L447.9 801.1L462.3 806.3L476.9 811.8M235.7 875.8L248.4 865.6L260.9 856L273.2 846.8L285.3 838.2L297.2 830L308.9 822.3L320.4 815L331.7 808.2L342.9 801.8L353.8 795.9L364.5 790.3L375.1 785.2L385.5 780.5L395.7 776.2L405.7 772.2L415.5 768.6L425.2 765.4L434.7 762.6L444.1 760.1L453.3 757.9M224.5 743.7L235.8 745L247.2 746.6L258.8 748.3L270.6 750.2L282.5 752.3L294.6 754.6L306.9 757L319.3 759.7L331.8 762.6L344.6 765.7L357.5 769L370.6 772.6L383.9 776.3L397.3 780.3L411 784.5L424.8 788.9L438.8 793.6L453 798.6L467.3 803.7L481.9 809.2M242.6 878.9L255.3 868.7L267.9 858.9L280.2 849.7L292.2 840.9L304.1 832.6L315.8 824.8L327.3 817.5L338.6 810.6L349.7 804.1L360.6 798.1L371.3 792.5L381.9 787.3L392.2 782.5L402.4 778.1L412.4 774.1L422.2 770.5L431.9 767.2L441.4 764.3L450.7 761.8L459.9 759.5M229.7 742.3L241 743.6L252.5 745.1L264.1 746.7L275.8 748.6L287.7 750.6L299.8 752.9L312 755.3L324.4 757.9L337 760.8L349.7 763.8L362.6 767.1L375.7 770.5L389 774.2L402.4 778.1L416 782.3L429.8 786.7L443.8 791.3L457.9 796.1L472.3 801.2L486.8 806.6M249.7 882.1L262.4 871.7L274.9 861.9L287.1 852.6L299.2 843.7L311.1 835.3L322.8 827.5L334.2 820L345.5 813.1L356.6 806.5L367.5 800.4L378.2 794.8L388.7 789.5L399 784.6L409.2 780.2L419.2 776.1L429 772.4L438.6 769.1L448.1 766.1L457.4 763.5L466.5 761.2M235 741L246.3 742.2L257.7 743.7L269.3 745.3L281 747.1L292.9 749.1L305 751.3L317.2 753.7L329.6 756.2L342.1 759L354.8 762L367.7 765.2L380.8 768.6L394 772.2L407.4 776.1L421 780.2L434.8 784.5L448.7 789L462.9 793.8L477.2 798.8L491.7 804.1M256.7 885.4L269.4 874.9L281.9 865L294.2 855.5L306.2 846.6L318.1 838.1L329.7 830.2L341.2 822.6L352.4 815.6L363.5 809L374.4 802.8L385.1 797.1L395.6 791.7L405.9 786.8L416 782.3L426 778.2L435.7 774.4L445.4 771L454.8 768L464.1 765.3L473.2 763M240.2 739.7L251.4 741L262.9 742.4L274.4 743.9L286.2 745.7L298.1 747.6L310.1 749.8L322.3 752.1L334.7 754.6L347.2 757.3L359.9 760.3L372.8 763.4L385.8 766.8L399 770.3L412.4 774.1L426 778.2L439.7 782.4L453.6 786.9L467.7 791.6L482 796.6L496.5 801.8M263.9 888.7L276.5 878.1L289 868.1L301.3 858.6L313.3 849.5L325.1 841L336.8 832.9L348.2 825.3L359.4 818.2L370.5 811.5L381.3 805.3L392 799.4L402.5 794L412.8 789L422.9 784.4L432.8 780.2L442.6 776.4L452.2 773L461.6 769.9L470.8 767.2L479.9 764.8M245.3 738.6L256.6 739.8L268 741.1L279.6 742.6L291.3 744.4L303.2 746.3L315.2 748.3L327.4 750.6L339.7 753.1L352.2 755.8L364.9 758.6L377.8 761.7L390.8 765L404 768.5L417.3 772.3L430.9 776.2L444.6 780.4L458.5 784.8L472.6 789.5L486.9 794.4L501.3 799.5M271.1 892.1L283.7 881.5L296.2 871.3L308.4 861.7L320.4 852.5L332.2 843.9L343.9 835.8L355.3 828.1L366.5 820.9L377.5 814.1L388.3 807.8L399 801.9L409.4 796.4L419.7 791.3L429.8 786.7L439.7 782.4L449.4 778.5L459 775L468.4 771.9L477.6 769.1L486.7 766.6M250.4 737.5L261.7 738.7L273.1 740L284.7 741.4L296.4 743.1L308.2 745L320.2 747L332.4 749.2L344.7 751.7L357.2 754.3L369.9 757.1L382.7 760.1L395.7 763.4L408.9 766.8L422.2 770.5L435.7 774.4L449.4 778.5L463.3 782.9L477.4 787.5L491.6 792.3L506 797.3M278.3 895.6L290.9 884.8L303.4 874.6L315.6 864.8L327.6 855.6L339.4 846.9L351 838.6L362.4 830.9L373.6 823.6L384.6 816.7L395.4 810.3L406 804.4L416.4 798.8L426.7 793.7L436.8 788.9L446.6 784.6L456.4 780.7L465.9 777.1L475.3 773.9L484.5 771L493.5 768.6M255.5 736.5L266.8 737.6L278.2 738.9L289.7 740.3L301.4 741.9L313.2 743.8L325.2 745.7L337.4 747.9L349.7 750.3L362.2 752.9L374.8 755.6L387.6 758.6L400.6 761.8L413.8 765.2L427.1 768.8L440.6 772.7L454.2 776.7L468.1 781L482.1 785.5L496.3 790.3L510.7 795.3M285.6 899.2L298.2 888.3L310.6 877.9L322.8 868.1L334.8 858.8L346.6 849.9L358.2 841.6L369.6 833.8L380.7 826.4L391.7 819.4L402.5 813L413.1 806.9L423.5 801.3L433.7 796.1L443.8 791.3L453.6 786.9L463.3 782.9L472.8 779.2L482.2 776L491.3 773.1L500.3 770.5M260.6 735.6L271.8 736.7L283.2 737.9L294.7 739.3L306.4 740.9L318.2 742.6L330.2 744.6L342.3 746.7L354.6 749L367.1 751.6L379.7 754.3L392.5 757.2L405.5 760.3L418.6 763.7L431.9 767.2L445.4 771L459 775L472.8 779.2L486.8 783.7L501 788.4L515.4 793.3M292.9 902.8L305.6 891.8L318 881.3L330.1 871.4L342.1 862L353.9 853.1L365.4 844.7L376.8 836.7L387.9 829.2L398.9 822.2L409.7 815.7L420.2 809.5L430.6 803.8L440.8 798.5L450.8 793.7L460.7 789.2L470.3 785.1L479.8 781.4L489.1 778.1L498.3 775.1L507.2 772.5M265.6 734.8L276.8 735.8L288.1 737L299.7 738.3L311.3 739.9L323.1 741.6L335.1 743.5L347.2 745.6L359.5 747.8L372 750.3L384.6 753L397.3 755.9L410.3 758.9L423.4 762.2L436.7 765.7L450.1 769.5L463.7 773.4L477.5 777.6L491.5 782L505.7 786.6L520 791.4M300.3 906.5L312.9 895.4L325.3 884.8L337.5 874.8L349.4 865.3L361.2 856.3L372.7 847.8L384.1 839.7L395.2 832.2L406.1 825.1L416.9 818.4L427.4 812.2L437.8 806.4L447.9 801.1L457.9 796.1L467.7 791.6L477.4 787.5L486.8 783.7L496.1 780.3L505.2 777.3L514.2 774.6M270.5 734L281.7 735L293.1 736.1L304.6 737.4L316.2 738.9L328 740.6L340 742.5L352.1 744.5L364.4 746.7L376.8 749.2L389.4 751.8L402.1 754.6L415 757.6L428.1 760.9L441.4 764.3L454.8 768L468.4 771.9L482.2 776L496.1 780.3L510.3 784.9L524.6 789.7M307.8 910.3L320.4 899.1L332.8 888.4L344.9 878.3L356.8 868.7L368.6 859.5L380.1 850.9L391.4 842.8L402.5 835.2L413.4 828L424.1 821.2L434.6 814.9L445 809.1L455.1 803.7L465.1 798.7L474.9 794L484.5 789.8L493.9 786L503.2 782.6L512.3 779.5L521.2 776.8M275.4 733.3L286.6 734.2L298 735.4L309.5 736.6L321.1 738.1L332.9 739.7L344.8 741.5L356.9 743.5L369.2 745.7L381.6 748.1L394.1 750.7L406.9 753.4L419.8 756.4L432.8 759.6L446.1 763L459.5 766.6L473 770.4L486.8 774.5L500.7 778.7L514.8 783.3L529.1 788M315.3 914.2L327.9 902.8L340.2 892.1L352.4 881.8L364.3 872.1L376 862.9L387.5 854.2L398.8 846L409.8 838.2L420.7 830.9L431.4 824.1L441.9 817.8L452.2 811.8L462.3 806.3L472.3 801.2L482 796.6L491.6 792.3L501 788.4L510.3 784.9L519.3 781.7L528.2 778.9M280.3 732.7L291.5 733.6L302.8 734.7L314.3 735.9L325.9 737.3L337.7 738.9L349.6 740.7L361.7 742.6L373.9 744.8L386.3 747.1L398.9 749.6L411.6 752.4L424.5 755.3L437.5 758.4L450.7 761.8L464.1 765.3L477.6 769.1L491.3 773.1L505.2 777.3L519.3 781.7L533.6 786.4M322.9 918.1L335.4 906.7L347.8 895.8L359.9 885.4L371.8 875.6L383.4 866.3L394.9 857.5L406.2 849.2L417.2 841.3L428.1 834L438.8 827.1L449.2 820.6L459.5 814.6L469.6 809L479.5 803.9L489.3 799.1L498.8 794.8L508.2 790.8L517.4 787.2L526.4 784L535.3 781.2M285.2 732.2L296.4 733L307.7 734.1L319.1 735.3L330.7 736.6L342.5 738.2L354.4 739.9L366.4 741.8L378.7 743.9L391 746.2L403.6 748.7L416.3 751.4L429.1 754.2L442.1 757.3L455.3 760.6L468.6 764.1L482.2 767.8L495.9 771.8L509.7 775.9L523.8 780.3L538 784.9M330.5 922.2L343.1 910.6L355.4 899.6L367.4 889.1L379.3 879.2L391 869.8L402.4 860.9L413.7 852.5L424.7 844.5L435.5 837.1L446.2 830.1L456.6 823.6L466.9 817.5L476.9 811.8L486.8 806.6L496.5 801.8L506 797.3L515.4 793.3L524.6 789.7L533.6 786.4L542.4 783.5M290 731.7L301.1 732.5L312.4 733.5L323.9 734.7L335.5 736L347.2 737.5L359.1 739.2L371.2 741.1L383.4 743.1L395.7 745.4L408.2 747.8L420.9 750.5L433.7 753.3L446.7 756.3L459.9 759.5L473.2 763L486.7 766.6L500.3 770.5L514.2 774.6L528.2 778.9L542.4 783.5" fill="none" stroke="#808080" stroke-opacity="0.7" stroke-width="0.55"/>
<text class="b" transform="translate(65.8 1033.4) skewY(-12) scale(0.82 1)" font-size="18.5" text-anchor="end">60</text>
<text class="b" transform="translate(63.4 981.3) skewY(-12) scale(0.82 1)" font-size="18.5" text-anchor="end">65</text>
<text class="b" transform="translate(61 928.1) skewY(-12) scale(0.82 1)" font-size="18.5" text-anchor="end">70</text>
<text class="b" transform="translate(58.4 873.7) skewY(-12) scale(0.82 1)" font-size="18.5" text-anchor="end">75</text>
<text class="b" transform="translate(55.9 818.3) skewY(-12) scale(0.82 1)" font-size="18.5" text-anchor="end">80</text>
<text class="b" transform="translate(53.3 761.7) skewY(-12) scale(0.82 1)" font-size="18.5" text-anchor="end">85</text>
<text class="b" transform="translate(50.6 703.8) skewY(-12) scale(0.82 1)" font-size="18.5" text-anchor="end">90</text>
<text class="b" transform="matrix(0.837 -0.449 0.750 0.279 98 1038.5)" font-size="18" text-anchor="end">6.5</text>
<text class="b" transform="matrix(0.837 -0.449 0.750 0.279 126.9 1049.2)" font-size="18" text-anchor="end">7.0</text>
<text class="b" transform="matrix(0.837 -0.449 0.750 0.279 156.8 1060.4)" font-size="18" text-anchor="end">7.5</text>
<text class="b" transform="matrix(0.837 -0.449 0.750 0.279 187.9 1072)" font-size="18" text-anchor="end">8.0</text>
<text class="b" transform="matrix(0.837 -0.449 0.750 0.279 220.1 1084)" font-size="18" text-anchor="end">8.5</text>
<text class="b" transform="matrix(0.837 -0.449 0.750 0.279 253.5 1096.5)" font-size="18" text-anchor="end">9.0</text>
<text class="b" transform="matrix(0.837 -0.449 0.750 0.279 288.3 1109.4)" font-size="18" text-anchor="end">9.5</text>
<text class="b" transform="matrix(0.837 -0.449 0.750 0.279 324.5 1122.9)" font-size="18" text-anchor="end">10.0</text>
<text class="b" transform="matrix(0.890 0.332 -0.705 0.378 333.6 1122.3)" font-size="18" text-anchor="start">4.0</text>
<text class="b" transform="matrix(0.890 0.332 -0.705 0.378 357.4 1109.5)" font-size="18" text-anchor="start">4.2</text>
<text class="b" transform="matrix(0.890 0.332 -0.705 0.378 380.2 1097.3)" font-size="18" text-anchor="start">4.4</text>
<text class="b" transform="matrix(0.890 0.332 -0.705 0.378 402.2 1085.5)" font-size="18" text-anchor="start">4.6</text>
<text class="b" transform="matrix(0.890 0.332 -0.705 0.378 423.5 1074.1)" font-size="18" text-anchor="start">4.8</text>
<text class="b" transform="matrix(0.890 0.332 -0.705 0.378 443.9 1063.1)" font-size="18" text-anchor="start">5.0</text>
<text class="b" transform="matrix(0.890 0.332 -0.705 0.378 463.7 1052.5)" font-size="18" text-anchor="start">5.2</text>
<text class="b" transform="matrix(0.890 0.332 -0.705 0.378 482.8 1042.3)" font-size="18" text-anchor="start">5.4</text>
<text class="b" transform="matrix(0.890 0.332 -0.705 0.378 501.2 1032.4)" font-size="18" text-anchor="start">5.6</text>
<text class="b" transform="matrix(0.890 0.332 -0.705 0.378 519 1022.8)" font-size="18" text-anchor="start">5.8</text>
<text class="b" transform="matrix(0.890 0.332 -0.705 0.378 536.2 1013.6)" font-size="18" text-anchor="start">6.0</text>
<path d="M74.3 1022.4l-6.5 1.7M72.2 970.8l-6.5 1.7M70.1 918.1l-6.5 1.7M67.8 864.2l-6.5 1.7M65.6 809.3l-6.5 1.7M63.3 753.2l-6.5 1.7M60.9 695.8l-6.5 1.7M102.2 1032.8L96.9 1035.7M131.1 1043.6L125.8 1046.4M161 1054.7L155.7 1057.6M192 1066.3L186.8 1069.2M224.3 1078.3L219 1081.2M257.7 1090.8L252.4 1093.6M292.5 1103.8L287.2 1106.6M328.7 1117.3L323.4 1120.1M328.7 1117.3L334.3 1119.4M352.4 1104.5L358.1 1106.6M375.3 1092.2L380.9 1094.3M397.3 1080.4L403 1082.5M418.6 1069L424.2 1071.1M439 1058.1L444.7 1060.2M458.8 1047.5L464.4 1049.6M477.9 1037.2L483.5 1039.3M496.3 1027.3L501.9 1029.4M514.1 1017.8L519.7 1019.9M531.3 1008.5L536.9 1010.6" stroke="#000" stroke-width="2" fill="none"/>
<text class="b" transform="matrix(0.937 0.349 -0.749 0.402 140.2 1092.9)" font-size="19.2" text-anchor="middle"><tspan class="i">x</tspan><tspan font-size="13" dy="3">3</tspan><tspan dy="-3">: Guide Cone Length(mm)</tspan></text>
<text class="b" transform="matrix(0.881 -0.473 0.937 0.349 492.5 1076.4)" font-size="15.8" text-anchor="middle"><tspan class="i">x</tspan><tspan font-size="13" dy="3">1</tspan><tspan dy="-3">: Guide Cone Angle (°)</tspan></text>
<text class="b" transform="translate(12.5 715.5) rotate(87) scale(1.1 1)" font-size="20.5" word-spacing="2.5" text-anchor="start">y<tspan font-size="13.5" dy="4">2</tspan><tspan dy="-4">: Extrusion Temperature (°C)</tspan></text>
<path d="M111.6 1696.8L101.6 1377.5M141.1 1685.6L133 1372.2M169.6 1674.9L163.1 1367.2M197 1664.6L192.1 1362.4M223.4 1654.6L219.9 1357.7M248.8 1645L246.7 1353.3M273.3 1635.7L272.5 1349M324.2 1634.4L325.9 1348.4M352.1 1642.3L355.3 1352.1M381 1650.4L385.7 1355.8M410.7 1658.8L417 1359.7M441.4 1667.4L449.5 1363.8M473.1 1676.3L483.1 1368M505.9 1685.5L517.8 1372.3M79.3 1669.7L297.1 1593L541.5 1657.1M77.9 1630.4L297.1 1558.8L543.1 1618.7M76.4 1590.6L297.1 1524.2L544.9 1579.7M74.9 1550.2L297.2 1489.2L546.6 1540.2M73.4 1509.3L297.2 1453.8L548.4 1500.2M71.9 1467.7L297.3 1417.9L550.1 1459.6M70.4 1425.6L297.3 1381.6L552 1418.5M80.8 1708.4L297 1626.8L539.8 1695.1" fill="none" stroke="#111" stroke-width="1.25"/>
<path d="M80.8 1708.4L334.5 1802.7L539.8 1695.1L297 1626.8Z" fill="#ffff00"/>
<path d="M80.8 1708.4L297 1626.8L539.8 1695.1" fill="none" stroke="#222" stroke-width="1"/>
<path d="M308.7 1793.1l37.1-14.3l34.3-14.2l31.4-14l25.2-12.2l13.4-6.9l12.6-6.9l20.4-12l10.6-6.9l7.4-5.1l9.2-6.9l6.4-5.1" fill="none" stroke="#6e2896" stroke-width="1.8"/>
<path d="M283.1 1783.6l36.4-14.2l33.6-14l30.7-13.9l24.5-12.1l12.9-6.9l12.3-6.9l19.6-12l7.6-5.1l9.5-6.9l8.7-6.8l6-5.2" fill="none" stroke="#1e6ec8" stroke-width="1.8"/>
<path d="M257.6 1774.1l35.7-14l32.8-13.9l30-13.8l23.7-12.1l12.6-6.8l11.8-6.9l8.3-5.1l10.4-6.9l7.3-5.1l9-6.8l8.1-6.9l5.5-5.2" fill="none" stroke="#32dc78" stroke-width="1.8"/>
<path d="M232.3 1764.7l34.9-13.9l32-13.8l15-6.9l14.1-6.9l23-12l12.1-6.8l11.3-6.8l8-5.2l9.9-6.8l9-6.9l6.2-5.1l7.5-6.9l5-5.2" fill="none" stroke="#bef03c" stroke-width="1.8"/>
<path d="M207 1755.3l34.1-13.8l31.2-13.7l14.5-6.9l13.8-6.8l22.1-12l11.6-6.8l10.8-6.8l10-6.9l6.9-5.1l6.4-5.2l7.7-6.9l6.8-7l4.4-5.2" fill="none" stroke="#ffff30" stroke-width="1.8"/>
<path d="M181.8 1746l33.3-13.8l30.3-13.7l14.1-6.8l13.2-6.8l10.9-5.9l10.4-6l11.1-6.9l9.2-6.1l8-5.9l8.7-6.9l6-5.3l6.9-6.8l5.4-6.4l4.3-6" fill="none" stroke="#ffa000" stroke-width="1.8"/>
<path d="M156.6 1736.6l32.4-13.7l15.1-6.8l14.3-6.8l13.6-6.8l12.7-6.8l11.9-6.8l11.1-6.9l10.3-6.8l8.5-6.3l7.2-5.8l7.7-7l6-6.2l5-6.1l3.6-5.4l3-5.4" fill="none" stroke="#ff5000" stroke-width="1.8"/>
<path d="M131.4 1727.2l31.5-13.6l25-11.9l22.6-11.9l8.9-5.1l11.2-6.8l10.1-6.9l7.2-5.2l6.5-5.2l6-5.2l5.5-5.3l4.8-5.3l4.2-5.4l3.6-5.6" fill="none" stroke="#e61400" stroke-width="1.8"/>
<path d="M106.1 1717.9l19.5-8.5l14.6-6.8l17.3-8.5l12.8-6.8l12-6.8l13.8-8.6l10-6.9l9.9-7.6" fill="none" stroke="#aa0000" stroke-width="1.8"/>
<path d="M68.8 1382.9L297.4 1344.9L553.8 1376.8M80.8 1708.4L68.8 1382.9M297 1626.8L297.4 1344.9M539.8 1695.1L553.8 1376.8" fill="none" stroke="#000" stroke-width="2.8" stroke-linejoin="miter"/>
<path d="M80.8 1708.4L334.5 1802.7L539.8 1695.1" fill="none" stroke="#000" stroke-width="3" stroke-linejoin="miter"/>
<clipPath id="sce"><path d="M71.5 1455.8l32.5 26.9l30.5 26l31.4 27.6l32.5 29.2l33.5 30.9l34.6 32.6l35.7 34.4l33.2 32.6l27.4-15.5l29.1-15.7l25.1-12.8l26.7-12.8l25.6-11.4l12.4-5.2l14.5-5.8l23.3-8.8l11.3-3.9l13.2-4.4l-30.6-21.8l-33-22.9l-32.2-21.7l-31.3-20.5l-30.4-19.2l-29.6-18.1l-28.8-17l-30.8-17.5l-14.6-0.7l-12.4-0.3l-25.5-0.2l-15.9 0.2l-13.4 0.4l-27.8 1.5l-28.8 2.3l-27 2.9l-15.5 1.9l-15.7 2.2l-29.2 4.6z"/></clipPath>
<g stroke-width="0.6" stroke-linejoin="round" fill-rule="evenodd" clip-path="url(#sce)"><path d="M330.7 1691.4l4.7 4.6l24.6-14l-29.3 9.4z" fill="#0009ff" stroke="#0009ff"/><path d="M326 1686.7l4.7 4.7l29-9.3l30.6-16.5l-31.8 10.8l-32.5 10.3zM532.8 1603.2l-0.8 0.5l12-4l-2.8-2l-8.4 5.5z" fill="#001bff" stroke="#001bff"/><path d="M321.3 1682.1l4.7 4.6l32.5-10.3l30.4-10.3l30.8-15.4l20-9.6l-27.4 10.5l-28.3 10.1l-30.3 10.1l-32.4 10.3zM491.3 1618.6l21.3-8.1l19.4-6.8l9.2-6l-5.6-4l-8.4 5.4l-11 6.5l-11.9 6.5l-13 6.5z" fill="#002eff" stroke="#002eff"/><path d="M316.6 1677.5l4.7 4.6l28.9-9.1l27.3-9.1l25.6-9l23.9-8.9l12.7-4.9l24.6-11.1l27-11.4l13-6.5l11.9-6.5l11-6.5l8.4-5.4l-5.6-4.1l-15.5 9.7l-19.8 10.8l-22.6 10.8l-25.1 10.9l-27.8 11l-30.4 11l-33 11.2l-39.2 12.5z" fill="#0040ff" stroke="#0040ff"/><path d="M312 1672.9l4.6 4.6l28.9-9.1l27.1-9l25.6-8.9l23.8-8.8l32.8-13.2l29-13l13-6.5l12.1-6.4l11-6.5l10.1-6.5l-5.7-4l-15.3 9.7l-19.7 10.7l-22.4 10.7l-25.1 10.8l-27.6 10.9l-30.3 11l-36.3 12.3l-35.6 11.2z" fill="#0052ff" stroke="#0052ff"/><path d="M307.3 1668.3l4.7 4.6l28.7-9l27.1-8.9l25.4-8.9l23.8-8.8l32.6-13l28.9-13l12.9-6.4l12-6.4l11-6.5l9.9-6.4l-5.7-4l-15.1 9.6l-19.5 10.6l-22.3 10.7l-25 10.8l-27.5 10.8l-30.2 10.9l-32.7 11l-39 12.3z" fill="#0064ff" stroke="#0064ff"/><path d="M302.6 1663.8l4.7 4.5l28.6-8.9l27.1-8.9l25.3-8.8l23.7-8.7l32.5-13l28.7-12.8l12.8-6.4l11.9-6.4l10.9-6.4l9.8-6.4l-5.6-4l-15 9.5l-19.4 10.6l-22.1 10.6l-24.9 10.7l-27.4 10.8l-30.1 10.8l-32.6 11l-38.9 12.2z" fill="#0076ff" stroke="#0076ff"/><path d="M297.9 1659.2l4.7 4.6l28.6-8.9l26.9-8.8l25.3-8.8l23.6-8.6l32.4-12.9l28.5-12.8l12.8-6.3l11.8-6.4l10.7-6.4l9.8-6.3l-5.7-4l-14.9 9.5l-19.2 10.5l-22 10.6l-24.7 10.6l-27.3 10.6l-30 10.8l-35.9 12l-35.4 11z" fill="#0089ff" stroke="#0089ff"/><path d="M293.2 1654.7l4.7 4.5l28.5-8.8l26.9-8.8l25.2-8.6l23.5-8.6l32.2-12.8l28.4-12.7l12.7-6.4l11.7-6.3l10.7-6.3l9.6-6.3l-5.7-4l-14.7 9.4l-19.1 10.5l-21.8 10.5l-24.6 10.5l-27.2 10.6l-29.9 10.7l-32.4 10.8l-38.7 12.1z" fill="#009bff" stroke="#009bff"/><path d="M288.6 1650.1l4.6 4.6l28.5-8.8l26.7-8.7l25.2-8.6l23.4-8.5l32-12.7l28.2-12.7l12.7-6.2l11.6-6.3l10.6-6.3l9.5-6.3l-5.7-4l-14.6 9.4l-18.9 10.4l-21.7 10.4l-24.4 10.5l-27.1 10.6l-29.8 10.6l-32.3 10.7l-38.5 11.9z" fill="#00adff" stroke="#00adff"/><path d="M283.9 1645.6l4.7 4.5l28.3-8.7l29.9-9.6l24.8-8.6l23.2-8.5l31.6-12.6l27.7-12.5l12.3-6.3l11.4-6.2l8.7-5.2l9.4-6.3l-5.8-3.9l-14.3 9.3l-18.8 10.3l-21.6 10.4l-24.3 10.4l-26.9 10.5l-29.7 10.5l-35.5 11.7l-35.1 10.8z" fill="#00bfff" stroke="#00bfff"/><path d="M279.2 1641.1l4.7 4.5l31.7-9.7l26.4-8.5l24.7-8.5l23.1-8.4l31.4-12.6l27.5-12.4l12.3-6.2l11.3-6.2l10.2-6.2l7.6-5.2l-5.7-4l-14.2 9.3l-18.6 10.3l-21.4 10.3l-24.2 10.3l-26.9 10.4l-29.5 10.5l-32.1 10.6l-38.3 11.7z" fill="#00d1ff" stroke="#00d1ff"/><path d="M274.5 1636.6l4.7 4.5l31.6-9.6l26.3-8.5l24.7-8.4l22.9-8.4l31.3-12.4l27.4-12.4l12.2-6.2l11.1-6.2l10.1-6.1l7.6-5.2l-5.8-3.9l-14 9.2l-18.4 10.2l-21.3 10.3l-24 10.2l-26.8 10.4l-29.4 10.4l-32 10.5l-38.2 11.6z" fill="#00e4ff" stroke="#00e4ff"/><path d="M269.9 1632.1l4.6 4.5l28.1-8.5l29.7-9.5l24.5-8.3l22.9-8.3l31.1-12.4l14.1-6.1l13.1-6.2l12.1-6.1l11.1-6.2l8.4-5.1l9-6.1l-5.7-4l-13.9 9.2l-18.3 10.2l-21.1 10.1l-23.9 10.3l-26.6 10.2l-29.3 10.3l-35.2 11.5l-34.7 10.5z" fill="#00f6ff" stroke="#00f6ff"/><path d="M265.2 1627.7l4.7 4.4l31.4-9.4l26.1-8.4l24.5-8.3l22.7-8.2l31-12.3l27-12.3l12-6.1l11-6.1l9.2-5.6l8.1-5.6l-5.8-3.9l-13.7 9.1l-18.1 10.1l-21 10.2l-23.7 10.1l-26.5 10.2l-29.2 10.2l-31.7 10.4l-38 11.5z" fill="#00fff6" stroke="#00fff6"/><path d="M260.5 1623.2l4.7 4.5l31.3-9.4l26-8.3l24.4-8.3l22.7-8.2l30.8-12.2l13.9-6l13-6.1l11.9-6.1l10.8-6l9.8-6.1l7.3-5.1l-5.8-3.9l-13.5 9.1l-18 10l-20.8 10.1l-23.6 10l-26.4 10.2l-29 10.1l-31.6 10.3l-37.9 11.4z" fill="#00ffe4" stroke="#00ffe4"/><path d="M255.8 1618.8l4.7 4.4l27.9-8.3l29.3-9.3l24.3-8.1l22.5-8.2l30.7-12.1l13.8-6l12.9-6.1l11.8-6l10.7-6l9.7-6.1l7.2-5l-5.9-3.9l-13.3 9l-17.7 10l-20.7 10l-23.5 10l-26.2 10l-28.9 10.2l-31.5 10.2l-37.8 11.3z" fill="#00ffd1" stroke="#00ffd1"/><path d="M251.1 1614.4l4.7 4.4l31.1-9.3l25.9-8.2l24.2-8.1l22.5-8.1l30.5-12l13.7-6l12.8-6l11.7-6l10.6-6l8-5l8.6-6l-5.8-3.9l-13.1 9l-17.6 9.9l-20.5 9.9l-23.3 10l-26.1 10l-28.8 10l-31.4 10.1l-37.7 11.3z" fill="#00ffbf" stroke="#00ffbf"/><path d="M246.5 1610l4.6 4.4l31.1-9.2l25.7-8.2l24.1-8l22.4-8l30.3-12l13.7-6l12.7-5.9l11.6-6l10.5-5.9l8.5-5.4l7.9-5.6l-5.9-3.9l-12.9 8.9l-17.4 9.9l-20.3 9.9l-23.2 9.9l-26 9.9l-28.6 9.9l-31.3 10.1l-37.5 11.2z" fill="#00ffad" stroke="#00ffad"/><path d="M241.8 1605.6l4.7 4.4l30.9-9.2l25.7-8l24-8.1l22.2-7.9l30.2-11.9l13.6-5.9l12.5-5.9l11.5-6l10.5-5.9l9.3-5.9l6.8-5l-5.9-3.9l-12.7 8.9l-17.2 9.8l-20.2 9.8l-23 9.9l-25.8 9.8l-28.5 9.9l-31.2 10l-37.4 11.1z" fill="#00ff9b" stroke="#00ff9b"/><path d="M237.1 1601.2l4.7 4.4l30.8-9.1l25.6-8l26.8-9l21.9-7.9l29.7-11.8l13.3-5.8l12.3-5.9l9.9-5.2l9.8-5.6l9.2-5.9l6.7-5l-5.9-3.8l-12.5 8.8l-17 9.8l-20 9.7l-22.9 9.8l-25.7 9.7l-28.4 9.9l-31 9.9l-37.3 11z" fill="#00ff89" stroke="#00ff89"/><path d="M232.4 1596.8l4.7 4.4l27.4-8l28.8-9l26.7-8.9l21.8-7.8l29.5-11.7l13.2-5.9l12.2-5.8l11.1-5.9l8.4-4.8l9.1-5.9l6.6-4.9l-5.9-3.9l-5.1 3.9l-7.2 4.9l-8 4.9l-8.8 4.8l-19.8 9.7l-22.8 9.7l-25.5 9.7l-28.3 9.8l-31 9.8l-37.1 10.9z" fill="#00ff76" stroke="#00ff76"/><path d="M227.7 1592.4l4.7 4.4l30.6-8.9l25.4-7.9l26.6-8.8l21.7-7.8l29.3-11.7l13.2-5.8l12-5.8l11-5.8l8.4-4.9l7.5-4.8l7.9-5.9l-5.9-3.8l-5.1 3.9l-7.1 4.8l-14.8 8.7l-19.3 9.6l-22.3 9.6l-25.1 9.7l-30.8 10.7l-30.9 9.7l-37 10.8z" fill="#00ff64" stroke="#00ff64"/><path d="M223 1588.1l4.7 4.3l30.5-8.8l25.4-7.9l26.4-8.7l21.6-7.7l29.2-11.6l13-5.8l12-5.7l9.1-4.9l10-5.8l7.4-4.8l7.8-5.8l-6-3.9l-5 3.9l-6.9 4.8l-7.8 4.8l-8.6 4.8l-17.4 8.6l-22.1 9.6l-25 9.6l-30.7 10.6l-30.7 9.6l-36.9 10.8z" fill="#00ff52" stroke="#00ff52"/><path d="M218.4 1583.8l4.6 4.3l30.5-8.8l25.2-7.8l26.3-8.7l21.5-7.6l29-11.5l12.9-5.8l11.9-5.7l9.7-5.2l9.2-5.3l7.8-5.3l7.1-5.4l-6-3.8l-6.2 4.8l-5.5 3.9l-7.7 4.7l-8.5 4.8l-19.3 9.5l-22.2 9.5l-25.1 9.5l-27.9 9.6l-30.6 9.6l-36.7 10.7z" fill="#00ff40" stroke="#00ff40"/><path d="M213.7 1579.4l4.7 4.4l30.3-8.8l25.1-7.7l26.2-8.6l21.4-7.6l28.8-11.4l12.8-5.7l11.8-5.7l10.6-5.8l8-4.7l8.2-5.5l6.5-5.1l-6-3.8l-6 4.8l-5.5 3.8l-7.6 4.7l-8.2 4.7l-17.2 8.6l-21.8 9.4l-24.7 9.5l-30.4 10.4l-30.4 9.6l-36.6 10.5z" fill="#00ff2e" stroke="#00ff2e"/><path d="M209 1575.1l4.7 4.3l30.2-8.6l25-7.7l26.1-8.5l21.3-7.6l28.6-11.3l12.7-5.7l11.6-5.7l10.6-5.7l7.9-4.7l8.4-5.7l6-4.8l-6.1-3.8l-5.6 4.5l-5.6 4l-14.1 8.6l-18.5 9.3l-21.7 9.4l-24.5 9.4l-30.2 10.4l-30.3 9.4l-36.5 10.5z" fill="#00ff1b" stroke="#00ff1b"/><path d="M204.3 1570.8l4.7 4.3l30.1-8.6l24.9-7.6l25.9-8.5l21.2-7.5l28.4-11.2l12.7-5.7l11.5-5.6l10.4-5.6l7.8-4.8l8.2-5.7l5.9-4.7l-6-3.8l-5.3 4.4l-5.7 4.1l-13.9 8.5l-18.4 9.3l-21.4 9.3l-24.4 9.3l-30.1 10.3l-30.2 9.4l-36.3 10.4z" fill="#00ff09" stroke="#00ff09"/><path d="M199.6 1566.6l4.7 4.2l30-8.5l27.8-8.5l25.6-8.4l20.8-7.5l27.9-11.2l21.8-10.2l8.6-4.7l9.3-5.6l8.1-5.7l5.8-4.7l-6.1-3.8l-5.1 4.3l-5.7 4.2l-13.6 8.4l-18.2 9.3l-21.3 9.2l-24.2 9.3l-29.9 10.2l-30.1 9.3l-36.2 10.4z" fill="#09ff00" stroke="#09ff00"/><path d="M194.9 1562.3l4.7 4.3l29.9-8.5l27.6-8.4l25.5-8.4l20.7-7.4l27.7-11.1l12.2-5.6l9.4-4.6l9.1-5l8.6-5.3l8-5.6l5.6-4.7l-6.1-3.8l-5 4.3l-5.6 4.1l-13.4 8.4l-18 9.2l-21.1 9.2l-24 9.2l-29.8 10.2l-29.9 9.2l-36.1 10.3z" fill="#1bff00" stroke="#1bff00"/><path d="M190.2 1558l4.7 4.3l29.8-8.4l27.5-8.4l25.4-8.3l20.6-7.3l27.4-11.1l10.2-4.6l11.2-5.5l9.8-5.4l7.7-4.8l7.8-5.6l5.5-4.7l-6.2-3.8l-5.3 4.7l-7.6 5.6l-7.4 4.6l-9.9 5.5l-9.1 4.6l-12 5.5l-27.3 10.9l-20.5 7.4l-25.2 8.2l-27.5 8.3l-29.6 8.3z" fill="#2eff00" stroke="#2eff00"/><path d="M185.5 1553.8l4.7 4.2l29.6-8.3l27.5-8.3l25.2-8.2l20.5-7.4l27.3-10.9l12-5.5l9.1-4.6l9.9-5.5l7.4-4.6l7.6-5.6l5.3-4.7l-6.2-3.7l-5.1 4.6l-7.5 5.6l-7.2 4.6l-9.8 5.5l-9 4.5l-11.9 5.5l-13 5.4l-14.1 5.4l-20.4 7.3l-25 8.2l-27.4 8.2l-29.5 8.3z" fill="#40ff00" stroke="#40ff00"/><path d="M180.8 1549.5l4.7 4.3l29.5-8.3l27.4-8.2l25-8.2l20.4-7.3l14.1-5.4l13-5.4l11.9-5.5l9-4.5l9.8-5.5l7.2-4.6l7.5-5.6l5.1-4.6l-6.2-3.8l-5 4.6l-7.3 5.6l-7.1 4.5l-9.6 5.5l-9 4.5l-11.7 5.4l-12.9 5.4l-14 5.4l-20.2 7.3l-25 8.1l-27.2 8.1l-29.4 8.2z" fill="#52ff00" stroke="#52ff00"/><path d="M176.1 1545.3l4.7 4.2l29.4-8.2l27.2-8.1l25-8.1l20.2-7.3l14-5.4l12.9-5.4l11.7-5.4l9-4.5l9.6-5.5l7.1-4.5l7.3-5.6l5-4.6l-6.2-3.8l-4.9 4.7l-7.1 5.5l-7 4.5l-9.5 5.5l-8.8 4.5l-11.6 5.3l-12.8 5.4l-13.9 5.4l-20.1 7.1l-24.8 8.1l-27.1 8.1l-29.3 8.1z" fill="#64ff00" stroke="#64ff00"/><path d="M171.4 1541.1l4.7 4.2l29.3-8.1l27.1-8.1l24.8-8.1l20.1-7.1l13.9-5.4l12.8-5.4l11.6-5.3l8.8-4.5l9.5-5.5l7-4.5l7.1-5.5l4.9-4.7l-6.3-3.7l-4.7 4.7l-6.9 5.4l-6.9 4.5l-9.3 5.4l-10.5 5.3l-9.8 4.5l-12.6 5.4l-13.8 5.3l-20 7.1l-24.7 8l-26.9 8l-29.2 8.1z" fill="#76ff00" stroke="#76ff00"/><path d="M166.6 1536.9l4.8 4.2l29.2-8.1l26.9-8l24.7-8l22.4-8l13.5-5.3l12.5-5.3l11.4-5.4l8.5-4.5l9.2-5.4l6.6-4.5l5.7-4.6l4.7-4.6l-6.3-3.7l-4.8 4.8l-6.5 5.2l-6.7 4.5l-9.2 5.4l-9.1 4.7l-10.9 5.1l-12.6 5.3l-13.6 5.2l-19.9 7.1l-24.5 7.9l-26.9 8l-29.1 8z" fill="#89ff00" stroke="#89ff00"/><path d="M161.9 1532.8l4.7 4.1l29.1-8l26.9-8l24.5-7.9l22.2-7.9l13.5-5.3l12.4-5.3l9.4-4.5l10.2-5.3l9-5.4l6.5-4.5l5.6-4.5l4.5-4.6l-6.4-3.7l-4.3 4.5l-5.4 4.6l-6.4 4.5l-8.8 5.3l-9.6 5.1l-9.8 4.6l-12.3 5.3l-13.3 5.2l-22.1 7.9l-24.4 7.9l-26.7 7.9l-29 8z" fill="#9bff00" stroke="#9bff00"/><path d="M157.2 1528.6l4.7 4.2l29-8l26.7-7.9l24.4-7.9l22.1-7.9l13.3-5.2l12.3-5.3l9.8-4.6l9.6-5.1l8.8-5.3l6.4-4.5l5.4-4.6l4.3-4.5l-6.3-3.8l-4.2 4.6l-5.2 4.5l-6.3 4.5l-8.6 5.3l-8.7 4.6l-10.5 5l-12.1 5.3l-13.3 5.2l-21.9 7.8l-24.3 7.9l-26.6 7.8l-28.8 7.9z" fill="#adff00" stroke="#adff00"/><path d="M152.5 1524.4l4.7 4.2l28.8-7.9l26.6-7.8l24.3-7.9l21.9-7.8l13.3-5.2l12.1-5.3l10.5-5l8.7-4.6l8.6-5.3l6.3-4.5l5.2-4.5l4.2-4.6l-6.5-3.7l-4 4.6l-5 4.5l-6.1 4.4l-8.5 5.3l-8.1 4.4l-10.8 5.2l-12 5.2l-13.2 5.2l-21.7 7.7l-24.1 7.8l-26.5 7.8l-28.7 7.8z" fill="#bfff00" stroke="#bfff00"/><path d="M147.8 1520.3l4.7 4.1l28.7-7.8l26.5-7.8l24.1-7.8l21.7-7.7l13.2-5.2l12-5.2l10.8-5.2l8.1-4.4l8.5-5.3l6.1-4.4l5-4.5l4-4.6l-6.4-3.7l-3.8 4.6l-4.9 4.4l-5.9 4.5l-8.4 5.2l-8 4.4l-10.6 5.2l-11.9 5.1l-13 5.2l-21.6 7.7l-24 7.7l-26.3 7.7l-28.6 7.8z" fill="#d1ff00" stroke="#d1ff00"/><path d="M143 1516.2l4.8 4.1l28.6-7.8l26.3-7.7l24-7.7l21.6-7.7l13-5.2l11.9-5.1l10.6-5.2l8-4.4l8.4-5.2l5.9-4.5l4.9-4.4l3.8-4.6l-6.6-3.6l-3.6 4.5l-4.7 4.4l-5.8 4.5l-8.1 5.2l-7.8 4.3l-10.6 5.1l-11.7 5.2l-12.9 5.1l-21.5 7.6l-23.8 7.7l-26.2 7.7l-28.5 7.7z" fill="#e4ff00" stroke="#e4ff00"/><path d="M138.3 1512l4.7 4.2l28.5-7.7l26.2-7.7l23.8-7.7l21.5-7.6l12.9-5.1l11.7-5.2l10.6-5.1l7.8-4.3l8.1-5.2l5.8-4.5l4.7-4.4l3.6-4.5l-6.5-3.7l-3.4 4.5l-4.5 4.4l-5.9 4.6l-7.7 5l-7.7 4.3l-10.4 5.1l-11.7 5.1l-12.8 5.1l-21.2 7.6l-23.7 7.6l-26.1 7.6l-28.3 7.6z" fill="#f6ff00" stroke="#f6ff00"/><path d="M133.6 1507.9l4.7 4.1l31.3-8.4l25.8-7.6l23.5-7.6l21-7.6l12.6-5.1l11.4-5.1l9.7-4.9l8-4.6l6.6-4.3l5.6-4.4l4.5-4.4l3.4-4.5l-4.4-2.5l-2.8-0.1l-3.4 4.3l-4.5 4.4l-5.7 4.3l-6.6 4.4l-7.6 4.2l-10.2 5.1l-22 9.3l-20.8 7.5l-23.3 7.6l-25.6 7.5l-31.2 8.4z" fill="#fff600" stroke="#fff600"/><path d="M128.8 1503.9l4.8 4l28.2-7.5l25.9-7.6l23.5-7.5l21.1-7.6l22.3-9.2l8.9-4.3l9.4-5.1l6.8-4.3l6.5-4.9l4.9-4.7l3.4-4.3l-8.9-0.5l-3.4 3.7l-5 4.4l-6.1 4.3l-7 4.3l-8 4.2l-8.9 4.2l-20.2 8.4l-20.9 7.5l-23.4 7.5l-25.8 7.4l-28.1 7.6z" fill="#ffe400" stroke="#ffe400"/><path d="M124.1 1499.8l4.7 4.1l28.1-7.6l23-6.6l21.2-6.7l19.2-6.6l23.1-9.2l9.3-4.2l9.8-5.1l7.3-4.2l6.3-4.3l5.2-4.4l4.3-4.6l-9.3-0.3l-4.2 3.8l-5.7 4.3l-6.3 4l-6.5 3.7l-17.6 8.3l-21 8.3l-19.1 6.6l-21 6.6l-22.9 6.6l-27.9 7.5z" fill="#ffd100" stroke="#ffd100"/><path d="M119.3 1495.7l4.8 4.1l24.9-6.6l23.1-6.6l18.7-5.8l19.6-6.6l23.7-9.1l17.9-8.4l7.7-4.2l6.7-4.3l5.7-4.3l4.2-3.8l-9.9-0.2l-4.8 3.8l-5 3.4l-13.6 7.5l-16.4 7.5l-21.4 8.2l-16.9 5.7l-21.1 6.6l-23.1 6.5l-24.8 6.6z" fill="#ffbf00" stroke="#ffbf00"/><path d="M114.6 1491.7l4.7 4l42.3-11.5l19-5.7l17.5-5.7l22.4-8.2l19.1-8.3l8.3-4.2l7.3-4.2l6.4-4.2l4.8-3.8l-10.6-0.1l-5.2 3.6l-5.5 3.3l-14.6 7.5l-17.5 7.4l-20.1 7.3l-17.4 5.7l-18.9 5.7l-42 11.4z" fill="#ffad00" stroke="#ffad00"/><path d="M109.8 1487.6l4.8 4.1l39.2-10.6l31.8-9.8l23.2-8.1l19.9-8.2l14.9-7.4l7-4.2l5.2-3.6l-11.3 0l-9.7 5.7l-11.7 5.7l-13.5 5.7l-15 5.7l-16.6 5.7l-20.9 6.4l-22.7 6.5l-24.6 6.4z" fill="#ff9b00" stroke="#ff9b00"/><path d="M105 1483.6l4.8 4l33.3-8.9l27.3-8l24.2-8.1l19.5-7.5l17.5-8l6.8-3.6l6.1-3.7l-12.3 0.1l-9.6 5.1l-12.5 5.7l-12.1 4.9l-15.6 5.6l-17.1 5.6l-18.7 5.6l-41.6 11.2z" fill="#ff8900" stroke="#ff8900"/><path d="M100.2 1479.6l4.8 4l27.4-7.2l22.4-6.4l25.3-8l20-7.2l17.3-7.3l14.8-7.6l-13.3 0.4l-10.7 5.1l-11.5 4.8l-12.7 4.8l-13.9 4.7l-31.2 9.6l-38.7 10.3z" fill="#ff7600" stroke="#ff7600"/><path d="M95.5 1475.6l4.7 4l38.7-10.3l26.3-8l21-7.1l18.3-7.2l14.4-6.7l-14.7 0.6l-19.1 7.9l-25.1 8.7l-28.9 8.6l-35.6 9.5z" fill="#ff6400" stroke="#ff6400"/><path d="M90.7 1471.6l4.8 4l24.2-6.3l25-7.1l22.5-7.1l20-7.1l17-7.1l-16.6 1l-18.7 7l-24.1 7.9l-24.3 7l-29.8 7.8z" fill="#ff5200" stroke="#ff5200"/><path d="M85.9 1467.6l4.8 4l3.1-0.8l29.5-7.8l24.1-7l21.5-7.1l18.7-7l-19 1.4l-16.6 5.7l-20.1 6.2l-22 6.2l-24 6.2z" fill="#ff4000" stroke="#ff4000"/><path d="M81.1 1463.7l4.8 3.9l24-6.2l22-6.2l20.1-6.2l16.6-5.7l-22.6 2.2l-29.9 9l-35 9.2z" fill="#ff2e00" stroke="#ff2e00"/><path d="M76.3 1459.7l4.8 4l35-9.2l29.9-9l-29.1 3.5l-40.6 10.7z" fill="#ff1b00" stroke="#ff1b00"/><path d="M71.5 1455.8l4.8 3.9l40.6-10.7l-22.6 3.1l-22.8 3.7z" fill="#ff0900" stroke="#ff0900"/></g>
<path d="M71.5 1455.8L84.6 1453.6L97.5 1451.7L110.2 1449.9L122.6 1448.2L134.9 1446.7L147 1445.4L158.9 1444.2L170.6 1443.2L182.1 1442.3L193.4 1441.5L204.5 1440.9L215.5 1440.4L226.3 1440.1L236.9 1439.8L247.3 1439.7L257.6 1439.8L267.8 1439.9L277.8 1440.2L287.6 1440.5L297.3 1441M71.5 1455.8L83.2 1465.4L95 1475.2L107 1485.2L119.1 1495.5L131.4 1506.1L143.8 1516.8L156.4 1527.9L169.1 1539.2L182.1 1550.7L195.1 1562.5L208.4 1574.6L221.8 1586.9L235.4 1599.5L249.1 1612.4L263 1625.6L277.1 1639.1L291.4 1652.9L305.9 1666.9L320.5 1681.3L335.4 1696M77.3 1460.6L90.4 1458.3L103.3 1456.2L116 1454.3L128.4 1452.6L140.7 1451L152.7 1449.6L164.6 1448.3L176.3 1447.2L187.8 1446.2L199.1 1445.4L210.2 1444.7L221.1 1444.1L231.9 1443.7L242.5 1443.4L253 1443.2L263.2 1443.1L273.4 1443.2L283.3 1443.4L293.1 1443.7L302.8 1444.1M78.1 1454.7L89.7 1464.2L101.5 1473.9L113.5 1483.8L125.6 1494L137.9 1504.4L150.3 1515.1L162.9 1526L175.6 1537.2L188.5 1548.6L201.6 1560.3L214.8 1572.2L228.2 1584.5L241.7 1597L255.4 1609.7L269.3 1622.8L283.4 1636.1L297.7 1649.7L312.1 1663.7L326.7 1677.9L341.5 1692.4M83.2 1465.4L96.2 1463L109.1 1460.9L121.8 1458.8L134.2 1457L146.5 1455.3L158.5 1453.8L170.4 1452.5L182 1451.2L193.5 1450.2L204.8 1449.3L215.9 1448.5L226.8 1447.8L237.6 1447.3L248.2 1446.9L258.6 1446.7L268.9 1446.5L279 1446.5L288.9 1446.7L298.7 1446.9L308.3 1447.2M84.6 1453.6L96.2 1463L108 1472.6L120 1482.5L132.1 1492.5L144.3 1502.9L156.7 1513.4L169.3 1524.2L182 1535.3L194.9 1546.6L207.9 1558.1L221.1 1570L234.5 1582.1L248 1594.4L261.7 1607.1L275.6 1620L289.7 1633.2L303.9 1646.7L318.3 1660.5L332.9 1674.5L347.7 1688.9M89 1470.3L102.1 1467.8L115 1465.5L127.6 1463.4L140.1 1461.5L152.3 1459.7L164.3 1458.1L176.2 1456.7L187.8 1455.3L199.3 1454.2L210.5 1453.2L221.6 1452.3L232.6 1451.6L243.3 1451L253.9 1450.5L264.3 1450.2L274.5 1450L284.6 1449.9L294.5 1450L304.3 1450.1L313.9 1450.4M91.1 1452.6L102.7 1461.9L114.5 1471.4L126.4 1481.2L138.5 1491.1L150.8 1501.3L163.1 1511.8L175.7 1522.5L188.4 1533.4L201.2 1544.6L214.3 1556L227.4 1567.7L240.8 1579.7L254.3 1591.9L268 1604.5L281.8 1617.2L295.8 1630.3L310.1 1643.7L324.4 1657.3L339 1671.3L353.7 1685.5M95 1475.2L108 1472.6L120.9 1470.3L133.5 1468.1L145.9 1466L158.2 1464.2L170.2 1462.4L182 1460.9L193.6 1459.5L205.1 1458.3L216.3 1457.2L227.4 1456.2L238.3 1455.4L249 1454.7L259.6 1454.2L270 1453.8L280.2 1453.5L290.3 1453.3L300.2 1453.3L310 1453.4L319.6 1453.6M97.5 1451.7L109.1 1460.9L120.9 1470.3L132.8 1479.9L144.9 1489.8L157.1 1499.8L169.5 1510.2L182 1520.8L194.7 1531.6L207.5 1542.7L220.5 1554L233.7 1565.6L247 1577.4L260.5 1589.5L274.1 1601.9L288 1614.6L302 1627.5L316.2 1640.7L330.5 1654.2L345 1668L359.8 1682.1M101 1480.2L114 1477.5L126.8 1475L139.5 1472.7L151.9 1470.6L164.1 1468.6L176.1 1466.8L187.9 1465.2L199.5 1463.7L210.9 1462.4L222.2 1461.2L233.2 1460.2L244.1 1459.3L254.8 1458.5L265.4 1457.9L275.7 1457.4L285.9 1457.1L296 1456.8L305.9 1456.7L315.6 1456.7L325.2 1456.8M103.8 1450.7L115.5 1459.8L127.2 1469.1L139.1 1478.7L151.2 1488.4L163.4 1498.4L175.8 1508.6L188.3 1519.1L200.9 1529.8L213.7 1540.8L226.7 1552L239.9 1563.5L253.2 1575.2L266.6 1587.2L280.3 1599.4L294.1 1612L308 1624.8L322.2 1637.8L336.5 1651.2L351 1664.9L365.7 1678.8M107 1485.2L120 1482.5L132.8 1479.9L145.4 1477.5L157.8 1475.3L170 1473.2L182 1471.3L193.8 1469.6L205.4 1468L216.8 1466.6L228 1465.3L239.1 1464.2L249.9 1463.2L260.6 1462.4L271.1 1461.7L281.5 1461.1L291.7 1460.6L301.7 1460.3L311.6 1460.1L321.3 1460.1L330.9 1460.1M110.2 1449.9L121.8 1458.8L133.5 1468.1L145.4 1477.5L157.5 1487.1L169.6 1497L182 1507.1L194.5 1517.5L207.1 1528.1L219.9 1539L232.9 1550L246 1561.4L259.3 1573L272.7 1584.9L286.3 1597L300.1 1609.4L314.1 1622.1L328.2 1635L342.5 1648.3L357 1661.8L371.6 1675.6M113 1490.4L126 1487.5L138.8 1484.8L151.4 1482.3L163.8 1480L176 1477.8L187.9 1475.8L199.7 1474L211.3 1472.3L222.7 1470.8L233.9 1469.4L244.9 1468.2L255.8 1467.2L266.5 1466.2L277 1465.4L287.3 1464.8L297.5 1464.3L307.5 1463.9L317.4 1463.6L327.1 1463.5L336.6 1463.5M116.4 1449L128 1457.9L139.8 1467L151.6 1476.3L163.7 1485.9L175.8 1495.7L188.2 1505.7L200.6 1516L213.3 1526.4L226 1537.2L239 1548.2L252.1 1559.4L265.3 1570.9L278.8 1582.6L292.3 1594.6L306.1 1606.9L320 1619.4L334.1 1632.3L348.4 1645.4L362.9 1658.8L377.5 1672.4M119.1 1495.5L132.1 1492.5L144.9 1489.8L157.5 1487.1L169.8 1484.7L182 1482.4L193.9 1480.4L205.7 1478.4L217.3 1476.7L228.6 1475.1L239.8 1473.6L250.8 1472.3L261.7 1471.2L272.3 1470.2L282.8 1469.3L293.1 1468.6L303.3 1468L313.3 1467.5L323.1 1467.2L332.8 1466.9L342.4 1466.8M122.6 1448.2L134.2 1457L145.9 1466L157.8 1475.3L169.8 1484.7L182 1494.4L194.3 1504.3L206.7 1514.4L219.3 1524.8L232.1 1535.4L245 1546.3L258.1 1557.4L271.3 1568.8L284.7 1580.4L298.3 1592.3L312 1604.5L325.9 1616.9L340 1629.6L354.3 1642.5L368.7 1655.8L383.3 1669.3M125.2 1500.8L138.2 1497.7L151 1494.8L163.5 1492.1L175.9 1489.5L188 1487.2L200 1485L211.7 1483L223.3 1481.1L234.6 1479.4L245.8 1477.9L256.8 1476.5L267.6 1475.2L278.2 1474.1L288.7 1473.2L299 1472.4L309.2 1471.7L319.1 1471.1L329 1470.7L338.6 1470.4L348.1 1470.3M128.8 1447.4L140.4 1456.2L152.1 1465.1L163.9 1474.2L175.9 1483.6L188.1 1493.1L200.4 1502.9L212.8 1513L225.4 1523.3L238.1 1533.8L251 1544.5L264.1 1555.5L277.3 1566.8L290.7 1578.3L304.2 1590L317.9 1602.1L331.8 1614.4L345.8 1626.9L360.1 1639.8L374.5 1652.9L389 1666.3M131.4 1506.1L144.3 1502.9L157.1 1499.8L169.6 1497L182 1494.4L194.1 1491.9L206 1489.6L217.7 1487.5L229.3 1485.6L240.6 1483.8L251.8 1482.1L262.8 1480.7L273.6 1479.3L284.2 1478.2L294.6 1477.1L304.9 1476.2L315 1475.5L325 1474.8L334.8 1474.3L344.5 1474L354 1473.7M134.9 1446.7L146.5 1455.3L158.2 1464.2L170 1473.2L182 1482.4L194.1 1491.9L206.4 1501.6L218.8 1511.6L231.4 1521.7L244.1 1532.1L257 1542.8L270 1553.7L283.2 1564.8L296.5 1576.2L310.1 1587.8L323.7 1599.7L337.6 1611.9L351.6 1624.3L365.8 1637.1L380.2 1650L394.7 1663.3M137.6 1511.4L150.5 1508.1L163.3 1505L175.8 1502.1L188.1 1499.3L200.2 1496.7L212.1 1494.4L223.8 1492.1L235.3 1490.1L246.7 1488.2L257.8 1486.5L268.8 1484.9L279.5 1483.5L290.2 1482.2L300.6 1481.1L310.9 1480.1L321 1479.3L330.9 1478.6L340.7 1478L350.3 1477.6L359.8 1477.2M141 1446L152.5 1454.6L164.2 1463.3L176 1472.2L188 1481.4L200.1 1490.8L212.3 1500.4L224.7 1510.2L237.3 1520.3L250 1530.6L262.9 1541.1L275.9 1551.9L289 1562.9L302.4 1574.2L315.9 1585.7L329.5 1597.5L343.4 1609.5L357.3 1621.8L371.5 1634.4L385.9 1647.3L400.4 1660.4M143.8 1516.8L156.7 1513.4L169.5 1510.2L182 1507.1L194.3 1504.3L206.4 1501.6L218.3 1499.1L229.9 1496.8L241.4 1494.7L252.8 1492.7L263.9 1490.9L274.8 1489.2L285.6 1487.7L296.2 1486.4L306.6 1485.2L316.8 1484.1L326.9 1483.2L336.8 1482.4L346.6 1481.7L356.2 1481.2L365.7 1480.8M147 1445.4L158.5 1453.8L170.2 1462.4L182 1471.3L193.9 1480.4L206 1489.6L218.3 1499.1L230.6 1508.9L243.2 1518.8L255.9 1529L268.7 1539.4L281.7 1550.1L294.8 1561L308.1 1572.2L321.6 1583.6L335.3 1595.2L349.1 1607.2L363 1619.4L377.2 1631.8L391.5 1644.5L406 1657.5M150.1 1522.3L163 1518.8L175.7 1515.4L188.2 1512.3L200.5 1509.3L212.6 1506.6L224.4 1504L236.1 1501.6L247.6 1499.3L258.9 1497.2L270 1495.3L280.9 1493.6L291.6 1492L302.2 1490.5L312.6 1489.2L322.8 1488.1L332.9 1487.1L342.8 1486.2L352.5 1485.5L362.1 1484.9L371.6 1484.4M153 1444.8L164.5 1453.1L176.1 1461.7L187.9 1470.4L199.8 1479.4L211.9 1488.6L224.1 1498L236.5 1507.6L249 1517.4L261.7 1527.5L274.5 1537.8L287.5 1548.4L300.6 1559.2L313.9 1570.2L327.3 1581.5L340.9 1593.1L354.7 1604.9L368.7 1617L382.8 1629.3L397.1 1641.9L411.5 1654.7M156.4 1527.9L169.3 1524.2L182 1520.8L194.5 1517.5L206.7 1514.4L218.8 1511.6L230.6 1508.9L242.3 1506.4L253.8 1504L265 1501.8L276.1 1499.8L287 1498L297.7 1496.3L308.3 1494.8L318.7 1493.4L328.9 1492.1L338.9 1491L348.8 1490.1L358.5 1489.3L368.1 1488.6L377.5 1488M158.9 1444.2L170.4 1452.5L182 1460.9L193.8 1469.6L205.7 1478.4L217.7 1487.5L229.9 1496.8L242.3 1506.4L254.8 1516.1L267.4 1526.1L280.2 1536.3L293.2 1546.7L306.3 1557.4L319.6 1568.4L333 1579.5L346.6 1591L360.3 1602.7L374.2 1614.6L388.3 1626.8L402.6 1639.3L417 1652M162.8 1533.5L175.6 1529.7L188.3 1526.1L200.8 1522.8L213 1519.6L225.1 1516.6L236.9 1513.8L248.5 1511.2L260 1508.8L271.2 1506.5L282.3 1504.4L293.2 1502.4L303.9 1500.7L314.4 1499L324.8 1497.6L334.9 1496.2L345 1495.1L354.8 1494L364.5 1493.1L374.1 1492.4L383.5 1491.7M164.7 1443.7L176.2 1451.8L187.8 1460.2L199.6 1468.8L211.5 1477.5L223.5 1486.5L235.7 1495.7L248.1 1505.2L260.5 1514.8L273.2 1524.7L285.9 1534.8L298.9 1545.1L311.9 1555.7L325.2 1566.5L338.6 1577.6L352.1 1588.9L365.9 1600.5L379.8 1612.3L393.8 1624.4L408 1636.7L422.4 1649.3M169.1 1539.2L182 1535.3L194.7 1531.6L207.1 1528.1L219.3 1524.8L231.4 1521.7L243.2 1518.8L254.8 1516.1L266.2 1513.6L277.4 1511.2L288.5 1509L299.4 1507L310 1505.1L320.5 1503.4L330.9 1501.8L341.1 1500.4L351.1 1499.1L360.9 1498L370.6 1497L380.1 1496.2L389.5 1495.5M170.6 1443.2L182 1451.2L193.6 1459.5L205.4 1468L217.3 1476.7L229.3 1485.6L241.4 1494.7L253.8 1504L266.2 1513.6L278.8 1523.3L291.6 1533.3L304.5 1543.6L317.5 1554L330.8 1564.8L344.1 1575.7L357.7 1586.9L371.4 1598.4L385.2 1610.1L399.3 1622L413.5 1634.2L427.8 1646.7M175.6 1544.9L188.4 1540.9L201.1 1537.1L213.5 1533.5L225.7 1530.1L237.7 1526.9L249.5 1523.9L261.1 1521.1L272.5 1518.4L283.7 1515.9L294.7 1513.7L305.6 1511.5L316.2 1509.6L326.7 1507.7L337 1506.1L347.2 1504.6L357.2 1503.2L367 1502L376.7 1501L386.2 1500L395.5 1499.2M176.3 1442.7L187.8 1450.7L199.4 1458.9L211.1 1467.3L223 1475.9L235 1484.7L247.1 1493.7L259.4 1502.9L271.9 1512.4L284.4 1522L297.2 1531.9L310.1 1542.1L323.1 1552.4L336.3 1563L349.6 1573.9L363.2 1584.9L376.8 1596.3L390.7 1607.9L404.7 1619.7L418.8 1631.8L433.2 1644.2M182.1 1550.7L194.9 1546.6L207.5 1542.7L219.9 1539L232.1 1535.4L244.1 1532.1L255.9 1529L267.4 1526.1L278.8 1523.3L290 1520.8L301 1518.4L311.8 1516.1L322.5 1514.1L332.9 1512.2L343.2 1510.4L353.4 1508.8L363.3 1507.4L373.1 1506.1L382.8 1505L392.3 1503.9L401.6 1503.1M182.1 1442.3L193.5 1450.2L205.1 1458.3L216.8 1466.6L228.6 1475.1L240.6 1483.8L252.8 1492.7L265 1501.8L277.4 1511.2L290 1520.8L302.7 1530.6L315.6 1540.6L328.6 1550.8L341.8 1561.3L355.1 1572.1L368.6 1583L382.2 1594.3L396.1 1605.7L410 1617.4L424.2 1629.4L438.5 1641.7M188.6 1556.6L201.4 1552.3L214 1548.3L226.4 1544.5L238.5 1540.8L250.5 1537.4L262.3 1534.2L273.8 1531.2L285.2 1528.3L296.3 1525.6L307.3 1523.1L318.1 1520.8L328.8 1518.7L339.2 1516.7L349.5 1514.8L359.6 1513.1L369.5 1511.6L379.3 1510.2L388.9 1509L398.4 1507.9L407.7 1506.9M187.7 1441.9L199.2 1449.7L210.7 1457.7L222.4 1465.9L234.3 1474.3L246.2 1482.9L258.3 1491.8L270.6 1500.8L283 1510.1L295.5 1519.5L308.2 1529.2L321.1 1539.2L334.1 1549.3L347.2 1559.7L360.5 1570.3L374 1581.2L387.6 1592.3L401.4 1603.6L415.3 1615.2L429.5 1627.1L443.7 1639.2M195.1 1562.5L207.9 1558.1L220.5 1554L232.9 1550L245 1546.3L257 1542.8L268.7 1539.4L280.2 1536.3L291.6 1533.3L302.7 1530.6L313.7 1528L324.5 1525.5L335.1 1523.3L345.5 1521.2L355.7 1519.3L365.8 1517.5L375.8 1515.9L385.5 1514.4L395.1 1513.1L404.6 1511.9L413.8 1510.9M193.4 1441.5L204.8 1449.3L216.3 1457.2L228 1465.3L239.8 1473.6L251.8 1482.1L263.9 1490.9L276.1 1499.8L288.5 1509L301 1518.4L313.7 1528L326.5 1537.8L339.5 1547.8L352.6 1558.1L365.9 1568.6L379.3 1579.4L392.9 1590.4L406.7 1601.6L420.6 1613.1L434.7 1624.8L448.9 1636.8M201.7 1568.5L214.5 1564L227.1 1559.7L239.4 1555.7L251.5 1551.8L263.5 1548.2L275.2 1544.7L286.7 1541.5L298 1538.4L309.1 1535.5L320.1 1532.8L330.8 1530.3L341.4 1528L351.8 1525.8L362.1 1523.8L372.1 1521.9L382 1520.2L391.7 1518.6L401.3 1517.2L410.7 1516L420 1514.8M199 1441.2L210.4 1448.8L221.9 1456.7L233.6 1464.7L245.4 1473L257.3 1481.4L269.4 1490L281.6 1498.9L293.9 1508L306.4 1517.2L319.1 1526.7L331.9 1536.5L344.8 1546.4L357.9 1556.6L371.2 1567L384.6 1577.6L398.2 1588.5L411.9 1599.6L425.8 1611L439.9 1622.6L454.1 1634.5M208.4 1574.6L221.1 1570L233.7 1565.6L246 1561.4L258.1 1557.4L270 1553.7L281.7 1550.1L293.2 1546.7L304.5 1543.6L315.6 1540.6L326.5 1537.8L337.2 1535.2L347.8 1532.7L358.2 1530.4L368.4 1528.3L378.4 1526.3L388.3 1524.5L398 1522.9L407.6 1521.4L417 1520.1L426.2 1518.9M204.5 1440.9L215.9 1448.5L227.4 1456.2L239.1 1464.2L250.8 1472.3L262.8 1480.7L274.8 1489.2L287 1498L299.4 1507L311.8 1516.1L324.5 1525.5L337.2 1535.2L350.2 1545L363.2 1555.1L376.5 1565.4L389.9 1575.9L403.4 1586.7L417.1 1597.7L431 1609L445 1620.5L459.2 1632.2M215.1 1580.7L227.8 1576L240.3 1571.5L252.6 1567.2L264.7 1563.1L276.6 1559.2L288.2 1555.5L299.7 1552.1L311 1548.8L322.1 1545.7L333 1542.8L343.7 1540.1L354.2 1537.5L364.6 1535.1L374.8 1532.9L384.8 1530.9L394.6 1529L404.3 1527.2L413.9 1525.6L423.2 1524.2L432.5 1522.9M210 1440.6L221.4 1448.1L232.9 1455.8L244.5 1463.7L256.3 1471.7L268.2 1480L280.2 1488.5L292.4 1497.1L304.7 1506L317.2 1515.1L329.8 1524.4L342.5 1533.9L355.4 1543.7L368.5 1553.6L381.7 1563.8L395.1 1574.2L408.6 1584.9L422.3 1595.8L436.1 1607L450.1 1618.3L464.3 1630M221.8 1586.9L234.5 1582.1L247 1577.4L259.3 1573L271.3 1568.8L283.2 1564.8L294.8 1561L306.3 1557.4L317.5 1554L328.6 1550.8L339.5 1547.8L350.2 1545L360.7 1542.4L371 1539.9L381.2 1537.6L391.2 1535.4L401 1533.4L410.7 1531.6L420.2 1529.9L429.5 1528.4L438.7 1527M215.5 1440.4L226.8 1447.8L238.3 1455.4L249.9 1463.2L261.7 1471.2L273.6 1479.3L285.6 1487.7L297.7 1496.3L310 1505.1L322.5 1514.1L335.1 1523.3L347.8 1532.7L360.7 1542.4L373.7 1552.2L386.9 1562.3L400.2 1572.6L413.7 1583.2L427.4 1594L441.2 1605L455.2 1616.3L469.3 1627.8M228.5 1593.2L241.2 1588.2L253.7 1583.4L266 1578.9L278 1574.6L289.8 1570.5L301.5 1566.6L312.9 1562.9L324.1 1559.4L335.2 1556.1L346 1552.9L356.7 1550L367.2 1547.3L377.5 1544.7L387.6 1542.3L397.6 1540L407.4 1537.9L417.1 1536L426.5 1534.3L435.9 1532.7L445 1531.2M220.9 1440.2L232.2 1447.6L243.7 1455.1L255.3 1462.8L267 1470.6L278.9 1478.7L290.9 1487L303 1495.5L315.3 1504.2L327.7 1513.1L340.3 1522.2L353 1531.5L365.9 1541.1L378.9 1550.9L392 1560.8L405.4 1571.1L418.8 1581.5L432.4 1592.2L446.2 1603.1L460.2 1614.3L474.3 1625.7M235.4 1599.5L248 1594.4L260.5 1589.5L272.7 1584.9L284.7 1580.4L296.5 1576.2L308.1 1572.2L319.6 1568.4L330.8 1564.8L341.8 1561.3L352.6 1558.1L363.2 1555.1L373.7 1552.2L384 1549.5L394.1 1547L404.1 1544.7L413.8 1542.5L423.5 1540.5L432.9 1538.7L442.2 1537L451.4 1535.4M226.3 1440.1L237.6 1447.3L249 1454.7L260.6 1462.4L272.3 1470.2L284.2 1478.2L296.2 1486.4L308.3 1494.8L320.5 1503.4L332.9 1512.2L345.5 1521.2L358.2 1530.4L371 1539.9L384 1549.5L397.1 1559.4L410.4 1569.5L423.9 1579.9L437.5 1590.5L451.2 1601.3L465.1 1612.3L479.2 1623.6M242.2 1606L254.9 1600.7L267.3 1595.7L279.5 1590.9L291.5 1586.3L303.3 1582L314.9 1577.8L326.2 1573.9L337.4 1570.2L348.4 1566.7L359.2 1563.3L369.8 1560.2L380.3 1557.2L390.6 1554.5L400.6 1551.8L410.6 1549.4L420.3 1547.1L429.9 1545L439.4 1543.1L448.6 1541.3L457.8 1539.7M231.6 1439.9L242.9 1447.1L254.3 1454.5L265.9 1462L277.6 1469.7L289.4 1477.6L301.4 1485.7L313.5 1494.1L325.7 1502.6L338.1 1511.3L350.6 1520.2L363.3 1529.3L376.1 1538.7L389.1 1548.3L402.2 1558.1L415.5 1568.1L428.9 1578.3L442.4 1588.8L456.2 1599.5L470.1 1610.4L484.1 1621.6M249.1 1612.4L261.7 1607.1L274.1 1601.9L286.3 1597L298.3 1592.3L310.1 1587.8L321.6 1583.6L333 1579.5L344.1 1575.7L355.1 1572.1L365.9 1568.6L376.5 1565.4L386.9 1562.3L397.1 1559.4L407.2 1556.7L417.1 1554.2L426.8 1551.8L436.4 1549.6L445.8 1547.6L455.1 1545.7L464.2 1544M236.9 1439.8L248.2 1446.9L259.6 1454.2L271.1 1461.7L282.8 1469.3L294.6 1477.1L306.6 1485.2L318.7 1493.4L330.9 1501.8L343.2 1510.4L355.7 1519.3L368.4 1528.3L381.2 1537.6L394.1 1547L407.2 1556.7L420.4 1566.6L433.8 1576.8L447.4 1587.1L461.1 1597.7L474.9 1608.6L489 1619.6M256 1619L268.7 1613.5L281 1608.2L293.2 1603.2L305.1 1598.3L316.9 1593.8L328.4 1589.4L339.7 1585.2L350.9 1581.3L361.8 1577.5L372.6 1574L383.2 1570.6L393.5 1567.4L403.8 1564.5L413.8 1561.6L423.7 1559L433.4 1556.6L442.9 1554.3L452.3 1552.1L461.6 1550.2L470.6 1548.3M242.1 1439.8L253.4 1446.8L264.8 1454L276.3 1461.4L288 1468.9L299.8 1476.7L311.7 1484.6L323.8 1492.7L336 1501.1L348.3 1509.6L360.8 1518.4L373.4 1527.3L386.2 1536.5L399.1 1545.8L412.2 1555.4L425.4 1565.2L438.8 1575.3L452.3 1585.5L465.9 1596L479.8 1606.8L493.8 1617.7M263 1625.6L275.6 1620L288 1614.6L300.1 1609.4L312 1604.5L323.7 1599.7L335.3 1595.2L346.6 1591L357.7 1586.9L368.6 1583L379.3 1579.4L389.9 1575.9L400.2 1572.6L410.4 1569.5L420.4 1566.6L430.3 1563.9L440 1561.3L449.5 1558.9L458.9 1556.7L468.1 1554.7L477.1 1552.7M247.3 1439.7L258.6 1446.7L270 1453.8L281.5 1461.1L293.1 1468.6L304.9 1476.2L316.8 1484.1L328.9 1492.1L341.1 1500.4L353.4 1508.8L365.8 1517.5L378.4 1526.3L391.2 1535.4L404.1 1544.7L417.1 1554.2L430.3 1563.9L443.6 1573.8L457.1 1584L470.8 1594.4L484.6 1605L498.5 1615.8M270.1 1632.3L282.6 1626.5L295 1621L307.1 1615.7L319 1610.6L330.7 1605.8L342.1 1601.2L353.4 1596.8L364.5 1592.6L375.4 1588.6L386.1 1584.8L396.6 1581.3L407 1577.9L417.1 1574.7L427.1 1571.7L436.9 1568.8L446.6 1566.2L456.1 1563.7L465.4 1561.4L474.6 1559.2L483.6 1557.2M252.5 1439.7L263.8 1446.6L275.1 1453.6L286.6 1460.8L298.2 1468.2L310 1475.8L321.9 1483.6L333.9 1491.6L346.1 1499.7L358.4 1508.1L370.8 1516.7L383.4 1525.4L396.1 1534.4L409 1543.6L422 1553L435.2 1562.6L448.5 1572.4L461.9 1582.5L475.5 1592.8L489.3 1603.3L503.3 1614M277.1 1639.1L289.7 1633.2L302 1627.5L314.1 1622.1L325.9 1616.9L337.6 1611.9L349.1 1607.2L360.3 1602.7L371.4 1598.4L382.2 1594.3L392.9 1590.4L403.4 1586.7L413.7 1583.2L423.9 1579.9L433.8 1576.8L443.6 1573.8L453.3 1571.1L462.7 1568.5L472 1566.1L481.2 1563.8L490.2 1561.7M257.6 1439.8L268.9 1446.5L280.2 1453.5L291.7 1460.6L303.3 1468L315 1475.5L326.9 1483.2L338.9 1491L351.1 1499.1L363.3 1507.4L375.8 1515.9L388.3 1524.5L401 1533.4L413.8 1542.5L426.8 1551.8L440 1561.3L453.3 1571.1L466.7 1581L480.3 1591.2L494 1601.6L507.9 1612.2M284.2 1646L296.8 1639.9L309 1634.1L321.1 1628.5L333 1623.2L344.6 1618.1L356 1613.2L367.3 1608.6L378.3 1604.2L389.1 1600L399.8 1596L410.2 1592.2L420.5 1588.6L430.6 1585.1L440.6 1581.9L450.4 1578.9L460 1576L469.4 1573.3L478.7 1570.8L487.8 1568.5L496.8 1566.3M262.7 1439.8L273.9 1446.5L285.3 1453.4L296.7 1460.5L308.3 1467.7L320 1475.1L331.9 1482.8L343.9 1490.6L356 1498.5L368.3 1506.7L380.7 1515.1L393.2 1523.7L405.9 1532.5L418.7 1541.5L431.6 1550.7L444.8 1560.1L458 1569.8L471.4 1579.6L485 1589.7L498.7 1600L512.6 1610.5M291.4 1652.9L303.9 1646.7L316.2 1640.7L328.2 1635L340 1629.6L351.6 1624.3L363 1619.4L374.2 1614.6L385.2 1610.1L396.1 1605.7L406.7 1601.6L417.1 1597.7L427.4 1594L437.5 1590.5L447.4 1587.1L457.1 1584L466.7 1581L476.1 1578.2L485.4 1575.6L494.5 1573.2L503.4 1570.9M267.8 1439.9L279 1446.5L290.3 1453.3L301.7 1460.3L313.3 1467.5L325 1474.8L336.8 1482.4L348.8 1490.1L360.9 1498L373.1 1506.1L385.5 1514.4L398 1522.9L410.7 1531.6L423.5 1540.5L436.4 1549.6L449.5 1558.9L462.7 1568.5L476.1 1578.2L489.6 1588.2L503.3 1598.4L517.2 1608.8M298.6 1659.9L311.1 1653.5L323.3 1647.4L335.3 1641.6L347.1 1636L358.7 1630.7L370.1 1625.6L381.3 1620.7L392.2 1616L403 1611.6L413.6 1607.3L424 1603.3L434.3 1599.5L444.3 1595.8L454.2 1592.4L463.9 1589.2L473.5 1586.1L482.9 1583.2L492.1 1580.5L501.2 1577.9L510.1 1575.6M272.8 1440L284 1446.6L295.3 1453.3L306.7 1460.2L318.2 1467.3L329.9 1474.6L341.7 1482L353.7 1489.7L365.8 1497.5L378 1505.5L390.3 1513.7L402.8 1522.1L415.4 1530.7L428.2 1539.6L441.1 1548.6L454.2 1557.8L467.4 1567.3L480.8 1576.9L494.3 1586.8L507.9 1596.9L521.7 1607.2M305.9 1666.9L318.3 1660.5L330.5 1654.2L342.5 1648.3L354.3 1642.5L365.8 1637.1L377.2 1631.8L388.3 1626.8L399.3 1622L410 1617.4L420.6 1613.1L431 1609L441.2 1605L451.2 1601.3L461.1 1597.7L470.8 1594.4L480.3 1591.2L489.6 1588.2L498.8 1585.4L507.9 1582.8L516.8 1580.3M277.8 1440.2L288.9 1446.7L300.2 1453.3L311.6 1460.1L323.1 1467.2L334.8 1474.3L346.6 1481.7L358.5 1489.3L370.6 1497L382.8 1505L395.1 1513.1L407.6 1521.4L420.2 1529.9L432.9 1538.7L445.8 1547.6L458.9 1556.7L472 1566.1L485.4 1575.6L498.8 1585.4L512.5 1595.4L526.3 1605.6M313.2 1674.1L325.6 1667.5L337.8 1661.1L349.7 1655L361.4 1649.1L373 1643.5L384.3 1638.1L395.4 1633L406.3 1628.1L417.1 1623.4L427.6 1618.9L438 1614.7L448.2 1610.6L458.2 1606.8L468 1603.1L477.6 1599.7L487.1 1596.4L496.5 1593.3L505.6 1590.4L514.7 1587.6L523.5 1585.1M282.7 1440.3L293.8 1446.8L305.1 1453.3L316.5 1460.1L328 1467L339.7 1474.1L351.4 1481.4L363.3 1488.9L375.4 1496.6L387.5 1504.4L399.9 1512.5L412.3 1520.7L424.9 1529.2L437.6 1537.8L450.5 1546.6L463.5 1555.7L476.6 1564.9L489.9 1574.4L503.4 1584.1L517 1594L530.8 1604.1M320.5 1681.3L332.9 1674.5L345 1668L357 1661.8L368.7 1655.8L380.2 1650L391.5 1644.5L402.6 1639.3L413.5 1634.2L424.2 1629.4L434.7 1624.8L445 1620.5L455.2 1616.3L465.1 1612.3L474.9 1608.6L484.6 1605L494 1601.6L503.3 1598.4L512.5 1595.4L521.5 1592.6L530.3 1589.9M287.6 1440.5L298.7 1446.9L310 1453.4L321.3 1460.1L332.8 1466.9L344.5 1474L356.2 1481.2L368.1 1488.6L380.1 1496.2L392.3 1503.9L404.6 1511.9L417 1520.1L429.5 1528.4L442.2 1537L455.1 1545.7L468.1 1554.7L481.2 1563.8L494.5 1573.2L507.9 1582.8L521.5 1592.6L535.2 1602.6M327.9 1688.6L340.3 1681.7L352.4 1675L364.3 1668.7L376 1662.5L387.4 1656.6L398.7 1651L409.8 1645.6L420.6 1640.4L431.3 1635.5L441.8 1630.8L452.1 1626.3L462.2 1622L472.2 1617.9L481.9 1614.1L491.5 1610.4L501 1606.9L510.2 1603.6L519.4 1600.5L528.3 1597.5L537.1 1594.8M292.4 1440.8L303.5 1447L314.8 1453.5L326.1 1460.1L337.6 1466.9L349.2 1473.8L361 1481L372.8 1488.3L384.8 1495.8L397 1503.5L409.2 1511.4L421.6 1519.4L434.2 1527.7L446.8 1536.2L459.7 1544.8L472.6 1553.7L485.7 1562.7L499 1572L512.4 1581.5L525.9 1591.2L539.6 1601.1M335.4 1696L347.7 1688.9L359.8 1682.1L371.6 1675.6L383.3 1669.3L394.7 1663.3L406 1657.5L417 1652L427.8 1646.7L438.5 1641.7L448.9 1636.8L459.2 1632.2L469.3 1627.8L479.2 1623.6L489 1619.6L498.5 1615.8L507.9 1612.2L517.2 1608.8L526.3 1605.6L535.2 1602.6L544 1599.7M297.3 1441L308.3 1447.2L319.6 1453.6L330.9 1460.1L342.4 1466.8L354 1473.7L365.7 1480.8L377.5 1488L389.5 1495.5L401.6 1503.1L413.8 1510.9L426.2 1518.9L438.7 1527L451.4 1535.4L464.2 1544L477.1 1552.7L490.2 1561.7L503.4 1570.9L516.8 1580.3L530.3 1589.9L544 1599.7" fill="none" stroke="#808080" stroke-opacity="0.7" stroke-width="0.55"/>
<text class="b" transform="translate(70.6 1680.3) skewY(-12) scale(0.82 1)" font-size="18.5" text-anchor="end">65</text>
<text class="b" transform="translate(69 1640.7) skewY(-12) scale(0.82 1)" font-size="18.5" text-anchor="end">70</text>
<text class="b" transform="translate(67.3 1600.5) skewY(-12) scale(0.82 1)" font-size="18.5" text-anchor="end">75</text>
<text class="b" transform="translate(65.5 1559.7) skewY(-12) scale(0.82 1)" font-size="18.5" text-anchor="end">80</text>
<text class="b" transform="translate(63.8 1518.4) skewY(-12) scale(0.82 1)" font-size="18.5" text-anchor="end">85</text>
<text class="b" transform="translate(62.1 1476.5) skewY(-12) scale(0.82 1)" font-size="18.5" text-anchor="end">90</text>
<text class="b" transform="translate(60.3 1434) skewY(-12) scale(0.82 1)" font-size="18.5" text-anchor="end">95</text>
<text class="b" transform="translate(58.5 1390.9) skewY(-12) scale(0.82 1)" font-size="18.5" text-anchor="end">100</text>
<text class="b" transform="matrix(0.841 -0.441 0.750 0.279 76.6 1714)" font-size="18" text-anchor="end">17.0</text>
<text class="b" transform="matrix(0.841 -0.441 0.750 0.279 104.4 1724.3)" font-size="18" text-anchor="end">16.5</text>
<text class="b" transform="matrix(0.841 -0.441 0.750 0.279 133.2 1735)" font-size="18" text-anchor="end">16.0</text>
<text class="b" transform="matrix(0.841 -0.441 0.750 0.279 163 1746.1)" font-size="18" text-anchor="end">15.5</text>
<text class="b" transform="matrix(0.841 -0.441 0.750 0.279 194 1757.6)" font-size="18" text-anchor="end">15.0</text>
<text class="b" transform="matrix(0.841 -0.441 0.750 0.279 226.1 1769.6)" font-size="18" text-anchor="end">14.5</text>
<text class="b" transform="matrix(0.841 -0.441 0.750 0.279 259.5 1782)" font-size="18" text-anchor="end">14.0</text>
<text class="b" transform="matrix(0.841 -0.441 0.750 0.279 294.2 1794.9)" font-size="18" text-anchor="end">13.5</text>
<text class="b" transform="matrix(0.841 -0.441 0.750 0.279 330.3 1808.3)" font-size="18" text-anchor="end">13.0</text>
<text class="b" transform="matrix(0.891 0.331 -0.709 0.371 339.4 1807.7)" font-size="18" text-anchor="start">6.0</text>
<text class="b" transform="matrix(0.891 0.331 -0.709 0.371 369.2 1792.1)" font-size="18" text-anchor="start">6.5</text>
<text class="b" transform="matrix(0.891 0.331 -0.709 0.371 397.6 1777.2)" font-size="18" text-anchor="start">7.0</text>
<text class="b" transform="matrix(0.891 0.331 -0.709 0.371 424.8 1762.9)" font-size="18" text-anchor="start">7.5</text>
<text class="b" transform="matrix(0.891 0.331 -0.709 0.371 450.9 1749.2)" font-size="18" text-anchor="start">8.0</text>
<text class="b" transform="matrix(0.891 0.331 -0.709 0.371 475.8 1736.2)" font-size="18" text-anchor="start">8.5</text>
<text class="b" transform="matrix(0.891 0.331 -0.709 0.371 499.7 1723.6)" font-size="18" text-anchor="start">9.0</text>
<text class="b" transform="matrix(0.891 0.331 -0.709 0.371 522.6 1711.6)" font-size="18" text-anchor="start">9.5</text>
<text class="b" transform="matrix(0.891 0.331 -0.709 0.371 544.7 1700.1)" font-size="18" text-anchor="start">10.0</text>
<path d="M79.3 1669.7l-6.5 1.7M77.9 1630.4l-6.5 1.7M76.4 1590.6l-6.5 1.7M74.9 1550.2l-6.5 1.7M73.4 1509.3l-6.5 1.7M71.9 1467.7l-6.5 1.7M70.4 1425.6l-6.5 1.7M68.8 1382.9l-6.5 1.7M80.8 1708.4L75.5 1711.2M108.6 1718.8L103.3 1721.6M137.4 1729.5L132.1 1732.3M167.2 1740.6L161.9 1743.4M198.2 1752.1L192.9 1754.9M230.4 1764L225 1766.8M263.7 1776.4L258.4 1779.2M298.4 1789.3L293.1 1792.1M334.5 1802.7L329.2 1805.5M334.5 1802.7L340.1 1804.8M364.3 1787.1L369.9 1789.2M392.7 1772.2L398.4 1774.2M419.9 1757.9L425.6 1760M446 1744.3L451.6 1746.3M470.9 1731.2L476.5 1733.3M494.8 1718.6L500.4 1720.7M517.7 1706.6L523.4 1708.7M539.8 1695.1L545.4 1697.2" stroke="#000" stroke-width="2" fill="none"/>
<text class="b" transform="matrix(0.937 0.348 -0.753 0.395 150.4 1780.9)" font-size="19.2" text-anchor="middle"><tspan class="i">x</tspan><tspan font-size="13" dy="3">4</tspan><tspan dy="-3">: Working Cone Length (mm)</tspan></text>
<text class="b" transform="matrix(0.886 -0.464 0.937 0.348 507.7 1766.9)" font-size="15.8" text-anchor="middle"><tspan class="i">x</tspan><tspan font-size="13" dy="3">1</tspan><tspan dy="-3">: Guide Cone Angle (°)</tspan></text>
<text class="b" transform="translate(11 1404) rotate(87) scale(1.1 1)" font-size="20.5" word-spacing="2.5" text-anchor="start">y<tspan font-size="13.5" dy="4">2</tspan><tspan dy="-4">: Extrusion Temperature (°C)</tspan></text>
<text x="14" y="582.5" font-size="33.5">(a)</text><text x="75" y="582.5" font-size="40">y</text><text x="95" y="591.5" font-size="23.5">2</text><text transform="translate(118.6 585.5) scale(1.17 1)" font-size="40">=</text><text class="i" transform="translate(158.5 582.5) scale(1.25 1)" font-size="40">f</text><text x="201" y="582.5" font-size="40" class="i">x</text><text x="219.5" y="591.5" font-size="23.5">1</text><text x="230" y="582.5" font-size="40">,</text><text x="246" y="582.5" font-size="40" class="i">x</text><text x="264.5" y="591.5" font-size="23.5">2</text><text transform="translate(181.5 588) scale(1.05 1.3)" font-size="40">(</text><text transform="translate(281 588) scale(1.05 1.3)" font-size="40">)</text><text x="320" y="582.5" font-size="33.5">response surface</text>
<text x="699.5" y="582.5" font-size="33.5">(b)</text><text x="762.5" y="582.5" font-size="40">y</text><text x="782.5" y="591.5" font-size="23.5">2</text><text transform="translate(806.1 585.5) scale(1.17 1)" font-size="40">=</text><text class="i" transform="translate(846 582.5) scale(1.25 1)" font-size="40">f</text><text x="888.5" y="582.5" font-size="40" class="i">x</text><text x="907" y="591.5" font-size="23.5">1</text><text x="917.5" y="582.5" font-size="40">,</text><text x="933.5" y="582.5" font-size="40" class="i">x</text><text x="952" y="591.5" font-size="23.5">2</text><text transform="translate(869 588) scale(1.05 1.3)" font-size="40">(</text><text transform="translate(968.5 588) scale(1.05 1.3)" font-size="40">)</text><text x="1009" y="582.5" font-size="33.5">contour line</text>
<text x="34" y="1230.5" font-size="33.5">(c)</text><text x="76.5" y="1230.5" font-size="40">y</text><text x="96.5" y="1239.5" font-size="23.5">2</text><text transform="translate(120.1 1233.5) scale(1.17 1)" font-size="40">=</text><text class="i" transform="translate(160 1230.5) scale(1.25 1)" font-size="40">f</text><text x="202.5" y="1230.5" font-size="40" class="i">x</text><text x="221" y="1239.5" font-size="23.5">1</text><text x="231.5" y="1230.5" font-size="40">,</text><text x="247.5" y="1230.5" font-size="40" class="i">x</text><text x="266" y="1239.5" font-size="23.5">3</text><text transform="translate(183 1236) scale(1.05 1.3)" font-size="40">(</text><text transform="translate(282.5 1236) scale(1.05 1.3)" font-size="40">)</text><text x="321" y="1230.5" font-size="33.5">response surface</text>
<text x="717.5" y="1230.5" font-size="33.5">(d)</text><text x="779" y="1230.5" font-size="40">y</text><text x="799" y="1239.5" font-size="23.5">2</text><text transform="translate(822.6 1233.5) scale(1.17 1)" font-size="40">=</text><text class="i" transform="translate(862.5 1230.5) scale(1.25 1)" font-size="40">f</text><text x="905" y="1230.5" font-size="40" class="i">x</text><text x="923.5" y="1239.5" font-size="23.5">1</text><text x="934" y="1230.5" font-size="40">,</text><text x="950" y="1230.5" font-size="40" class="i">x</text><text x="968.5" y="1239.5" font-size="23.5">3</text><text transform="translate(885.5 1236) scale(1.05 1.3)" font-size="40">(</text><text transform="translate(985 1236) scale(1.05 1.3)" font-size="40">)</text><text x="1024" y="1230.5" font-size="33.5">contour line</text>
<text x="42.5" y="1916.5" font-size="33.5">(e)</text><text x="105" y="1916.5" font-size="40">y</text><text x="125" y="1925.5" font-size="23.5">2</text><text transform="translate(148.6 1919.5) scale(1.17 1)" font-size="40">=</text><text class="i" transform="translate(188.5 1916.5) scale(1.25 1)" font-size="40">f</text><text x="231" y="1916.5" font-size="40" class="i">x</text><text x="249.5" y="1925.5" font-size="23.5">1</text><text x="260" y="1916.5" font-size="40">,</text><text x="276" y="1916.5" font-size="40" class="i">x</text><text x="294.5" y="1925.5" font-size="23.5">4</text><text transform="translate(211.5 1922) scale(1.05 1.3)" font-size="40">(</text><text transform="translate(311 1922) scale(1.05 1.3)" font-size="40">)</text><text x="350" y="1916.5" font-size="33.5">response surface</text>
<text x="725" y="1916.5" font-size="33.5">(f)</text><text x="782.5" y="1916.5" font-size="40">y</text><text x="802.5" y="1925.5" font-size="23.5">2</text><text transform="translate(826.1 1919.5) scale(1.17 1)" font-size="40">=</text><text class="i" transform="translate(866 1916.5) scale(1.25 1)" font-size="40">f</text><text x="908.5" y="1916.5" font-size="40" class="i">x</text><text x="927" y="1925.5" font-size="23.5">1</text><text x="937.5" y="1916.5" font-size="40">,</text><text x="953.5" y="1916.5" font-size="40" class="i">x</text><text x="972" y="1925.5" font-size="23.5">4</text><text transform="translate(889 1922) scale(1.05 1.3)" font-size="40">(</text><text transform="translate(988.5 1922) scale(1.05 1.3)" font-size="40">)</text><text x="1029" y="1916.5" font-size="33.5">contour line</text>
</svg></body></html>
